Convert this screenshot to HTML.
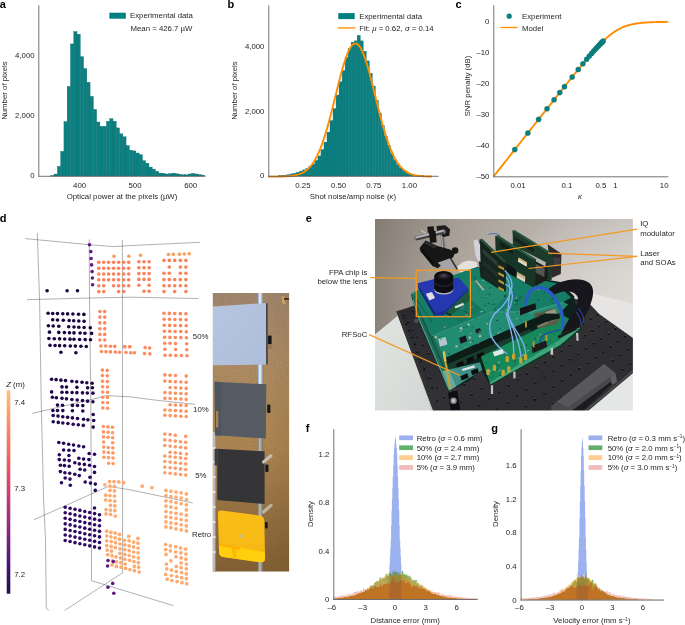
<!DOCTYPE html>
<html><head><meta charset="utf-8"><title>Figure</title>
<style>
html,body{margin:0;padding:0;background:#fff;}
body{width:685px;height:625px;overflow:hidden;font-family:"Liberation Sans",sans-serif;}
svg{display:block;}
svg text{filter:opacity(1);}
svg text{font-family:"Liberation Sans",sans-serif;}
</style></head><body>
<svg width="685" height="625" viewBox="0 0 685 625">
<rect width="685" height="625" fill="#fff"/>
<rect x="50.85" y="175.50" width="3.27" height="0.50" fill="#0c8080" stroke="#0a6c6e" stroke-width="0.35"/>
<rect x="54.12" y="174.00" width="3.27" height="2.00" fill="#0c8080" stroke="#0a6c6e" stroke-width="0.35"/>
<rect x="57.39" y="166.30" width="3.27" height="9.70" fill="#0c8080" stroke="#0a6c6e" stroke-width="0.35"/>
<rect x="60.66" y="151.40" width="3.27" height="24.60" fill="#0c8080" stroke="#0a6c6e" stroke-width="0.35"/>
<rect x="63.93" y="121.50" width="3.27" height="54.50" fill="#0c8080" stroke="#0a6c6e" stroke-width="0.35"/>
<rect x="67.20" y="86.40" width="3.27" height="89.60" fill="#0c8080" stroke="#0a6c6e" stroke-width="0.35"/>
<rect x="70.47" y="43.90" width="3.27" height="132.10" fill="#0c8080" stroke="#0a6c6e" stroke-width="0.35"/>
<rect x="73.74" y="31.60" width="3.27" height="144.40" fill="#0c8080" stroke="#0a6c6e" stroke-width="0.35"/>
<rect x="77.01" y="34.20" width="3.27" height="141.80" fill="#0c8080" stroke="#0a6c6e" stroke-width="0.35"/>
<rect x="80.28" y="56.70" width="3.27" height="119.30" fill="#0c8080" stroke="#0a6c6e" stroke-width="0.35"/>
<rect x="83.55" y="68.50" width="3.27" height="107.50" fill="#0c8080" stroke="#0a6c6e" stroke-width="0.35"/>
<rect x="86.82" y="82.30" width="3.27" height="93.70" fill="#0c8080" stroke="#0a6c6e" stroke-width="0.35"/>
<rect x="90.09" y="96.40" width="3.27" height="79.60" fill="#0c8080" stroke="#0a6c6e" stroke-width="0.35"/>
<rect x="93.36" y="109.40" width="3.27" height="66.60" fill="#0c8080" stroke="#0a6c6e" stroke-width="0.35"/>
<rect x="96.63" y="122.00" width="3.27" height="54.00" fill="#0c8080" stroke="#0a6c6e" stroke-width="0.35"/>
<rect x="99.90" y="126.30" width="3.27" height="49.70" fill="#0c8080" stroke="#0a6c6e" stroke-width="0.35"/>
<rect x="103.17" y="126.30" width="3.27" height="49.70" fill="#0c8080" stroke="#0a6c6e" stroke-width="0.35"/>
<rect x="106.44" y="121.20" width="3.27" height="54.80" fill="#0c8080" stroke="#0a6c6e" stroke-width="0.35"/>
<rect x="109.71" y="118.70" width="3.27" height="57.30" fill="#0c8080" stroke="#0a6c6e" stroke-width="0.35"/>
<rect x="112.98" y="121.20" width="3.27" height="54.80" fill="#0c8080" stroke="#0a6c6e" stroke-width="0.35"/>
<rect x="116.25" y="127.90" width="3.27" height="48.10" fill="#0c8080" stroke="#0a6c6e" stroke-width="0.35"/>
<rect x="119.52" y="133.80" width="3.27" height="42.20" fill="#0c8080" stroke="#0a6c6e" stroke-width="0.35"/>
<rect x="122.79" y="136.80" width="3.27" height="39.20" fill="#0c8080" stroke="#0a6c6e" stroke-width="0.35"/>
<rect x="126.06" y="145.60" width="3.27" height="30.40" fill="#0c8080" stroke="#0a6c6e" stroke-width="0.35"/>
<rect x="129.33" y="150.20" width="3.27" height="25.80" fill="#0c8080" stroke="#0a6c6e" stroke-width="0.35"/>
<rect x="132.60" y="150.90" width="3.27" height="25.10" fill="#0c8080" stroke="#0a6c6e" stroke-width="0.35"/>
<rect x="135.87" y="153.00" width="3.27" height="23.00" fill="#0c8080" stroke="#0a6c6e" stroke-width="0.35"/>
<rect x="139.14" y="154.70" width="3.27" height="21.30" fill="#0c8080" stroke="#0a6c6e" stroke-width="0.35"/>
<rect x="142.41" y="160.70" width="3.27" height="15.30" fill="#0c8080" stroke="#0a6c6e" stroke-width="0.35"/>
<rect x="145.68" y="163.20" width="3.27" height="12.80" fill="#0c8080" stroke="#0a6c6e" stroke-width="0.35"/>
<rect x="148.95" y="167.10" width="3.27" height="8.90" fill="#0c8080" stroke="#0a6c6e" stroke-width="0.35"/>
<rect x="152.22" y="169.10" width="3.27" height="6.90" fill="#0c8080" stroke="#0a6c6e" stroke-width="0.35"/>
<rect x="155.49" y="171.30" width="3.27" height="4.70" fill="#0c8080" stroke="#0a6c6e" stroke-width="0.35"/>
<rect x="158.76" y="173.10" width="3.27" height="2.90" fill="#0c8080" stroke="#0a6c6e" stroke-width="0.35"/>
<rect x="162.03" y="173.40" width="3.27" height="2.60" fill="#0c8080" stroke="#0a6c6e" stroke-width="0.35"/>
<rect x="165.30" y="174.00" width="3.27" height="2.00" fill="#0c8080" stroke="#0a6c6e" stroke-width="0.35"/>
<rect x="168.57" y="173.70" width="3.27" height="2.30" fill="#0c8080" stroke="#0a6c6e" stroke-width="0.35"/>
<rect x="171.84" y="173.20" width="3.27" height="2.80" fill="#0c8080" stroke="#0a6c6e" stroke-width="0.35"/>
<rect x="175.11" y="173.80" width="3.27" height="2.20" fill="#0c8080" stroke="#0a6c6e" stroke-width="0.35"/>
<rect x="178.38" y="174.25" width="3.27" height="1.75" fill="#0c8080" stroke="#0a6c6e" stroke-width="0.35"/>
<rect x="181.65" y="174.80" width="3.27" height="1.20" fill="#0c8080" stroke="#0a6c6e" stroke-width="0.35"/>
<rect x="184.92" y="174.80" width="3.27" height="1.20" fill="#0c8080" stroke="#0a6c6e" stroke-width="0.35"/>
<rect x="188.19" y="174.00" width="3.27" height="2.00" fill="#0c8080" stroke="#0a6c6e" stroke-width="0.35"/>
<rect x="191.46" y="173.40" width="3.27" height="2.60" fill="#0c8080" stroke="#0a6c6e" stroke-width="0.35"/>
<rect x="194.73" y="174.00" width="3.27" height="2.00" fill="#0c8080" stroke="#0a6c6e" stroke-width="0.35"/>
<rect x="198.00" y="174.70" width="3.27" height="1.30" fill="#0c8080" stroke="#0a6c6e" stroke-width="0.35"/>
<rect x="201.27" y="175.10" width="3.27" height="0.90" fill="#0c8080" stroke="#0a6c6e" stroke-width="0.35"/>
<line x1="38.80" y1="5.30" x2="38.80" y2="176.70" stroke="#5a5a5a" stroke-width="0.85" />
<line x1="38.40" y1="176.30" x2="205.50" y2="176.30" stroke="#5a5a5a" stroke-width="0.85" />
<text x="34.60" y="178.45" font-size="7.8" text-anchor="end" fill="#262626" >0</text>
<text x="34.60" y="118.45" font-size="7.8" text-anchor="end" fill="#262626" >2,000</text>
<text x="34.60" y="58.45" font-size="7.8" text-anchor="end" fill="#262626" >4,000</text>
<text x="79.60" y="187.80" font-size="7.8" text-anchor="middle" fill="#262626" >400</text>
<text x="135.00" y="187.80" font-size="7.8" text-anchor="middle" fill="#262626" >500</text>
<text x="190.70" y="187.80" font-size="7.8" text-anchor="middle" fill="#262626" >600</text>
<text transform="translate(7.20,90.60) rotate(-90)" font-size="7.8" text-anchor="middle" fill="#262626">Number of pixels</text>
<text x="122.00" y="199.30" font-size="7.8" text-anchor="middle" fill="#262626" >Optical power at the pixels (µW)</text>
<rect x="109.40" y="12.70" width="16.40" height="6.00" fill="#008080" />
<text x="130.00" y="18.20" font-size="7.8" text-anchor="start" fill="#262626" >Experimental data</text>
<text x="130.50" y="31.20" font-size="7.8" text-anchor="start" fill="#262626" >Mean = 426.7 µW</text>
<text x="-0.30" y="7.90" font-size="11" text-anchor="start" font-weight="bold" fill="#000" >a</text>
<rect x="278.65" y="175.69" width="3.02" height="0.31" fill="#0c8080" stroke="#0a6c6e" stroke-width="0.35"/>
<rect x="281.67" y="175.45" width="3.02" height="0.55" fill="#0c8080" stroke="#0a6c6e" stroke-width="0.35"/>
<rect x="284.69" y="175.09" width="3.02" height="0.91" fill="#0c8080" stroke="#0a6c6e" stroke-width="0.35"/>
<rect x="287.71" y="174.58" width="3.02" height="1.42" fill="#0c8080" stroke="#0a6c6e" stroke-width="0.35"/>
<rect x="290.73" y="173.91" width="3.02" height="2.09" fill="#0c8080" stroke="#0a6c6e" stroke-width="0.35"/>
<rect x="293.75" y="173.13" width="3.02" height="2.87" fill="#0c8080" stroke="#0a6c6e" stroke-width="0.35"/>
<rect x="296.77" y="172.20" width="3.02" height="3.80" fill="#0c8080" stroke="#0a6c6e" stroke-width="0.35"/>
<rect x="299.79" y="171.06" width="3.02" height="4.94" fill="#0c8080" stroke="#0a6c6e" stroke-width="0.35"/>
<rect x="302.81" y="169.93" width="3.02" height="6.07" fill="#0c8080" stroke="#0a6c6e" stroke-width="0.35"/>
<rect x="305.84" y="168.50" width="3.02" height="7.50" fill="#0c8080" stroke="#0a6c6e" stroke-width="0.35"/>
<rect x="308.86" y="166.50" width="3.02" height="9.50" fill="#0c8080" stroke="#0a6c6e" stroke-width="0.35"/>
<rect x="311.88" y="164.12" width="3.02" height="11.88" fill="#0c8080" stroke="#0a6c6e" stroke-width="0.35"/>
<rect x="314.90" y="160.53" width="3.02" height="15.47" fill="#0c8080" stroke="#0a6c6e" stroke-width="0.35"/>
<rect x="317.92" y="155.96" width="3.02" height="20.04" fill="#0c8080" stroke="#0a6c6e" stroke-width="0.35"/>
<rect x="320.94" y="149.65" width="3.02" height="26.35" fill="#0c8080" stroke="#0a6c6e" stroke-width="0.35"/>
<rect x="323.96" y="142.14" width="3.02" height="33.86" fill="#0c8080" stroke="#0a6c6e" stroke-width="0.35"/>
<rect x="326.98" y="132.13" width="3.02" height="43.87" fill="#0c8080" stroke="#0a6c6e" stroke-width="0.35"/>
<rect x="330.00" y="120.63" width="3.02" height="55.37" fill="#0c8080" stroke="#0a6c6e" stroke-width="0.35"/>
<rect x="333.02" y="108.66" width="3.02" height="67.34" fill="#0c8080" stroke="#0a6c6e" stroke-width="0.35"/>
<rect x="336.04" y="95.03" width="3.02" height="80.97" fill="#0c8080" stroke="#0a6c6e" stroke-width="0.35"/>
<rect x="339.06" y="81.76" width="3.02" height="94.24" fill="#0c8080" stroke="#0a6c6e" stroke-width="0.35"/>
<rect x="342.08" y="70.53" width="3.02" height="105.47" fill="#0c8080" stroke="#0a6c6e" stroke-width="0.35"/>
<rect x="345.10" y="57.36" width="3.02" height="118.64" fill="#0c8080" stroke="#0a6c6e" stroke-width="0.35"/>
<rect x="348.12" y="48.68" width="3.02" height="127.32" fill="#0c8080" stroke="#0a6c6e" stroke-width="0.35"/>
<rect x="351.14" y="42.16" width="3.02" height="133.84" fill="#0c8080" stroke="#0a6c6e" stroke-width="0.35"/>
<rect x="354.16" y="40.87" width="3.02" height="135.13" fill="#0c8080" stroke="#0a6c6e" stroke-width="0.35"/>
<rect x="357.18" y="35.39" width="3.02" height="140.61" fill="#0c8080" stroke="#0a6c6e" stroke-width="0.35"/>
<rect x="360.20" y="40.87" width="3.02" height="135.13" fill="#0c8080" stroke="#0a6c6e" stroke-width="0.35"/>
<rect x="363.22" y="51.27" width="3.02" height="124.73" fill="#0c8080" stroke="#0a6c6e" stroke-width="0.35"/>
<rect x="366.24" y="60.89" width="3.02" height="115.11" fill="#0c8080" stroke="#0a6c6e" stroke-width="0.35"/>
<rect x="369.26" y="73.33" width="3.02" height="102.67" fill="#0c8080" stroke="#0a6c6e" stroke-width="0.35"/>
<rect x="372.28" y="86.02" width="3.02" height="89.98" fill="#0c8080" stroke="#0a6c6e" stroke-width="0.35"/>
<rect x="375.30" y="100.54" width="3.02" height="75.46" fill="#0c8080" stroke="#0a6c6e" stroke-width="0.35"/>
<rect x="378.32" y="112.97" width="3.02" height="63.03" fill="#0c8080" stroke="#0a6c6e" stroke-width="0.35"/>
<rect x="381.34" y="125.66" width="3.02" height="50.34" fill="#0c8080" stroke="#0a6c6e" stroke-width="0.35"/>
<rect x="384.36" y="136.04" width="3.02" height="39.96" fill="#0c8080" stroke="#0a6c6e" stroke-width="0.35"/>
<rect x="387.38" y="145.51" width="3.02" height="30.49" fill="#0c8080" stroke="#0a6c6e" stroke-width="0.35"/>
<rect x="390.40" y="153.73" width="3.02" height="22.27" fill="#0c8080" stroke="#0a6c6e" stroke-width="0.35"/>
<rect x="393.43" y="159.85" width="3.02" height="16.15" fill="#0c8080" stroke="#0a6c6e" stroke-width="0.35"/>
<rect x="396.45" y="164.58" width="3.02" height="11.42" fill="#0c8080" stroke="#0a6c6e" stroke-width="0.35"/>
<rect x="399.47" y="168.01" width="3.02" height="7.99" fill="#0c8080" stroke="#0a6c6e" stroke-width="0.35"/>
<rect x="402.49" y="170.71" width="3.02" height="5.29" fill="#0c8080" stroke="#0a6c6e" stroke-width="0.35"/>
<rect x="405.51" y="172.54" width="3.02" height="3.46" fill="#0c8080" stroke="#0a6c6e" stroke-width="0.35"/>
<rect x="408.53" y="173.82" width="3.02" height="2.18" fill="#0c8080" stroke="#0a6c6e" stroke-width="0.35"/>
<rect x="411.55" y="174.64" width="3.02" height="1.36" fill="#0c8080" stroke="#0a6c6e" stroke-width="0.35"/>
<rect x="414.57" y="175.19" width="3.02" height="0.81" fill="#0c8080" stroke="#0a6c6e" stroke-width="0.35"/>
<rect x="417.59" y="175.52" width="3.02" height="0.48" fill="#0c8080" stroke="#0a6c6e" stroke-width="0.35"/>
<rect x="420.61" y="175.73" width="3.02" height="0.27" fill="#0c8080" stroke="#0a6c6e" stroke-width="0.35"/>
<polyline points="268.16,176.64 268.98,176.64 269.80,176.64 270.62,176.64 271.43,176.63 272.25,176.63 273.07,176.63 273.89,176.62 274.71,176.62 275.53,176.61 276.35,176.60 277.17,176.59 277.99,176.58 278.80,176.57 279.62,176.56 280.44,176.54 281.26,176.52 282.08,176.50 282.90,176.48 283.72,176.45 284.54,176.42 285.36,176.38 286.17,176.34 286.99,176.30 287.81,176.24 288.63,176.18 289.45,176.11 290.27,176.03 291.09,175.95 291.91,175.85 292.73,175.73 293.54,175.61 294.36,175.46 295.18,175.30 296.00,175.13 296.82,174.93 297.64,174.71 298.46,174.46 299.28,174.19 300.10,173.89 300.91,173.55 301.73,173.19 302.55,172.78 303.37,172.34 304.19,171.85 305.01,171.31 305.83,170.73 306.65,170.09 307.47,169.40 308.28,168.65 309.10,167.83 309.92,166.95 310.74,166.00 311.56,164.98 312.38,163.88 313.20,162.69 314.02,161.43 314.84,160.08 315.65,158.64 316.47,157.10 317.29,155.48 318.11,153.75 318.93,151.93 319.75,150.01 320.57,147.99 321.39,145.87 322.21,143.64 323.02,141.32 323.84,138.89 324.66,136.37 325.48,133.76 326.30,131.05 327.12,128.25 327.94,125.37 328.76,122.40 329.58,119.37 330.40,116.27 331.21,113.11 332.03,109.89 332.85,106.64 333.67,103.35 334.49,100.03 335.31,96.70 336.13,93.37 336.95,90.05 337.77,86.74 338.58,83.47 339.40,80.25 340.22,77.08 341.04,73.99 341.86,70.98 342.68,68.06 343.50,65.26 344.32,62.57 345.14,60.02 345.95,57.62 346.77,55.37 347.59,53.29 348.41,51.39 349.23,49.67 350.05,48.15 350.87,46.83 351.69,45.73 352.51,44.83 353.32,44.16 354.14,43.71 354.96,43.49 355.78,43.49 356.60,43.71 357.42,44.17 358.24,44.84 359.06,45.74 359.88,46.85 360.69,48.17 361.51,49.69 362.33,51.41 363.15,53.31 363.97,55.40 364.79,57.65 365.61,60.05 366.43,62.61 367.25,65.29 368.06,68.10 368.88,71.02 369.70,74.03 370.52,77.12 371.34,80.29 372.16,83.52 372.98,86.79 373.80,90.09 374.62,93.41 375.43,96.74 376.25,100.07 377.07,103.39 377.89,106.68 378.71,109.93 379.53,113.15 380.35,116.31 381.17,119.41 381.99,122.44 382.80,125.40 383.62,128.29 384.44,131.08 385.26,133.79 386.08,136.41 386.90,138.93 387.72,141.35 388.54,143.67 389.36,145.89 390.17,148.02 390.99,150.04 391.81,151.96 392.63,153.78 393.45,155.50 394.27,157.13 395.09,158.66 395.91,160.10 396.73,161.45 397.54,162.71 398.36,163.89 399.18,164.99 400.00,166.01 400.82,166.97 401.64,167.85 402.46,168.66 403.28,169.41 404.10,170.10 404.91,170.74 405.73,171.32 406.55,171.85 407.37,172.34 408.19,172.79 409.01,173.19 409.83,173.56 410.65,173.89 411.47,174.19 412.28,174.47 413.10,174.71 413.92,174.93 414.74,175.13 415.56,175.31 416.38,175.47 417.20,175.61 418.02,175.73 418.84,175.85 419.65,175.95 420.47,176.04 421.29,176.11 422.11,176.18 422.93,176.24 423.75,176.30 424.57,176.34 425.39,176.39 426.21,176.42 427.02,176.45 427.84,176.48 428.66,176.50 429.48,176.52 430.30,176.54 431.12,176.56 431.94,176.57" fill="none" stroke="#ff8c00" stroke-width="1.9" stroke-linejoin="round"/>
<line x1="268.80" y1="5.30" x2="268.80" y2="176.70" stroke="#5a5a5a" stroke-width="0.85" />
<line x1="268.40" y1="176.30" x2="438.60" y2="176.30" stroke="#5a5a5a" stroke-width="0.85" />
<text x="264.40" y="178.45" font-size="7.8" text-anchor="end" fill="#262626" >0</text>
<text x="264.40" y="114.15" font-size="7.8" text-anchor="end" fill="#262626" >2,000</text>
<text x="264.40" y="49.45" font-size="7.8" text-anchor="end" fill="#262626" >4,000</text>
<text x="302.90" y="187.80" font-size="7.8" text-anchor="middle" fill="#262626" >0.25</text>
<text x="338.50" y="187.80" font-size="7.8" text-anchor="middle" fill="#262626" >0.50</text>
<text x="373.80" y="187.80" font-size="7.8" text-anchor="middle" fill="#262626" >0.75</text>
<text x="409.40" y="187.80" font-size="7.8" text-anchor="middle" fill="#262626" >1.00</text>
<text transform="translate(236.50,90.60) rotate(-90)" font-size="7.8" text-anchor="middle" fill="#262626">Number of pixels</text>
<text x="353.00" y="199.30" font-size="7.8" text-anchor="middle" fill="#262626" >Shot noise/amp noise (<tspan font-style="italic">κ</tspan>)</text>
<rect x="338.30" y="13.10" width="16.40" height="6.00" fill="#008080" />
<text x="359.20" y="18.60" font-size="7.8" text-anchor="start" fill="#262626" >Experimental data</text>
<line x1="338.00" y1="27.90" x2="355.30" y2="27.90" stroke="#ff8c00" stroke-width="1.35" />
<text x="359.20" y="30.60" font-size="7.8" text-anchor="start" fill="#262626" >Fit: <tspan font-style="italic">μ</tspan> = 0.62, <tspan font-style="italic">σ</tspan> = 0.14</text>
<text x="227.50" y="7.90" font-size="11" text-anchor="start" font-weight="bold" fill="#000" >b</text>
<polyline points="493.60,176.49 494.19,175.75 494.77,175.01 495.35,174.27 495.93,173.53 496.52,172.79 497.10,172.05 497.68,171.31 498.26,170.57 498.85,169.83 499.43,169.09 500.01,168.36 500.59,167.62 501.18,166.88 501.76,166.14 502.34,165.40 502.92,164.66 503.51,163.92 504.09,163.18 504.67,162.44 505.25,161.70 505.84,160.96 506.42,160.23 507.00,159.49 507.58,158.75 508.17,158.01 508.75,157.27 509.33,156.53 509.91,155.79 510.50,155.05 511.08,154.31 511.66,153.57 512.24,152.83 512.82,152.09 513.41,151.36 513.99,150.62 514.57,149.88 515.15,149.14 515.74,148.40 516.32,147.66 516.90,146.92 517.48,146.18 518.07,145.44 518.65,144.70 519.23,143.97 519.81,143.23 520.40,142.49 520.98,141.75 521.56,141.01 522.14,140.27 522.73,139.53 523.31,138.79 523.89,138.05 524.47,137.31 525.06,136.58 525.64,135.84 526.22,135.10 526.80,134.36 527.39,133.62 527.97,132.88 528.55,132.14 529.13,131.40 529.72,130.66 530.30,129.92 530.88,129.19 531.46,128.45 532.05,127.71 532.63,126.97 533.21,126.23 533.79,125.49 534.38,124.75 534.96,124.01 535.54,123.28 536.12,122.54 536.71,121.80 537.29,121.06 537.87,120.32 538.45,119.58 539.04,118.84 539.62,118.10 540.20,117.37 540.78,116.63 541.36,115.89 541.95,115.15 542.53,114.41 543.11,113.67 543.69,112.94 544.28,112.20 544.86,111.46 545.44,110.72 546.02,109.98 546.61,109.24 547.19,108.51 547.77,107.77 548.35,107.03 548.94,106.29 549.52,105.56 550.10,104.82 550.68,104.08 551.27,103.34 551.85,102.61 552.43,101.87 553.01,101.13 553.60,100.39 554.18,99.66 554.76,98.92 555.34,98.18 555.93,97.45 556.51,96.71 557.09,95.97 557.67,95.24 558.26,94.50 558.84,93.77 559.42,93.03 560.00,92.30 560.59,91.56 561.17,90.83 561.75,90.09 562.33,89.36 562.92,88.62 563.50,87.89 564.08,87.15 564.66,86.42 565.25,85.69 565.83,84.96 566.41,84.22 566.99,83.49 567.58,82.76 568.16,82.03 568.74,81.30 569.32,80.57 569.91,79.84 570.49,79.11 571.07,78.38 571.65,77.65 572.23,76.93 572.82,76.20 573.40,75.47 573.98,74.75 574.56,74.02 575.15,73.30 575.73,72.58 576.31,71.86 576.89,71.13 577.48,70.41 578.06,69.70 578.64,68.98 579.22,68.26 579.81,67.55 580.39,66.83 580.97,66.12 581.55,65.41 582.14,64.70 582.72,63.99 583.30,63.28 583.88,62.58 584.47,61.88 585.05,61.18 585.63,60.48 586.21,59.78 586.80,59.09 587.38,58.39 587.96,57.70 588.54,57.02 589.13,56.33 589.71,55.65 590.29,54.97 590.87,54.30 591.46,53.63 592.04,52.96 592.62,52.29 593.20,51.63 593.79,50.98 594.37,50.32 594.95,49.67 595.53,49.03 596.12,48.39 596.70,47.76 597.28,47.13 597.86,46.50 598.45,45.88 599.03,45.27 599.61,44.66 600.19,44.06 600.78,43.46 601.36,42.88 601.94,42.29 602.52,41.72 603.10,41.15 603.69,40.59 604.27,40.04 604.85,39.49 605.43,38.95 606.02,38.42 606.60,37.90 607.18,37.39 607.76,36.89 608.35,36.39 608.93,35.91 609.51,35.43 610.09,34.97 610.68,34.51 611.26,34.06 611.84,33.62 612.42,33.19 613.01,32.78 613.59,32.37 614.17,31.97 614.75,31.58 615.34,31.21 615.92,30.84 616.50,30.48 617.08,30.13 617.67,29.80 618.25,29.47 618.83,29.15 619.41,28.85 620.00,28.55 620.58,28.26 621.16,27.99 621.74,27.72 622.33,27.46 622.91,27.21 623.49,26.97 624.07,26.74 624.66,26.51 625.24,26.30 625.82,26.09 626.40,25.89 626.99,25.70 627.57,25.52 628.15,25.34 628.73,25.18 629.32,25.02 629.90,24.86 630.48,24.71 631.06,24.57 631.65,24.44 632.23,24.31 632.81,24.19 633.39,24.07 633.97,23.96 634.56,23.85 635.14,23.75 635.72,23.65 636.30,23.56 636.89,23.47 637.47,23.38 638.05,23.30 638.63,23.23 639.22,23.15 639.80,23.08 640.38,23.02 640.96,22.96 641.55,22.90 642.13,22.84 642.71,22.79 643.29,22.74 643.88,22.69 644.46,22.64 645.04,22.60 645.62,22.56 646.21,22.52 646.79,22.48 647.37,22.44 647.95,22.41 648.54,22.38 649.12,22.35 649.70,22.32 650.28,22.29 650.87,22.27 651.45,22.24 652.03,22.22 652.61,22.20 653.20,22.17 653.78,22.15 654.36,22.14 654.94,22.12 655.53,22.10 656.11,22.09 656.69,22.07 657.27,22.06 657.86,22.04 658.44,22.03 659.02,22.02 659.60,22.01 660.19,21.99 660.77,21.98 661.35,21.97 661.93,21.97 662.51,21.96 663.10,21.95 663.68,21.94 664.26,21.93 664.84,21.93 665.43,21.92 666.01,21.91 666.59,21.91 667.17,21.90 667.76,21.90 668.34,21.89" fill="none" stroke="#ff8c00" stroke-width="1.9" stroke-linejoin="round" stroke-linecap="butt"/>
<circle cx="514.77" cy="149.62" r="2.55" fill="#0c8080" stroke="#056c6c" stroke-width="0.4"/>
<circle cx="527.87" cy="133.01" r="2.55" fill="#0c8080" stroke="#056c6c" stroke-width="0.4"/>
<circle cx="538.61" cy="119.38" r="2.55" fill="#0c8080" stroke="#056c6c" stroke-width="0.4"/>
<circle cx="547.01" cy="108.74" r="2.55" fill="#0c8080" stroke="#056c6c" stroke-width="0.4"/>
<circle cx="554.06" cy="99.81" r="2.55" fill="#0c8080" stroke="#056c6c" stroke-width="0.4"/>
<circle cx="559.77" cy="92.59" r="2.55" fill="#0c8080" stroke="#056c6c" stroke-width="0.4"/>
<circle cx="564.47" cy="86.66" r="2.55" fill="#0c8080" stroke="#056c6c" stroke-width="0.4"/>
<circle cx="572.19" cy="76.98" r="2.55" fill="#0c8080" stroke="#056c6c" stroke-width="0.4"/>
<circle cx="578.24" cy="69.48" r="2.55" fill="#0c8080" stroke="#056c6c" stroke-width="0.4"/>
<circle cx="582.94" cy="63.72" r="2.55" fill="#0c8080" stroke="#056c6c" stroke-width="0.4"/>
<circle cx="586.63" cy="59.28" r="2.55" fill="#0c8080" stroke="#056c6c" stroke-width="0.4"/>
<circle cx="589.32" cy="56.11" r="2.55" fill="#0c8080" stroke="#056c6c" stroke-width="0.4"/>
<circle cx="591.67" cy="53.38" r="2.55" fill="#0c8080" stroke="#056c6c" stroke-width="0.4"/>
<circle cx="593.68" cy="51.09" r="2.55" fill="#0c8080" stroke="#056c6c" stroke-width="0.4"/>
<circle cx="595.36" cy="49.22" r="2.55" fill="#0c8080" stroke="#056c6c" stroke-width="0.4"/>
<circle cx="596.71" cy="47.75" r="2.55" fill="#0c8080" stroke="#056c6c" stroke-width="0.4"/>
<circle cx="598.38" cy="45.95" r="2.55" fill="#0c8080" stroke="#056c6c" stroke-width="0.4"/>
<circle cx="599.73" cy="44.54" r="2.55" fill="#0c8080" stroke="#056c6c" stroke-width="0.4"/>
<circle cx="601.07" cy="43.16" r="2.55" fill="#0c8080" stroke="#056c6c" stroke-width="0.4"/>
<circle cx="602.08" cy="42.16" r="2.55" fill="#0c8080" stroke="#056c6c" stroke-width="0.4"/>
<circle cx="603.09" cy="41.17" r="2.55" fill="#0c8080" stroke="#056c6c" stroke-width="0.4"/>
<line x1="493.80" y1="5.30" x2="493.80" y2="177.20" stroke="#5a5a5a" stroke-width="0.85" />
<line x1="493.40" y1="176.80" x2="668.30" y2="176.80" stroke="#5a5a5a" stroke-width="0.85" />
<text x="489.40" y="24.25" font-size="7.8" text-anchor="end" fill="#262626" >0</text>
<text x="489.40" y="55.15" font-size="7.8" text-anchor="end" fill="#262626" >–10</text>
<text x="489.40" y="86.05" font-size="7.8" text-anchor="end" fill="#262626" >–20</text>
<text x="489.40" y="116.95" font-size="7.8" text-anchor="end" fill="#262626" >–30</text>
<text x="489.40" y="147.85" font-size="7.8" text-anchor="end" fill="#262626" >–40</text>
<text x="489.40" y="178.75" font-size="7.8" text-anchor="end" fill="#262626" >–50</text>
<text x="518.10" y="187.80" font-size="7.8" text-anchor="middle" fill="#262626" >0.01</text>
<text x="566.80" y="187.80" font-size="7.8" text-anchor="middle" fill="#262626" >0.1</text>
<text x="600.84" y="187.80" font-size="7.8" text-anchor="middle" fill="#262626" >0.5</text>
<text x="615.50" y="187.80" font-size="7.8" text-anchor="middle" fill="#262626" >1</text>
<text x="664.20" y="187.80" font-size="7.8" text-anchor="middle" fill="#262626" >10</text>
<text transform="translate(470.30,86.00) rotate(-90)" font-size="7.8" text-anchor="middle" fill="#262626">SNR penalty (dB)</text>
<text x="580.00" y="198.50" font-size="7.8" text-anchor="middle" fill="#262626" ><tspan font-style="italic">κ</tspan></text>
<circle cx="509.20" cy="16.20" r="2.6" fill="#0c8080" />
<text x="522.00" y="18.90" font-size="7.8" text-anchor="start" fill="#262626" >Experiment</text>
<line x1="500.50" y1="27.50" x2="517.50" y2="27.50" stroke="#ff8c00" stroke-width="1.35" />
<text x="522.00" y="30.50" font-size="7.8" text-anchor="start" fill="#262626" >Model</text>
<text x="455.50" y="7.90" font-size="11" text-anchor="start" font-weight="bold" fill="#000" >c</text>
<polyline points="25.20,238.60 89.20,244.70 113.20,246.60 130.00,245.60 200.00,242.30" fill="none" stroke="#444" stroke-width="0.42" />
<polyline points="37.30,233.00 39.60,300.00 41.20,400.00 43.60,500.00 45.50,540.00 46.30,608.50 48.90,610.20" fill="none" stroke="#444" stroke-width="0.42" />
<polyline points="89.20,239.50 89.50,300.00 90.80,400.00 91.40,500.00 91.50,580.70" fill="none" stroke="#444" stroke-width="0.42" />
<polyline points="122.40,240.00 122.60,572.80" fill="none" stroke="#444" stroke-width="0.42" />
<polyline points="27.00,299.70 89.20,298.00 130.00,297.20 198.40,298.50" fill="none" stroke="#444" stroke-width="0.42" />
<polyline points="31.90,413.50 90.00,399.90 106.80,395.60 130.00,396.80 154.40,400.00 195.20,404.40" fill="none" stroke="#444" stroke-width="0.42" />
<polyline points="34.00,519.70 108.60,486.30 130.00,489.80 192.80,502.90" fill="none" stroke="#444" stroke-width="0.42" />
<polyline points="91.50,580.70 173.70,605.70" fill="none" stroke="#444" stroke-width="0.42" />
<polyline points="122.60,572.80 64.70,610.40" fill="none" stroke="#444" stroke-width="0.42" />
<circle cx="98.80" cy="262.20" r="1.8" fill="#fa825a" />
<circle cx="103.70" cy="262.20" r="1.8" fill="#fa825a" />
<circle cx="108.60" cy="262.20" r="1.8" fill="#fa825a" />
<circle cx="113.60" cy="262.20" r="1.8" fill="#fa825a" />
<circle cx="118.60" cy="262.20" r="1.8" fill="#fa825a" />
<circle cx="123.70" cy="262.20" r="1.8" fill="#fa825a" />
<circle cx="128.70" cy="262.20" r="1.8" fill="#fa825a" />
<circle cx="98.80" cy="268.20" r="1.8" fill="#fa825a" />
<circle cx="103.70" cy="268.20" r="1.8" fill="#fa825a" />
<circle cx="108.60" cy="268.20" r="1.8" fill="#fa825a" />
<circle cx="113.60" cy="268.20" r="1.8" fill="#fa825a" />
<circle cx="118.60" cy="268.20" r="1.8" fill="#fa825a" />
<circle cx="123.70" cy="268.20" r="1.8" fill="#fa825a" />
<circle cx="128.70" cy="268.20" r="1.8" fill="#fa825a" />
<circle cx="98.80" cy="274.00" r="1.8" fill="#fa825a" />
<circle cx="103.70" cy="274.00" r="1.8" fill="#fa825a" />
<circle cx="108.60" cy="274.00" r="1.8" fill="#fa825a" />
<circle cx="113.60" cy="274.00" r="1.8" fill="#fa825a" />
<circle cx="118.60" cy="274.00" r="1.8" fill="#fa825a" />
<circle cx="123.70" cy="274.00" r="1.8" fill="#fa825a" />
<circle cx="128.70" cy="274.00" r="1.8" fill="#fa825a" />
<circle cx="98.80" cy="279.80" r="1.8" fill="#fa825a" />
<circle cx="103.70" cy="279.80" r="1.8" fill="#fa825a" />
<circle cx="108.60" cy="279.80" r="1.8" fill="#fa825a" />
<circle cx="113.60" cy="279.80" r="1.8" fill="#fa825a" />
<circle cx="118.60" cy="279.80" r="1.8" fill="#fa825a" />
<circle cx="123.70" cy="279.80" r="1.8" fill="#fa825a" />
<circle cx="128.70" cy="279.80" r="1.8" fill="#fa825a" />
<circle cx="98.80" cy="285.70" r="1.8" fill="#fa825a" />
<circle cx="103.70" cy="285.70" r="1.8" fill="#fa825a" />
<circle cx="113.60" cy="285.70" r="1.8" fill="#fa825a" />
<circle cx="118.60" cy="285.70" r="1.8" fill="#fa825a" />
<circle cx="123.70" cy="285.70" r="1.8" fill="#fa825a" />
<circle cx="128.70" cy="285.70" r="1.8" fill="#fa825a" />
<circle cx="98.80" cy="291.60" r="1.8" fill="#fa825a" />
<circle cx="103.70" cy="291.60" r="1.8" fill="#fa825a" />
<circle cx="118.60" cy="291.60" r="1.8" fill="#fa825a" />
<circle cx="123.70" cy="291.60" r="1.8" fill="#fa825a" />
<circle cx="138.90" cy="261.80" r="1.8" fill="#fa825a" />
<circle cx="144.00" cy="261.80" r="1.8" fill="#fa825a" />
<circle cx="149.10" cy="261.80" r="1.8" fill="#fa825a" />
<circle cx="138.90" cy="267.80" r="1.8" fill="#fa825a" />
<circle cx="144.00" cy="267.80" r="1.8" fill="#fa825a" />
<circle cx="149.10" cy="267.80" r="1.8" fill="#fa825a" />
<circle cx="138.90" cy="273.60" r="1.8" fill="#fa825a" />
<circle cx="144.00" cy="273.60" r="1.8" fill="#fa825a" />
<circle cx="149.10" cy="273.60" r="1.8" fill="#fa825a" />
<circle cx="138.90" cy="279.40" r="1.8" fill="#fa825a" />
<circle cx="144.00" cy="279.40" r="1.8" fill="#fa825a" />
<circle cx="149.10" cy="279.40" r="1.8" fill="#fa825a" />
<circle cx="138.90" cy="285.30" r="1.8" fill="#fa825a" />
<circle cx="149.10" cy="285.30" r="1.8" fill="#fa825a" />
<circle cx="144.00" cy="291.20" r="1.8" fill="#fa825a" />
<circle cx="149.10" cy="291.20" r="1.8" fill="#fa825a" />
<circle cx="164.00" cy="260.40" r="1.8" fill="#fa825a" />
<circle cx="169.30" cy="260.40" r="1.8" fill="#fa825a" />
<circle cx="174.70" cy="260.40" r="1.8" fill="#fa825a" />
<circle cx="180.30" cy="260.40" r="1.8" fill="#fa825a" />
<circle cx="185.90" cy="260.40" r="1.8" fill="#fa825a" />
<circle cx="169.30" cy="267.10" r="1.8" fill="#fa825a" />
<circle cx="180.30" cy="267.10" r="1.8" fill="#fa825a" />
<circle cx="185.90" cy="267.10" r="1.8" fill="#fa825a" />
<circle cx="164.00" cy="273.20" r="1.8" fill="#fa825a" />
<circle cx="169.30" cy="273.20" r="1.8" fill="#fa825a" />
<circle cx="180.30" cy="273.20" r="1.8" fill="#fa825a" />
<circle cx="185.90" cy="273.20" r="1.8" fill="#fa825a" />
<circle cx="164.00" cy="279.60" r="1.8" fill="#fa825a" />
<circle cx="169.30" cy="279.60" r="1.8" fill="#fa825a" />
<circle cx="174.70" cy="279.60" r="1.8" fill="#fa825a" />
<circle cx="180.30" cy="279.60" r="1.8" fill="#fa825a" />
<circle cx="185.90" cy="279.60" r="1.8" fill="#fa825a" />
<circle cx="164.00" cy="285.70" r="1.8" fill="#fa825a" />
<circle cx="169.30" cy="285.70" r="1.8" fill="#fa825a" />
<circle cx="174.70" cy="285.70" r="1.8" fill="#fa825a" />
<circle cx="180.30" cy="285.70" r="1.8" fill="#fa825a" />
<circle cx="185.90" cy="285.70" r="1.8" fill="#fa825a" />
<circle cx="164.00" cy="291.60" r="1.8" fill="#fa825a" />
<circle cx="174.70" cy="291.60" r="1.8" fill="#fa825a" />
<circle cx="185.90" cy="291.60" r="1.8" fill="#fa825a" />
<circle cx="99.90" cy="311.50" r="1.8" fill="#fa855c" />
<circle cx="104.70" cy="311.50" r="1.8" fill="#fa855c" />
<circle cx="99.90" cy="317.10" r="1.8" fill="#fa865c" />
<circle cx="104.70" cy="317.10" r="1.8" fill="#fa865c" />
<circle cx="99.90" cy="322.90" r="1.8" fill="#fb875c" />
<circle cx="104.70" cy="322.90" r="1.8" fill="#fb875c" />
<circle cx="99.90" cy="328.80" r="1.8" fill="#fb885d" />
<circle cx="104.70" cy="328.80" r="1.8" fill="#fb885d" />
<circle cx="99.90" cy="334.40" r="1.8" fill="#fb895d" />
<circle cx="104.70" cy="334.40" r="1.8" fill="#fb895d" />
<circle cx="99.90" cy="340.00" r="1.8" fill="#fb8a5e" />
<circle cx="104.70" cy="340.00" r="1.8" fill="#fb8a5e" />
<circle cx="100.90" cy="345.93" r="1.8" fill="#fb8b5e" />
<circle cx="105.70" cy="346.07" r="1.8" fill="#fb8b5e" />
<circle cx="110.50" cy="346.21" r="1.8" fill="#fb8b5e" />
<circle cx="114.80" cy="346.34" r="1.8" fill="#fb8b5e" />
<circle cx="124.70" cy="346.64" r="1.8" fill="#fb8b5e" />
<circle cx="129.50" cy="346.78" r="1.8" fill="#fb8b5e" />
<circle cx="101.50" cy="351.56" r="1.8" fill="#fb8b5f" />
<circle cx="106.00" cy="351.74" r="1.8" fill="#fb8b5f" />
<circle cx="110.50" cy="351.92" r="1.8" fill="#fb8b5f" />
<circle cx="115.30" cy="352.11" r="1.8" fill="#fb8b5f" />
<circle cx="119.60" cy="352.28" r="1.8" fill="#fb8c5f" />
<circle cx="126.00" cy="352.54" r="1.8" fill="#fb8c5f" />
<circle cx="130.80" cy="352.73" r="1.8" fill="#fb8c5f" />
<circle cx="124.80" cy="346.70" r="1.8" fill="#fb8b5e" />
<circle cx="129.90" cy="346.70" r="1.8" fill="#fb8b5e" />
<circle cx="145.10" cy="347.50" r="1.8" fill="#fb8b5e" />
<circle cx="149.60" cy="348.00" r="1.8" fill="#fb8b5e" />
<circle cx="144.50" cy="353.60" r="1.8" fill="#fb8c5f" />
<circle cx="149.90" cy="353.90" r="1.8" fill="#fb8c5f" />
<circle cx="134.40" cy="352.80" r="1.8" fill="#fb8c5f" />
<circle cx="164.00" cy="313.30" r="1.8" fill="#fa865c" />
<circle cx="169.30" cy="313.42" r="1.8" fill="#fa865c" />
<circle cx="174.70" cy="313.54" r="1.8" fill="#fa865c" />
<circle cx="180.30" cy="313.66" r="1.8" fill="#fa865c" />
<circle cx="185.90" cy="313.78" r="1.8" fill="#fa865c" />
<circle cx="164.15" cy="319.20" r="1.8" fill="#fa865c" />
<circle cx="169.45" cy="319.32" r="1.8" fill="#fa865c" />
<circle cx="174.85" cy="319.44" r="1.8" fill="#fa865c" />
<circle cx="180.45" cy="319.56" r="1.8" fill="#fa875c" />
<circle cx="186.05" cy="319.68" r="1.8" fill="#fa875c" />
<circle cx="164.30" cy="325.30" r="1.8" fill="#fb875d" />
<circle cx="169.60" cy="325.42" r="1.8" fill="#fb875d" />
<circle cx="175.00" cy="325.54" r="1.8" fill="#fb875d" />
<circle cx="180.60" cy="325.66" r="1.8" fill="#fb875d" />
<circle cx="186.20" cy="325.78" r="1.8" fill="#fb875d" />
<circle cx="164.45" cy="331.20" r="1.8" fill="#fb885d" />
<circle cx="169.75" cy="331.32" r="1.8" fill="#fb885d" />
<circle cx="175.15" cy="331.44" r="1.8" fill="#fb885d" />
<circle cx="180.75" cy="331.56" r="1.8" fill="#fb885d" />
<circle cx="186.35" cy="331.68" r="1.8" fill="#fb885d" />
<circle cx="164.60" cy="337.30" r="1.8" fill="#fb895d" />
<circle cx="169.90" cy="337.42" r="1.8" fill="#fb895d" />
<circle cx="175.30" cy="337.54" r="1.8" fill="#fb895e" />
<circle cx="180.90" cy="337.66" r="1.8" fill="#fb895e" />
<circle cx="186.50" cy="337.78" r="1.8" fill="#fb895e" />
<circle cx="164.75" cy="343.20" r="1.8" fill="#fb8a5e" />
<circle cx="170.05" cy="343.32" r="1.8" fill="#fb8a5e" />
<circle cx="175.45" cy="343.44" r="1.8" fill="#fb8a5e" />
<circle cx="186.65" cy="343.68" r="1.8" fill="#fb8a5e" />
<circle cx="164.90" cy="349.30" r="1.8" fill="#fb8b5e" />
<circle cx="175.60" cy="349.54" r="1.8" fill="#fb8b5e" />
<circle cx="186.80" cy="349.78" r="1.8" fill="#fb8b5e" />
<circle cx="165.05" cy="355.20" r="1.8" fill="#fb8c5f" />
<circle cx="170.35" cy="355.32" r="1.8" fill="#fb8c5f" />
<circle cx="175.75" cy="355.44" r="1.8" fill="#fb8c5f" />
<circle cx="181.35" cy="355.56" r="1.8" fill="#fb8c5f" />
<circle cx="186.95" cy="355.68" r="1.8" fill="#fb8c5f" />
<circle cx="102.40" cy="370.10" r="1.8" fill="#fb8e60" />
<circle cx="107.20" cy="370.40" r="1.8" fill="#fb8e60" />
<circle cx="102.47" cy="375.50" r="1.8" fill="#fb8f60" />
<circle cx="107.27" cy="375.80" r="1.8" fill="#fb8f60" />
<circle cx="102.54" cy="381.30" r="1.8" fill="#fb9061" />
<circle cx="107.34" cy="381.60" r="1.8" fill="#fb9061" />
<circle cx="102.60" cy="386.70" r="1.8" fill="#fc9161" />
<circle cx="107.40" cy="387.00" r="1.8" fill="#fc9161" />
<circle cx="102.66" cy="392.00" r="1.8" fill="#fc9262" />
<circle cx="107.46" cy="392.30" r="1.8" fill="#fc9262" />
<circle cx="102.73" cy="397.20" r="1.8" fill="#fc9262" />
<circle cx="107.53" cy="397.50" r="1.8" fill="#fc9262" />
<circle cx="102.79" cy="402.50" r="1.8" fill="#fc9362" />
<circle cx="107.59" cy="402.80" r="1.8" fill="#fc9362" />
<circle cx="102.85" cy="407.90" r="1.8" fill="#fc9463" />
<circle cx="107.65" cy="408.20" r="1.8" fill="#fc9463" />
<circle cx="164.90" cy="374.90" r="1.8" fill="#fb8f60" />
<circle cx="170.10" cy="375.20" r="1.8" fill="#fb8f60" />
<circle cx="175.50" cy="375.50" r="1.8" fill="#fb8f60" />
<circle cx="186.20" cy="376.10" r="1.8" fill="#fb8f60" />
<circle cx="164.90" cy="381.10" r="1.8" fill="#fb9061" />
<circle cx="170.10" cy="381.40" r="1.8" fill="#fb9061" />
<circle cx="175.50" cy="381.70" r="1.8" fill="#fb9061" />
<circle cx="180.90" cy="382.00" r="1.8" fill="#fb9061" />
<circle cx="186.20" cy="382.30" r="1.8" fill="#fb9061" />
<circle cx="170.10" cy="387.50" r="1.8" fill="#fc9161" />
<circle cx="175.50" cy="387.80" r="1.8" fill="#fc9161" />
<circle cx="180.90" cy="388.10" r="1.8" fill="#fc9161" />
<circle cx="186.20" cy="388.40" r="1.8" fill="#fc9161" />
<circle cx="164.90" cy="392.60" r="1.8" fill="#fc9262" />
<circle cx="170.10" cy="392.90" r="1.8" fill="#fc9262" />
<circle cx="175.50" cy="393.20" r="1.8" fill="#fc9262" />
<circle cx="180.90" cy="393.50" r="1.8" fill="#fc9262" />
<circle cx="186.20" cy="393.80" r="1.8" fill="#fc9262" />
<circle cx="164.90" cy="398.20" r="1.8" fill="#fc9362" />
<circle cx="170.10" cy="398.50" r="1.8" fill="#fc9362" />
<circle cx="175.50" cy="398.80" r="1.8" fill="#fc9362" />
<circle cx="180.90" cy="399.10" r="1.8" fill="#fc9362" />
<circle cx="186.20" cy="399.40" r="1.8" fill="#fc9362" />
<circle cx="170.10" cy="404.70" r="1.8" fill="#fc9462" />
<circle cx="175.50" cy="405.00" r="1.8" fill="#fc9462" />
<circle cx="180.90" cy="405.30" r="1.8" fill="#fc9462" />
<circle cx="186.20" cy="405.60" r="1.8" fill="#fc9463" />
<circle cx="164.90" cy="410.00" r="1.8" fill="#fc9463" />
<circle cx="170.10" cy="410.30" r="1.8" fill="#fc9463" />
<circle cx="175.50" cy="410.60" r="1.8" fill="#fc9463" />
<circle cx="180.90" cy="410.90" r="1.8" fill="#fc9463" />
<circle cx="186.20" cy="411.20" r="1.8" fill="#fc9463" />
<circle cx="164.90" cy="415.30" r="1.8" fill="#fc9563" />
<circle cx="170.10" cy="415.60" r="1.8" fill="#fc9563" />
<circle cx="175.50" cy="415.90" r="1.8" fill="#fc9563" />
<circle cx="180.90" cy="416.20" r="1.8" fill="#fc9563" />
<circle cx="186.20" cy="416.50" r="1.8" fill="#fc9563" />
<circle cx="103.30" cy="426.50" r="1.8" fill="#fc9764" />
<circle cx="107.90" cy="426.90" r="1.8" fill="#fc9764" />
<circle cx="112.40" cy="427.30" r="1.8" fill="#fc9764" />
<circle cx="103.40" cy="431.90" r="1.8" fill="#fc9864" />
<circle cx="108.00" cy="432.30" r="1.8" fill="#fc9864" />
<circle cx="112.50" cy="432.70" r="1.8" fill="#fc9865" />
<circle cx="103.50" cy="436.90" r="1.8" fill="#fc9865" />
<circle cx="108.10" cy="437.30" r="1.8" fill="#fc9865" />
<circle cx="112.60" cy="437.70" r="1.8" fill="#fc9965" />
<circle cx="103.60" cy="442.00" r="1.8" fill="#fc9965" />
<circle cx="112.70" cy="442.80" r="1.8" fill="#fc9965" />
<circle cx="103.70" cy="447.10" r="1.8" fill="#fc9a66" />
<circle cx="108.30" cy="447.50" r="1.8" fill="#fc9a66" />
<circle cx="112.80" cy="447.90" r="1.8" fill="#fc9a66" />
<circle cx="103.80" cy="452.10" r="1.8" fill="#fd9b66" />
<circle cx="108.40" cy="452.50" r="1.8" fill="#fd9b66" />
<circle cx="112.90" cy="452.90" r="1.8" fill="#fd9b66" />
<circle cx="103.90" cy="457.20" r="1.8" fill="#fd9c66" />
<circle cx="108.50" cy="457.60" r="1.8" fill="#fd9c66" />
<circle cx="113.00" cy="458.00" r="1.8" fill="#fd9c66" />
<circle cx="108.60" cy="463.20" r="1.8" fill="#fd9c67" />
<circle cx="113.10" cy="463.60" r="1.8" fill="#fd9c67" />
<circle cx="164.80" cy="434.00" r="1.8" fill="#fc9865" />
<circle cx="170.10" cy="434.60" r="1.8" fill="#fc9865" />
<circle cx="175.30" cy="435.20" r="1.8" fill="#fc9865" />
<circle cx="185.70" cy="436.40" r="1.8" fill="#fc9865" />
<circle cx="164.80" cy="439.90" r="1.8" fill="#fc9965" />
<circle cx="170.10" cy="440.50" r="1.8" fill="#fc9965" />
<circle cx="175.30" cy="441.10" r="1.8" fill="#fc9965" />
<circle cx="180.50" cy="441.70" r="1.8" fill="#fc9965" />
<circle cx="185.70" cy="442.30" r="1.8" fill="#fc9965" />
<circle cx="164.80" cy="445.50" r="1.8" fill="#fc9a65" />
<circle cx="170.10" cy="446.10" r="1.8" fill="#fc9a66" />
<circle cx="175.30" cy="446.70" r="1.8" fill="#fc9a66" />
<circle cx="180.50" cy="447.30" r="1.8" fill="#fc9a66" />
<circle cx="185.70" cy="447.90" r="1.8" fill="#fc9a66" />
<circle cx="170.10" cy="452.20" r="1.8" fill="#fd9b66" />
<circle cx="175.30" cy="452.80" r="1.8" fill="#fd9b66" />
<circle cx="180.50" cy="453.40" r="1.8" fill="#fd9b66" />
<circle cx="186.50" cy="454.00" r="1.8" fill="#fd9b66" />
<circle cx="164.80" cy="456.10" r="1.8" fill="#fd9b66" />
<circle cx="170.10" cy="456.70" r="1.8" fill="#fd9b66" />
<circle cx="175.30" cy="457.30" r="1.8" fill="#fd9c66" />
<circle cx="180.50" cy="457.90" r="1.8" fill="#fd9c66" />
<circle cx="185.70" cy="458.50" r="1.8" fill="#fd9c66" />
<circle cx="164.80" cy="461.50" r="1.8" fill="#fd9c67" />
<circle cx="170.10" cy="462.10" r="1.8" fill="#fd9c67" />
<circle cx="175.30" cy="462.70" r="1.8" fill="#fd9c67" />
<circle cx="180.50" cy="463.30" r="1.8" fill="#fd9c67" />
<circle cx="185.70" cy="463.90" r="1.8" fill="#fd9d67" />
<circle cx="164.80" cy="467.10" r="1.8" fill="#fd9d67" />
<circle cx="170.10" cy="467.70" r="1.8" fill="#fd9d67" />
<circle cx="175.30" cy="468.30" r="1.8" fill="#fd9d67" />
<circle cx="180.50" cy="468.90" r="1.8" fill="#fd9d67" />
<circle cx="185.70" cy="469.50" r="1.8" fill="#fd9d67" />
<circle cx="164.80" cy="472.70" r="1.8" fill="#fd9e67" />
<circle cx="170.10" cy="473.30" r="1.8" fill="#fd9e68" />
<circle cx="175.30" cy="473.90" r="1.8" fill="#fd9e68" />
<circle cx="180.50" cy="474.50" r="1.8" fill="#fd9e68" />
<circle cx="185.70" cy="475.10" r="1.8" fill="#fd9e68" />
<circle cx="113.90" cy="256.30" r="1.8" fill="#fc9e58" />
<circle cx="128.80" cy="256.20" r="1.8" fill="#fc9e58" />
<circle cx="140.40" cy="255.20" r="1.8" fill="#fc9e58" />
<circle cx="168.50" cy="254.50" r="1.8" fill="#fc9e58" />
<circle cx="173.30" cy="254.30" r="1.8" fill="#fc9e58" />
<circle cx="179.40" cy="254.20" r="1.8" fill="#fc9e58" />
<circle cx="184.30" cy="254.00" r="1.8" fill="#fc9e58" />
<circle cx="189.10" cy="253.80" r="1.8" fill="#fc9e58" />
<circle cx="123.20" cy="482.80" r="1.85" fill="#fdab70" />
<circle cx="142.20" cy="486.20" r="1.85" fill="#fdab70" />
<circle cx="152.00" cy="487.70" r="1.85" fill="#fdab70" />
<circle cx="109.52" cy="481.60" r="1.85" fill="#fdab70" />
<circle cx="114.00" cy="481.60" r="1.85" fill="#fdab70" />
<circle cx="118.80" cy="481.92" r="1.85" fill="#fdab70" />
<circle cx="123.60" cy="482.72" r="1.85" fill="#fdab70" />
<circle cx="104.88" cy="484.80" r="1.85" fill="#fdab70" />
<circle cx="110.00" cy="486.08" r="1.85" fill="#fdab70" />
<circle cx="114.48" cy="486.40" r="1.85" fill="#fdab70" />
<circle cx="110.00" cy="490.40" r="1.85" fill="#fdab70" />
<circle cx="114.48" cy="490.88" r="1.85" fill="#fdab70" />
<circle cx="105.68" cy="495.20" r="1.85" fill="#fdab70" />
<circle cx="110.00" cy="495.52" r="1.85" fill="#fdab70" />
<circle cx="114.48" cy="496.00" r="1.85" fill="#fdab70" />
<circle cx="105.68" cy="500.00" r="1.85" fill="#fdab70" />
<circle cx="110.00" cy="500.48" r="1.85" fill="#fdab70" />
<circle cx="114.80" cy="501.12" r="1.85" fill="#fdab70" />
<circle cx="110.48" cy="505.28" r="1.85" fill="#fdab70" />
<circle cx="114.80" cy="505.92" r="1.85" fill="#fdab70" />
<circle cx="106.00" cy="509.60" r="1.85" fill="#fdab70" />
<circle cx="110.48" cy="510.08" r="1.85" fill="#fdab70" />
<circle cx="114.80" cy="510.72" r="1.85" fill="#fdab70" />
<circle cx="106.00" cy="513.92" r="1.85" fill="#fdab70" />
<circle cx="110.48" cy="514.40" r="1.85" fill="#fdab70" />
<circle cx="115.28" cy="516.00" r="1.85" fill="#fdab70" />
<circle cx="106.72" cy="531.20" r="1.85" fill="#fdab70" />
<circle cx="110.88" cy="532.32" r="1.85" fill="#fdab70" />
<circle cx="115.20" cy="533.12" r="1.85" fill="#fdab70" />
<circle cx="119.52" cy="534.40" r="1.85" fill="#fdab70" />
<circle cx="106.72" cy="536.00" r="1.85" fill="#fdab70" />
<circle cx="110.88" cy="536.80" r="1.85" fill="#fdab70" />
<circle cx="115.20" cy="537.92" r="1.85" fill="#fdab70" />
<circle cx="119.52" cy="539.20" r="1.85" fill="#fdab70" />
<circle cx="124.32" cy="540.32" r="1.85" fill="#fdab70" />
<circle cx="128.80" cy="536.32" r="1.85" fill="#fdab70" />
<circle cx="137.92" cy="538.40" r="1.85" fill="#fdab70" />
<circle cx="106.72" cy="540.80" r="1.85" fill="#fdab70" />
<circle cx="111.20" cy="541.60" r="1.85" fill="#fdab70" />
<circle cx="115.52" cy="542.72" r="1.85" fill="#fdab70" />
<circle cx="120.00" cy="544.00" r="1.85" fill="#fdab70" />
<circle cx="124.80" cy="544.80" r="1.85" fill="#fdab70" />
<circle cx="129.12" cy="540.80" r="1.85" fill="#fdab70" />
<circle cx="133.60" cy="542.08" r="1.85" fill="#fdab70" />
<circle cx="137.92" cy="543.20" r="1.85" fill="#fdab70" />
<circle cx="106.72" cy="545.60" r="1.85" fill="#fdab70" />
<circle cx="111.20" cy="546.40" r="1.85" fill="#fdab70" />
<circle cx="115.52" cy="547.52" r="1.85" fill="#fdab70" />
<circle cx="120.00" cy="548.80" r="1.85" fill="#fdab70" />
<circle cx="124.80" cy="549.60" r="1.85" fill="#fdab70" />
<circle cx="129.12" cy="545.92" r="1.85" fill="#fdab70" />
<circle cx="133.60" cy="546.88" r="1.85" fill="#fdab70" />
<circle cx="138.08" cy="548.00" r="1.85" fill="#fdab70" />
<circle cx="107.20" cy="550.08" r="1.85" fill="#fdab70" />
<circle cx="111.52" cy="551.20" r="1.85" fill="#fdab70" />
<circle cx="120.00" cy="553.28" r="1.85" fill="#fdab70" />
<circle cx="124.80" cy="554.40" r="1.85" fill="#fdab70" />
<circle cx="129.12" cy="550.72" r="1.85" fill="#fdab70" />
<circle cx="133.60" cy="552.00" r="1.85" fill="#fdab70" />
<circle cx="138.08" cy="552.80" r="1.85" fill="#fdab70" />
<circle cx="107.68" cy="554.72" r="1.85" fill="#fdab70" />
<circle cx="112.00" cy="555.68" r="1.85" fill="#fdab70" />
<circle cx="116.00" cy="556.80" r="1.85" fill="#fdab70" />
<circle cx="120.48" cy="557.92" r="1.85" fill="#fdab70" />
<circle cx="124.80" cy="559.20" r="1.85" fill="#fdab70" />
<circle cx="129.12" cy="555.52" r="1.85" fill="#fdab70" />
<circle cx="133.60" cy="556.80" r="1.85" fill="#fdab70" />
<circle cx="138.40" cy="557.92" r="1.85" fill="#fdab70" />
<circle cx="112.48" cy="560.80" r="1.85" fill="#fdab70" />
<circle cx="116.48" cy="561.92" r="1.85" fill="#fdab70" />
<circle cx="120.80" cy="562.72" r="1.85" fill="#fdab70" />
<circle cx="125.12" cy="564.00" r="1.85" fill="#fdab70" />
<circle cx="129.60" cy="560.32" r="1.85" fill="#fdab70" />
<circle cx="133.92" cy="561.60" r="1.85" fill="#fdab70" />
<circle cx="138.40" cy="562.72" r="1.85" fill="#fdab70" />
<circle cx="112.00" cy="564.80" r="1.85" fill="#fdab70" />
<circle cx="116.48" cy="566.40" r="1.85" fill="#fdab70" />
<circle cx="121.12" cy="567.20" r="1.85" fill="#fdab70" />
<circle cx="125.60" cy="568.32" r="1.85" fill="#fdab70" />
<circle cx="129.92" cy="569.60" r="1.85" fill="#fdab70" />
<circle cx="134.40" cy="566.40" r="1.85" fill="#fdab70" />
<circle cx="138.72" cy="567.20" r="1.85" fill="#fdab70" />
<circle cx="134.40" cy="570.72" r="1.85" fill="#fdab70" />
<circle cx="139.20" cy="572.00" r="1.85" fill="#fdab70" />
<circle cx="165.92" cy="490.40" r="1.85" fill="#fdab70" />
<circle cx="170.88" cy="491.20" r="1.85" fill="#fdab70" />
<circle cx="176.00" cy="492.00" r="1.85" fill="#fdab70" />
<circle cx="181.12" cy="492.80" r="1.85" fill="#fdab70" />
<circle cx="186.40" cy="493.92" r="1.85" fill="#fdab70" />
<circle cx="165.92" cy="495.52" r="1.85" fill="#fdab70" />
<circle cx="170.88" cy="496.48" r="1.85" fill="#fdab70" />
<circle cx="176.00" cy="497.12" r="1.85" fill="#fdab70" />
<circle cx="181.12" cy="498.08" r="1.85" fill="#fdab70" />
<circle cx="186.40" cy="499.52" r="1.85" fill="#fdab70" />
<circle cx="165.92" cy="500.80" r="1.85" fill="#fdab70" />
<circle cx="170.88" cy="501.60" r="1.85" fill="#fdab70" />
<circle cx="176.00" cy="502.72" r="1.85" fill="#fdab70" />
<circle cx="181.12" cy="503.68" r="1.85" fill="#fdab70" />
<circle cx="186.40" cy="504.80" r="1.85" fill="#fdab70" />
<circle cx="165.92" cy="506.08" r="1.85" fill="#fdab70" />
<circle cx="170.88" cy="506.88" r="1.85" fill="#fdab70" />
<circle cx="176.00" cy="508.00" r="1.85" fill="#fdab70" />
<circle cx="186.40" cy="509.92" r="1.85" fill="#fdab70" />
<circle cx="165.92" cy="511.52" r="1.85" fill="#fdab70" />
<circle cx="170.88" cy="512.48" r="1.85" fill="#fdab70" />
<circle cx="176.00" cy="513.28" r="1.85" fill="#fdab70" />
<circle cx="181.12" cy="514.08" r="1.85" fill="#fdab70" />
<circle cx="186.40" cy="515.20" r="1.85" fill="#fdab70" />
<circle cx="165.92" cy="516.80" r="1.85" fill="#fdab70" />
<circle cx="170.88" cy="517.60" r="1.85" fill="#fdab70" />
<circle cx="176.00" cy="518.40" r="1.85" fill="#fdab70" />
<circle cx="181.12" cy="519.52" r="1.85" fill="#fdab70" />
<circle cx="186.40" cy="520.48" r="1.85" fill="#fdab70" />
<circle cx="165.92" cy="521.92" r="1.85" fill="#fdab70" />
<circle cx="170.88" cy="522.88" r="1.85" fill="#fdab70" />
<circle cx="176.00" cy="523.68" r="1.85" fill="#fdab70" />
<circle cx="181.12" cy="524.80" r="1.85" fill="#fdab70" />
<circle cx="186.40" cy="525.92" r="1.85" fill="#fdab70" />
<circle cx="165.92" cy="526.88" r="1.85" fill="#fdab70" />
<circle cx="170.88" cy="527.68" r="1.85" fill="#fdab70" />
<circle cx="176.00" cy="528.80" r="1.85" fill="#fdab70" />
<circle cx="181.12" cy="529.92" r="1.85" fill="#fdab70" />
<circle cx="186.40" cy="530.88" r="1.85" fill="#fdab70" />
<circle cx="165.60" cy="544.48" r="1.85" fill="#fdab70" />
<circle cx="170.40" cy="545.92" r="1.85" fill="#fdab70" />
<circle cx="175.68" cy="546.72" r="1.85" fill="#fdab70" />
<circle cx="180.48" cy="548.00" r="1.85" fill="#fdab70" />
<circle cx="185.60" cy="549.12" r="1.85" fill="#fdab70" />
<circle cx="165.60" cy="549.60" r="1.85" fill="#fdab70" />
<circle cx="170.40" cy="550.88" r="1.85" fill="#fdab70" />
<circle cx="175.68" cy="552.00" r="1.85" fill="#fdab70" />
<circle cx="180.80" cy="552.80" r="1.85" fill="#fdab70" />
<circle cx="185.92" cy="554.08" r="1.85" fill="#fdab70" />
<circle cx="166.08" cy="554.40" r="1.85" fill="#fdab70" />
<circle cx="176.00" cy="556.80" r="1.85" fill="#fdab70" />
<circle cx="181.12" cy="557.92" r="1.85" fill="#fdab70" />
<circle cx="185.92" cy="559.20" r="1.85" fill="#fdab70" />
<circle cx="170.88" cy="560.80" r="1.85" fill="#fdab70" />
<circle cx="181.12" cy="562.88" r="1.85" fill="#fdab70" />
<circle cx="186.40" cy="564.00" r="1.85" fill="#fdab70" />
<circle cx="166.40" cy="564.00" r="1.85" fill="#fdab70" />
<circle cx="176.32" cy="566.40" r="1.85" fill="#fdab70" />
<circle cx="181.12" cy="567.68" r="1.85" fill="#fdab70" />
<circle cx="186.40" cy="568.80" r="1.85" fill="#fdab70" />
<circle cx="166.72" cy="568.80" r="1.85" fill="#fdab70" />
<circle cx="171.52" cy="570.08" r="1.85" fill="#fdab70" />
<circle cx="176.32" cy="571.52" r="1.85" fill="#fdab70" />
<circle cx="181.60" cy="572.48" r="1.85" fill="#fdab70" />
<circle cx="186.40" cy="573.92" r="1.85" fill="#fdab70" />
<circle cx="165.60" cy="574.40" r="1.85" fill="#fdab70" />
<circle cx="171.52" cy="575.52" r="1.85" fill="#fdab70" />
<circle cx="176.80" cy="576.48" r="1.85" fill="#fdab70" />
<circle cx="181.60" cy="577.60" r="1.85" fill="#fdab70" />
<circle cx="186.40" cy="578.72" r="1.85" fill="#fdab70" />
<circle cx="167.20" cy="579.20" r="1.85" fill="#fdab70" />
<circle cx="172.00" cy="580.48" r="1.85" fill="#fdab70" />
<circle cx="177.12" cy="581.60" r="1.85" fill="#fdab70" />
<circle cx="181.92" cy="582.72" r="1.85" fill="#fdab70" />
<circle cx="186.72" cy="583.68" r="1.85" fill="#fdab70" />
<circle cx="47.10" cy="290.80" r="1.8" fill="#18063c" />
<circle cx="67.10" cy="290.80" r="1.8" fill="#18063c" />
<circle cx="77.50" cy="290.80" r="1.8" fill="#18063c" />
<circle cx="48.10" cy="313.30" r="1.8" fill="#18063c" />
<circle cx="52.70" cy="313.44" r="1.8" fill="#18063c" />
<circle cx="57.50" cy="313.59" r="1.8" fill="#18063c" />
<circle cx="62.80" cy="313.74" r="1.8" fill="#18063c" />
<circle cx="67.60" cy="313.89" r="1.8" fill="#18063c" />
<circle cx="72.90" cy="314.05" r="1.8" fill="#18063c" />
<circle cx="78.50" cy="314.22" r="1.8" fill="#18063c" />
<circle cx="83.90" cy="314.38" r="1.8" fill="#18063c" />
<circle cx="52.70" cy="319.74" r="1.8" fill="#18063c" />
<circle cx="57.50" cy="319.98" r="1.8" fill="#18063c" />
<circle cx="63.30" cy="320.26" r="1.8" fill="#18063c" />
<circle cx="69.20" cy="320.56" r="1.8" fill="#18063c" />
<circle cx="73.70" cy="320.79" r="1.8" fill="#18063c" />
<circle cx="78.80" cy="321.04" r="1.8" fill="#18063c" />
<circle cx="84.10" cy="321.31" r="1.8" fill="#18063c" />
<circle cx="48.40" cy="325.72" r="1.8" fill="#18063c" />
<circle cx="53.20" cy="325.96" r="1.8" fill="#18063c" />
<circle cx="58.80" cy="326.24" r="1.8" fill="#18063c" />
<circle cx="68.70" cy="326.74" r="1.8" fill="#18063c" />
<circle cx="74.00" cy="327.00" r="1.8" fill="#18063c" />
<circle cx="78.80" cy="327.24" r="1.8" fill="#18063c" />
<circle cx="84.10" cy="327.50" r="1.8" fill="#18063c" />
<circle cx="90.30" cy="327.81" r="1.8" fill="#18063c" />
<circle cx="49.50" cy="332.15" r="1.8" fill="#18063c" />
<circle cx="58.80" cy="332.42" r="1.8" fill="#18063c" />
<circle cx="64.40" cy="332.59" r="1.8" fill="#18063c" />
<circle cx="69.50" cy="332.75" r="1.8" fill="#18063c" />
<circle cx="74.00" cy="332.88" r="1.8" fill="#18063c" />
<circle cx="80.10" cy="333.06" r="1.8" fill="#18063c" />
<circle cx="84.90" cy="333.21" r="1.8" fill="#18063c" />
<circle cx="91.60" cy="333.41" r="1.8" fill="#18063c" />
<circle cx="48.90" cy="338.53" r="1.8" fill="#18063c" />
<circle cx="54.30" cy="338.69" r="1.8" fill="#18063c" />
<circle cx="59.60" cy="338.85" r="1.8" fill="#18063c" />
<circle cx="64.70" cy="339.00" r="1.8" fill="#18063c" />
<circle cx="70.00" cy="339.16" r="1.8" fill="#18063c" />
<circle cx="74.00" cy="339.28" r="1.8" fill="#18063c" />
<circle cx="79.60" cy="339.45" r="1.8" fill="#18063c" />
<circle cx="85.20" cy="339.62" r="1.8" fill="#18063c" />
<circle cx="90.50" cy="339.77" r="1.8" fill="#18063c" />
<circle cx="50.00" cy="345.36" r="1.8" fill="#19063d" />
<circle cx="55.10" cy="345.51" r="1.8" fill="#19063d" />
<circle cx="59.60" cy="345.65" r="1.8" fill="#19063d" />
<circle cx="64.70" cy="345.80" r="1.8" fill="#19063d" />
<circle cx="70.30" cy="345.97" r="1.8" fill="#19063d" />
<circle cx="75.30" cy="346.12" r="1.8" fill="#19063d" />
<circle cx="80.90" cy="346.29" r="1.8" fill="#19063d" />
<circle cx="86.30" cy="346.45" r="1.8" fill="#19063e" />
<circle cx="60.90" cy="352.30" r="1.8" fill="#1a063f" />
<circle cx="75.90" cy="352.80" r="1.8" fill="#1a063f" />
<circle cx="51.60" cy="379.20" r="1.8" fill="#1d0645" />
<circle cx="56.10" cy="379.65" r="1.8" fill="#1d0645" />
<circle cx="60.90" cy="380.13" r="1.8" fill="#1d0645" />
<circle cx="65.50" cy="380.59" r="1.8" fill="#1d0646" />
<circle cx="71.90" cy="381.23" r="1.8" fill="#1d0646" />
<circle cx="76.70" cy="381.71" r="1.8" fill="#1d0646" />
<circle cx="82.00" cy="382.24" r="1.8" fill="#1d0646" />
<circle cx="86.80" cy="382.72" r="1.8" fill="#1e0746" />
<circle cx="92.10" cy="383.25" r="1.8" fill="#1e0746" />
<circle cx="62.00" cy="386.91" r="1.8" fill="#1e0747" />
<circle cx="66.50" cy="387.05" r="1.8" fill="#1e0747" />
<circle cx="76.90" cy="387.36" r="1.8" fill="#1e0747" />
<circle cx="87.60" cy="387.68" r="1.8" fill="#1e0747" />
<circle cx="92.40" cy="387.82" r="1.8" fill="#1e0747" />
<circle cx="51.60" cy="391.90" r="1.8" fill="#1f0748" />
<circle cx="62.00" cy="392.21" r="1.8" fill="#1f0748" />
<circle cx="66.80" cy="392.36" r="1.8" fill="#1f0748" />
<circle cx="72.10" cy="392.51" r="1.8" fill="#1f0748" />
<circle cx="76.90" cy="392.66" r="1.8" fill="#1f0748" />
<circle cx="82.50" cy="392.83" r="1.8" fill="#1f0748" />
<circle cx="87.30" cy="392.97" r="1.8" fill="#1f0748" />
<circle cx="92.90" cy="393.14" r="1.8" fill="#1f0749" />
<circle cx="52.40" cy="397.29" r="1.8" fill="#1f0749" />
<circle cx="56.40" cy="397.73" r="1.8" fill="#1f074a" />
<circle cx="62.00" cy="398.34" r="1.8" fill="#20074a" />
<circle cx="66.50" cy="398.84" r="1.8" fill="#20074a" />
<circle cx="71.90" cy="399.43" r="1.8" fill="#20074a" />
<circle cx="77.20" cy="400.02" r="1.8" fill="#20074a" />
<circle cx="82.50" cy="400.60" r="1.8" fill="#20074a" />
<circle cx="87.60" cy="401.16" r="1.8" fill="#20074a" />
<circle cx="92.90" cy="401.74" r="1.8" fill="#20074b" />
<circle cx="57.50" cy="405.12" r="1.8" fill="#20074b" />
<circle cx="62.50" cy="405.22" r="1.8" fill="#20074b" />
<circle cx="72.40" cy="405.42" r="1.8" fill="#20074b" />
<circle cx="77.50" cy="405.52" r="1.8" fill="#20074b" />
<circle cx="82.80" cy="405.62" r="1.8" fill="#20074b" />
<circle cx="52.90" cy="410.43" r="1.8" fill="#21074d" />
<circle cx="57.50" cy="410.52" r="1.8" fill="#21074d" />
<circle cx="62.80" cy="410.62" r="1.8" fill="#21074d" />
<circle cx="72.40" cy="410.82" r="1.8" fill="#21074d" />
<circle cx="82.80" cy="411.02" r="1.8" fill="#21074d" />
<circle cx="53.20" cy="415.50" r="1.8" fill="#22074e" />
<circle cx="58.00" cy="416.10" r="1.8" fill="#22074e" />
<circle cx="62.80" cy="416.70" r="1.8" fill="#22074e" />
<circle cx="67.60" cy="417.30" r="1.8" fill="#22074e" />
<circle cx="72.40" cy="417.90" r="1.8" fill="#22074e" />
<circle cx="77.50" cy="418.54" r="1.8" fill="#22074e" />
<circle cx="83.60" cy="419.30" r="1.8" fill="#22074f" />
<circle cx="87.90" cy="419.84" r="1.8" fill="#22074f" />
<circle cx="93.70" cy="420.56" r="1.8" fill="#22074f" />
<circle cx="53.20" cy="421.79" r="1.8" fill="#23074f" />
<circle cx="58.30" cy="422.40" r="1.8" fill="#23074f" />
<circle cx="62.80" cy="422.94" r="1.8" fill="#230750" />
<circle cx="67.90" cy="423.56" r="1.8" fill="#230750" />
<circle cx="73.20" cy="424.19" r="1.8" fill="#230750" />
<circle cx="78.30" cy="424.80" r="1.8" fill="#230750" />
<circle cx="83.30" cy="425.40" r="1.8" fill="#230750" />
<circle cx="93.20" cy="414.50" r="1.8" fill="#22074e" />
<circle cx="93.20" cy="427.10" r="1.8" fill="#230750" />
<circle cx="58.80" cy="442.50" r="1.8" fill="#250754" />
<circle cx="63.60" cy="443.30" r="1.8" fill="#250754" />
<circle cx="68.70" cy="444.20" r="1.8" fill="#250755" />
<circle cx="73.50" cy="445.00" r="1.8" fill="#260755" />
<circle cx="78.80" cy="446.00" r="1.8" fill="#260755" />
<circle cx="83.60" cy="446.80" r="1.8" fill="#260755" />
<circle cx="63.60" cy="450.00" r="1.8" fill="#260756" />
<circle cx="68.90" cy="450.30" r="1.8" fill="#260756" />
<circle cx="74.00" cy="450.60" r="1.8" fill="#260756" />
<circle cx="59.30" cy="454.80" r="1.8" fill="#270757" />
<circle cx="68.90" cy="455.50" r="1.8" fill="#270757" />
<circle cx="89.20" cy="453.50" r="1.8" fill="#270757" />
<circle cx="94.50" cy="454.30" r="1.8" fill="#270757" />
<circle cx="59.30" cy="459.60" r="1.8" fill="#270758" />
<circle cx="64.40" cy="460.00" r="1.8" fill="#280758" />
<circle cx="69.20" cy="460.60" r="1.8" fill="#280758" />
<circle cx="78.80" cy="458.30" r="1.8" fill="#270758" />
<circle cx="83.60" cy="459.10" r="1.8" fill="#270758" />
<circle cx="88.90" cy="459.60" r="1.8" fill="#270758" />
<circle cx="60.40" cy="465.20" r="1.8" fill="#280759" />
<circle cx="64.40" cy="465.60" r="1.8" fill="#28075a" />
<circle cx="69.20" cy="466.20" r="1.8" fill="#28075a" />
<circle cx="74.80" cy="462.80" r="1.8" fill="#280759" />
<circle cx="79.30" cy="463.90" r="1.8" fill="#280759" />
<circle cx="84.40" cy="464.40" r="1.8" fill="#280759" />
<circle cx="89.50" cy="465.20" r="1.8" fill="#280759" />
<circle cx="94.50" cy="466.50" r="1.8" fill="#28075a" />
<circle cx="60.40" cy="471.60" r="1.8" fill="#29085b" />
<circle cx="64.90" cy="472.70" r="1.8" fill="#29085b" />
<circle cx="69.70" cy="473.20" r="1.8" fill="#29085b" />
<circle cx="74.80" cy="474.30" r="1.8" fill="#29085c" />
<circle cx="79.30" cy="475.60" r="1.8" fill="#2a085c" />
<circle cx="80.10" cy="469.20" r="1.8" fill="#29085a" />
<circle cx="84.70" cy="470.00" r="1.8" fill="#29085b" />
<circle cx="94.50" cy="472.40" r="1.8" fill="#29085b" />
<circle cx="65.20" cy="478.00" r="1.8" fill="#2a085c" />
<circle cx="70.00" cy="479.10" r="1.8" fill="#2a085d" />
<circle cx="90.00" cy="477.20" r="1.8" fill="#2a085c" />
<circle cx="61.50" cy="482.80" r="1.8" fill="#2a085e" />
<circle cx="70.30" cy="485.20" r="1.8" fill="#2b085e" />
<circle cx="85.20" cy="482.00" r="1.8" fill="#2a085d" />
<circle cx="90.50" cy="483.10" r="1.8" fill="#2b085e" />
<circle cx="95.30" cy="484.10" r="1.8" fill="#2b085e" />
<circle cx="95.30" cy="490.40" r="1.8" fill="#2b085f" />
<circle cx="65.20" cy="507.20" r="1.8" fill="#2e0863" />
<circle cx="65.20" cy="512.75" r="1.8" fill="#2e0864" />
<circle cx="65.20" cy="518.30" r="1.8" fill="#2e0864" />
<circle cx="65.20" cy="523.85" r="1.8" fill="#2e0864" />
<circle cx="65.20" cy="529.40" r="1.8" fill="#2e0864" />
<circle cx="65.20" cy="534.95" r="1.8" fill="#2e0864" />
<circle cx="65.20" cy="540.50" r="1.8" fill="#2e0864" />
<circle cx="70.10" cy="508.27" r="1.8" fill="#2e0864" />
<circle cx="70.10" cy="513.82" r="1.8" fill="#2e0864" />
<circle cx="70.10" cy="519.37" r="1.8" fill="#2e0864" />
<circle cx="70.10" cy="524.92" r="1.8" fill="#2e0864" />
<circle cx="70.10" cy="530.47" r="1.8" fill="#2e0864" />
<circle cx="70.10" cy="536.02" r="1.8" fill="#2e0864" />
<circle cx="70.10" cy="541.57" r="1.8" fill="#2e0864" />
<circle cx="75.00" cy="509.34" r="1.8" fill="#2e0864" />
<circle cx="75.00" cy="514.89" r="1.8" fill="#2e0864" />
<circle cx="75.00" cy="520.44" r="1.8" fill="#2e0864" />
<circle cx="75.00" cy="525.99" r="1.8" fill="#2e0864" />
<circle cx="75.00" cy="531.54" r="1.8" fill="#2e0864" />
<circle cx="75.00" cy="537.09" r="1.8" fill="#2e0864" />
<circle cx="75.00" cy="542.64" r="1.8" fill="#2e0864" />
<circle cx="79.90" cy="510.41" r="1.8" fill="#2e0864" />
<circle cx="79.90" cy="515.96" r="1.8" fill="#2e0864" />
<circle cx="79.90" cy="521.51" r="1.8" fill="#2e0864" />
<circle cx="79.90" cy="527.06" r="1.8" fill="#2e0864" />
<circle cx="79.90" cy="532.61" r="1.8" fill="#2e0864" />
<circle cx="79.90" cy="538.16" r="1.8" fill="#2e0864" />
<circle cx="79.90" cy="543.71" r="1.8" fill="#2e0864" />
<circle cx="84.80" cy="511.48" r="1.8" fill="#2e0864" />
<circle cx="84.80" cy="517.03" r="1.8" fill="#2e0864" />
<circle cx="84.80" cy="522.58" r="1.8" fill="#2e0864" />
<circle cx="84.80" cy="528.13" r="1.8" fill="#2e0864" />
<circle cx="84.80" cy="533.68" r="1.8" fill="#2e0864" />
<circle cx="84.80" cy="539.23" r="1.8" fill="#2e0864" />
<circle cx="84.80" cy="544.78" r="1.8" fill="#2e0864" />
<circle cx="89.70" cy="512.55" r="1.8" fill="#2e0864" />
<circle cx="89.70" cy="518.10" r="1.8" fill="#2e0864" />
<circle cx="89.70" cy="523.65" r="1.8" fill="#2e0864" />
<circle cx="89.70" cy="529.20" r="1.8" fill="#2e0864" />
<circle cx="89.70" cy="534.75" r="1.8" fill="#2e0864" />
<circle cx="89.70" cy="540.30" r="1.8" fill="#2e0864" />
<circle cx="89.70" cy="545.85" r="1.8" fill="#2e0864" />
<circle cx="94.60" cy="513.62" r="1.8" fill="#2e0864" />
<circle cx="94.60" cy="519.17" r="1.8" fill="#2e0864" />
<circle cx="94.60" cy="524.72" r="1.8" fill="#2e0864" />
<circle cx="94.60" cy="530.27" r="1.8" fill="#2e0864" />
<circle cx="94.60" cy="535.82" r="1.8" fill="#2e0864" />
<circle cx="94.60" cy="541.37" r="1.8" fill="#2e0864" />
<circle cx="94.60" cy="546.92" r="1.8" fill="#2e0864" />
<circle cx="99.50" cy="514.69" r="1.8" fill="#2e0864" />
<circle cx="99.50" cy="520.24" r="1.8" fill="#2e0864" />
<circle cx="99.50" cy="525.79" r="1.8" fill="#2e0864" />
<circle cx="99.50" cy="531.34" r="1.8" fill="#2e0864" />
<circle cx="99.50" cy="536.89" r="1.8" fill="#2e0864" />
<circle cx="99.50" cy="542.44" r="1.8" fill="#2e0864" />
<circle cx="99.50" cy="547.99" r="1.8" fill="#2e0864" />
<circle cx="94.50" cy="508.00" r="1.8" fill="#2e0864" />
<circle cx="89.50" cy="244.70" r="1.8" fill="#62187f" />
<circle cx="90.80" cy="251.60" r="1.8" fill="#62187f" />
<circle cx="91.10" cy="258.50" r="1.8" fill="#62187f" />
<circle cx="91.60" cy="264.90" r="1.8" fill="#62187f" />
<circle cx="92.10" cy="271.60" r="1.8" fill="#62187f" />
<circle cx="92.40" cy="278.00" r="1.8" fill="#62187f" />
<circle cx="92.60" cy="284.70" r="1.8" fill="#62187f" />
<circle cx="108.00" cy="560.50" r="1.8" fill="#62187f" />
<circle cx="113.30" cy="561.60" r="1.8" fill="#62187f" />
<circle cx="107.60" cy="566.00" r="1.8" fill="#62187f" />
<circle cx="112.70" cy="583.40" r="1.8" fill="#62187f" />
<circle cx="108.00" cy="587.30" r="1.8" fill="#62187f" />
<circle cx="113.80" cy="593.30" r="1.8" fill="#62187f" />
<defs><linearGradient id="cb" x1="0" y1="0" x2="0" y2="1"><stop offset="0" stop-color="#fec185"/><stop offset="0.1" stop-color="#fda06e"/><stop offset="0.25" stop-color="#f8765c"/><stop offset="0.4" stop-color="#e55064"/><stop offset="0.5" stop-color="#cd4071"/><stop offset="0.62" stop-color="#a3307e"/><stop offset="0.75" stop-color="#721f81"/><stop offset="0.87" stop-color="#451077"/><stop offset="1" stop-color="#1d1147"/></linearGradient></defs>
<rect x="6.70" y="390.30" width="3.60" height="203.40" fill="url(#cb)" />
<text x="6.20" y="387.00" font-size="7.8" text-anchor="start" fill="#262626" ><tspan font-style="italic">Z</tspan> (m)</text>
<text x="14.20" y="405.00" font-size="7.8" text-anchor="start" fill="#262626" >7.4</text>
<text x="14.20" y="490.80" font-size="7.8" text-anchor="start" fill="#262626" >7.3</text>
<text x="14.20" y="576.60" font-size="7.8" text-anchor="start" fill="#262626" >7.2</text>
<text x="192.80" y="338.80" font-size="7.8" text-anchor="start" fill="#262626" >50%</text>
<text x="193.10" y="412.00" font-size="7.8" text-anchor="start" fill="#262626" >10%</text>
<text x="195.20" y="477.60" font-size="7.8" text-anchor="start" fill="#262626" >5%</text>
<text x="192.00" y="537.00" font-size="7.8" text-anchor="start" fill="#262626" >Retro</text>
<text x="-0.30" y="222.00" font-size="11" text-anchor="start" font-weight="bold" fill="#000" >d</text>
<defs><linearGradient id="cbd" x1="0" y1="0" x2="0" y2="1"><stop offset="0" stop-color="#a08773"/><stop offset="0.133" stop-color="#aa8b6d"/><stop offset="0.26" stop-color="#b08e68"/><stop offset="0.42" stop-color="#b08a5a"/><stop offset="0.56" stop-color="#ae8652"/><stop offset="0.67" stop-color="#a37b49"/><stop offset="0.815" stop-color="#916c3e"/><stop offset="1" stop-color="#7e5c30"/></linearGradient><linearGradient id="cbr" x1="0" y1="0" x2="1" y2="0"><stop offset="0" stop-color="#000" stop-opacity="0"/><stop offset="0.7" stop-color="#000" stop-opacity="0"/><stop offset="1" stop-color="#2a1808" stop-opacity="0.06"/></linearGradient><linearGradient id="lp" x1="0" y1="0" x2="1" y2="1"><stop offset="0" stop-color="#b6c6e0"/><stop offset="1" stop-color="#aebeda"/></linearGradient><linearGradient id="pole" x1="0" y1="0" x2="1" y2="0"><stop offset="0" stop-color="#86aee0"/><stop offset="0.22" stop-color="#a8c4e8"/><stop offset="0.3" stop-color="#ececec"/><stop offset="0.6" stop-color="#d8d8d8"/><stop offset="0.75" stop-color="#a8a8a8"/><stop offset="1" stop-color="#8c8478"/></linearGradient><linearGradient id="pole2" x1="0" y1="0" x2="1" y2="0"><stop offset="0" stop-color="#7c7468"/><stop offset="0.35" stop-color="#bcb8b0"/><stop offset="0.7" stop-color="#a09a90"/><stop offset="1" stop-color="#706858"/></linearGradient><linearGradient id="yel" x1="0" y1="0" x2="0" y2="1"><stop offset="0" stop-color="#f9be16"/><stop offset="0.6" stop-color="#f8ba14"/><stop offset="1" stop-color="#f6b410"/></linearGradient><clipPath id="cpd"><rect x="212.8" y="293.1" width="76.3" height="278.5"/></clipPath><filter id="bl04" x="-5%" y="-5%" width="110%" height="110%"><feGaussianBlur stdDeviation="0.35"/></filter><filter id="nz" x="0" y="0" width="100%" height="100%"><feTurbulence type="fractalNoise" baseFrequency="0.9" numOctaves="2" seed="4" result="t"/><feColorMatrix type="matrix" values="0 0 0 0 0.25  0 0 0 0 0.15  0 0 0 0 0.05  1.6 0 0 0 -0.55"/></filter></defs>
<g clip-path="url(#cpd)"><g filter="url(#bl04)">
<rect x="210.80" y="291.10" width="80.30" height="282.50" fill="url(#cbd)" />
<rect x="210.80" y="291.10" width="80.30" height="282.50" fill="url(#cbr)" />
<rect x="212.80" y="293.10" width="76.30" height="278.50" fill="#000" filter="url(#nz)" opacity="0.55"/>
<rect x="257.90" y="291.10" width="5.40" height="150.00" fill="url(#pole)" />
<rect x="257.90" y="436.00" width="5.00" height="140.00" fill="url(#pole2)" />
<rect x="212.80" y="432.00" width="2.60" height="139.00" fill="#bcb8bc" />
<rect x="212.80" y="447.00" width="2.60" height="2.20" fill="#e4e4ea" />
<rect x="212.80" y="461.00" width="2.60" height="2.20" fill="#e4e4ea" />
<rect x="212.80" y="476.00" width="2.60" height="2.20" fill="#e4e4ea" />
<rect x="212.80" y="491.00" width="2.60" height="2.20" fill="#e4e4ea" />
<rect x="212.80" y="506.00" width="2.60" height="2.20" fill="#e4e4ea" />
<rect x="212.80" y="521.00" width="2.60" height="2.20" fill="#e4e4ea" />
<rect x="212.80" y="536.00" width="2.60" height="2.20" fill="#e4e4ea" />
<rect x="212.80" y="551.00" width="2.60" height="2.20" fill="#e4e4ea" />
<polygon points="281.5,296.5 284.5,296.0 285.5,304.0 282.5,304.5" fill="#c8a060" />
<rect x="284.00" y="298.00" width="5.00" height="1.80" fill="#3a3028" />
<polygon points="212.4,306.6 266.0,303.0 266.2,364.6 213.6,365.2 212.4,365.2" fill="url(#lp)" />
<polygon points="266.0,303.0 267.6,303.6 267.8,364.2 266.2,364.6" fill="#3c4048" />
<rect x="268.00" y="335.50" width="3.60" height="9.00" fill="#15161a" rx="1"/>
<rect x="267.80" y="344.00" width="4.50" height="5.50" fill="#9a7850" rx="2"/>
<polygon points="214.6,381.8 266.3,384.3 265.8,438.4 215.2,435.3" fill="#545a64" />
<polygon points="214.6,381.8 221.0,382.1 221.0,435.7 215.2,435.3" fill="#4e545e" />
<rect x="216.00" y="411.00" width="2.30" height="16.50" fill="#a88458" />
<rect x="267.20" y="404.50" width="3.20" height="8.50" fill="#15161a" rx="1"/>
<polygon points="217.3,448.8 264.6,451.3 264.6,504.0 217.3,499.9" fill="#343438" />
<polygon points="214.6,448.8 217.3,448.8 217.3,465.5 214.6,465.5" fill="#3a3a40" />
<polyline points="263.50,462.00 271.00,455.80" fill="none" stroke="#c4bcac" stroke-width="3.2" stroke-linecap="round"/>
<polyline points="263.50,512.00 271.00,505.40" fill="none" stroke="#bcb4a2" stroke-width="3.2" stroke-linecap="round"/>
<rect x="265.30" y="464.50" width="3.20" height="7.50" fill="#15161a" rx="1"/>
<path d="M221.8,510.6 L259.6,515.4 Q264.2,516 264.3,521 L265.1,557.5 Q265.2,563 260,562.2 L223.5,557 Q219.2,556.4 219.1,552 L217.9,514.2 Q217.8,510.1 221.8,510.6 Z" fill="url(#yel)"/>
<path d="M218.9,543.6 L264.8,552.2 L265.1,557.5 Q265.2,563 260,562.2 L223.5,557 Q219.2,556.4 219.1,552 Z" fill="#ffcf10"/>
<path d="M218.9,543.6 L240,547.6 L240,549.4 L219,545.6 Z" fill="#ffa400" opacity="0.8"/>
<polygon points="231.0,546.5 237.0,547.6 236.0,558.4 233.0,558.0" fill="#ffae00" opacity="0.6"/>
<circle cx="241.00" cy="536.00" r="1.7" fill="#b0a890" />
<circle cx="241.00" cy="536.00" r="0.8" fill="#e8e8e8" />
<rect x="265.00" y="522.00" width="2.60" height="6.50" fill="#15161a" rx="1"/>
</g></g>
<defs><linearGradient id="wall" x1="0" y1="0" x2="1" y2="0"><stop offset="0" stop-color="#8a8278"/><stop offset="0.15" stop-color="#9c948a"/><stop offset="0.33" stop-color="#b0a89e"/><stop offset="0.55" stop-color="#bdb6ae"/><stop offset="0.75" stop-color="#c6c0ba"/><stop offset="1" stop-color="#cbc6c0"/></linearGradient><linearGradient id="wallv" x1="0" y1="0" x2="0" y2="1"><stop offset="0" stop-color="#000" stop-opacity="0.06"/><stop offset="0.3" stop-color="#000" stop-opacity="0"/><stop offset="1" stop-color="#000" stop-opacity="0"/></linearGradient><linearGradient id="wl" x1="0.62" y1="0.05" x2="0.95" y2="0.42"><stop offset="0" stop-color="#fff" stop-opacity="0"/><stop offset="1" stop-color="#fff" stop-opacity="0.36"/></linearGradient><linearGradient id="tabl" x1="0" y1="0" x2="1" y2="1"><stop offset="0" stop-color="#e2e6e2"/><stop offset="1" stop-color="#d2d6d4"/></linearGradient><linearGradient id="brd" x1="0" y1="0" x2="1" y2="1"><stop offset="0" stop-color="#2a2a2e"/><stop offset="0.5" stop-color="#303034"/><stop offset="1" stop-color="#2c2c30"/></linearGradient><linearGradient id="rod" x1="0" y1="0" x2="0" y2="1"><stop offset="0" stop-color="#d8d8d8"/><stop offset="0.5" stop-color="#8a8a8a"/><stop offset="1" stop-color="#505050"/></linearGradient><radialGradient id="lens" cx="0.5" cy="0.35" r="0.6"><stop offset="0" stop-color="#5a4868"/><stop offset="0.45" stop-color="#2a2230"/><stop offset="1" stop-color="#0c0c10"/></radialGradient><clipPath id="cpe"><rect x="375.0" y="219.0" width="257.9" height="191.60000000000002"/></clipPath><filter id="bl05" x="-5%" y="-5%" width="110%" height="110%"><feGaussianBlur stdDeviation="0.45"/></filter></defs>
<g clip-path="url(#cpe)"><g filter="url(#bl05)">
<rect x="372.00" y="216.00" width="263.90" height="197.60" fill="url(#wall)" />
<rect x="372.00" y="216.00" width="263.90" height="197.60" fill="url(#wallv)" />
<rect x="372.00" y="216.00" width="263.90" height="197.60" fill="url(#wl)" />
<polygon points="372.0,336.8 397.5,315.9 397.5,314.0 434.0,416.4 372.0,420.0" fill="url(#tabl)" />
<polygon points="584.0,301.0 592.8,293.6 635.9,304.3 635.9,340.0 599.2,314.0 586.4,306.8" fill="#e6e5e3" />
<polygon points="635.9,368.0 581.5,414.0 635.9,414.0" fill="#e4e7e5" />
<polygon points="396.4,311.4 413.0,306.0 470.0,290.0 586.0,300.0 599.2,314.0 635.9,340.2 635.9,368.0 581.5,414.0 434.5,414.0" fill="url(#brd)" />
<polygon points="396.4,311.4 399.6,310.6 438.5,414.0 434.5,414.0" fill="#303034" />
<polygon points="635.9,368.0 635.9,370.7 584.5,414.0 581.5,414.0" fill="#3a3c40" />
<clipPath id="cpb"><polygon points="399.8,311 470,290 586,300 599.2,314 636,340.2 636,367 585,414 438.5,414"/></clipPath><g clip-path="url(#cpb)">
<ellipse cx="376.1" cy="409.6" rx="0.95" ry="1.15" fill="#08080a"/>
<ellipse cx="376.2" cy="408.6" rx="0.75" ry="0.4" fill="#77777b"/>
<ellipse cx="375.9" cy="382.6" rx="0.95" ry="1.15" fill="#08080a"/>
<ellipse cx="376.0" cy="381.6" rx="0.75" ry="0.4" fill="#77777b"/>
<ellipse cx="381.5" cy="392.5" rx="0.95" ry="1.15" fill="#08080a"/>
<ellipse cx="381.6" cy="391.5" rx="0.75" ry="0.4" fill="#77777b"/>
<ellipse cx="387.4" cy="402.9" rx="0.95" ry="1.15" fill="#08080a"/>
<ellipse cx="387.5" cy="401.9" rx="0.75" ry="0.4" fill="#77777b"/>
<ellipse cx="376.5" cy="358.1" rx="0.95" ry="1.15" fill="#08080a"/>
<ellipse cx="376.6" cy="357.1" rx="0.75" ry="0.4" fill="#77777b"/>
<ellipse cx="381.5" cy="367.1" rx="0.95" ry="1.15" fill="#08080a"/>
<ellipse cx="381.6" cy="366.1" rx="0.75" ry="0.4" fill="#77777b"/>
<ellipse cx="386.8" cy="376.5" rx="0.95" ry="1.15" fill="#08080a"/>
<ellipse cx="386.9" cy="375.5" rx="0.75" ry="0.4" fill="#77777b"/>
<ellipse cx="392.5" cy="386.2" rx="0.95" ry="1.15" fill="#08080a"/>
<ellipse cx="392.6" cy="385.2" rx="0.75" ry="0.4" fill="#77777b"/>
<ellipse cx="398.5" cy="396.3" rx="0.95" ry="1.15" fill="#08080a"/>
<ellipse cx="398.6" cy="395.3" rx="0.75" ry="0.4" fill="#77777b"/>
<ellipse cx="404.8" cy="406.8" rx="0.95" ry="1.15" fill="#08080a"/>
<ellipse cx="404.9" cy="405.8" rx="0.75" ry="0.4" fill="#77777b"/>
<ellipse cx="378.0" cy="336.2" rx="0.95" ry="1.15" fill="#08080a"/>
<ellipse cx="378.1" cy="335.2" rx="0.75" ry="0.4" fill="#77777b"/>
<ellipse cx="382.4" cy="344.3" rx="0.95" ry="1.15" fill="#08080a"/>
<ellipse cx="382.5" cy="343.3" rx="0.75" ry="0.4" fill="#77777b"/>
<ellipse cx="387.1" cy="352.6" rx="0.95" ry="1.15" fill="#08080a"/>
<ellipse cx="387.2" cy="351.6" rx="0.75" ry="0.4" fill="#77777b"/>
<ellipse cx="392.2" cy="361.4" rx="0.95" ry="1.15" fill="#08080a"/>
<ellipse cx="392.3" cy="360.4" rx="0.75" ry="0.4" fill="#77777b"/>
<ellipse cx="397.6" cy="370.5" rx="0.95" ry="1.15" fill="#08080a"/>
<ellipse cx="397.7" cy="369.5" rx="0.75" ry="0.4" fill="#77777b"/>
<ellipse cx="403.3" cy="380.0" rx="0.95" ry="1.15" fill="#08080a"/>
<ellipse cx="403.4" cy="379.0" rx="0.75" ry="0.4" fill="#77777b"/>
<ellipse cx="409.3" cy="389.9" rx="0.95" ry="1.15" fill="#08080a"/>
<ellipse cx="409.4" cy="388.9" rx="0.75" ry="0.4" fill="#77777b"/>
<ellipse cx="415.7" cy="400.1" rx="0.95" ry="1.15" fill="#08080a"/>
<ellipse cx="415.8" cy="399.1" rx="0.75" ry="0.4" fill="#77777b"/>
<ellipse cx="380.3" cy="317.0" rx="0.95" ry="1.15" fill="#08080a"/>
<ellipse cx="380.4" cy="316.0" rx="0.75" ry="0.4" fill="#77777b"/>
<ellipse cx="384.1" cy="324.0" rx="0.95" ry="1.15" fill="#08080a"/>
<ellipse cx="384.2" cy="323.0" rx="0.75" ry="0.4" fill="#77777b"/>
<ellipse cx="388.2" cy="331.4" rx="0.95" ry="1.15" fill="#08080a"/>
<ellipse cx="388.3" cy="330.4" rx="0.75" ry="0.4" fill="#77777b"/>
<ellipse cx="392.7" cy="339.2" rx="0.95" ry="1.15" fill="#08080a"/>
<ellipse cx="392.8" cy="338.2" rx="0.75" ry="0.4" fill="#77777b"/>
<ellipse cx="397.5" cy="347.3" rx="0.95" ry="1.15" fill="#08080a"/>
<ellipse cx="397.6" cy="346.3" rx="0.75" ry="0.4" fill="#77777b"/>
<ellipse cx="402.6" cy="355.8" rx="0.95" ry="1.15" fill="#08080a"/>
<ellipse cx="402.7" cy="354.8" rx="0.75" ry="0.4" fill="#77777b"/>
<ellipse cx="408.1" cy="364.7" rx="0.95" ry="1.15" fill="#08080a"/>
<ellipse cx="408.2" cy="363.7" rx="0.75" ry="0.4" fill="#77777b"/>
<ellipse cx="413.9" cy="374.0" rx="0.95" ry="1.15" fill="#08080a"/>
<ellipse cx="414.0" cy="373.0" rx="0.75" ry="0.4" fill="#77777b"/>
<ellipse cx="420.0" cy="383.6" rx="0.95" ry="1.15" fill="#08080a"/>
<ellipse cx="420.1" cy="382.6" rx="0.75" ry="0.4" fill="#77777b"/>
<ellipse cx="426.5" cy="393.6" rx="0.95" ry="1.15" fill="#08080a"/>
<ellipse cx="426.6" cy="392.6" rx="0.75" ry="0.4" fill="#77777b"/>
<ellipse cx="433.3" cy="404.0" rx="0.95" ry="1.15" fill="#08080a"/>
<ellipse cx="433.4" cy="403.0" rx="0.75" ry="0.4" fill="#77777b"/>
<ellipse cx="390.1" cy="312.7" rx="0.95" ry="1.15" fill="#08080a"/>
<ellipse cx="390.2" cy="311.7" rx="0.75" ry="0.4" fill="#77777b"/>
<ellipse cx="394.0" cy="319.5" rx="0.95" ry="1.15" fill="#08080a"/>
<ellipse cx="394.1" cy="318.5" rx="0.75" ry="0.4" fill="#77777b"/>
<ellipse cx="398.2" cy="326.7" rx="0.95" ry="1.15" fill="#08080a"/>
<ellipse cx="398.3" cy="325.7" rx="0.75" ry="0.4" fill="#77777b"/>
<ellipse cx="402.7" cy="334.2" rx="0.95" ry="1.15" fill="#08080a"/>
<ellipse cx="402.8" cy="333.2" rx="0.75" ry="0.4" fill="#77777b"/>
<ellipse cx="407.6" cy="342.1" rx="0.95" ry="1.15" fill="#08080a"/>
<ellipse cx="407.7" cy="341.1" rx="0.75" ry="0.4" fill="#77777b"/>
<ellipse cx="412.8" cy="350.4" rx="0.95" ry="1.15" fill="#08080a"/>
<ellipse cx="412.9" cy="349.4" rx="0.75" ry="0.4" fill="#77777b"/>
<ellipse cx="418.3" cy="359.1" rx="0.95" ry="1.15" fill="#08080a"/>
<ellipse cx="418.4" cy="358.1" rx="0.75" ry="0.4" fill="#77777b"/>
<ellipse cx="424.2" cy="368.1" rx="0.95" ry="1.15" fill="#08080a"/>
<ellipse cx="424.3" cy="367.1" rx="0.75" ry="0.4" fill="#77777b"/>
<ellipse cx="430.4" cy="377.5" rx="0.95" ry="1.15" fill="#08080a"/>
<ellipse cx="430.5" cy="376.5" rx="0.75" ry="0.4" fill="#77777b"/>
<ellipse cx="437.0" cy="387.3" rx="0.95" ry="1.15" fill="#08080a"/>
<ellipse cx="437.1" cy="386.3" rx="0.75" ry="0.4" fill="#77777b"/>
<ellipse cx="443.8" cy="397.4" rx="0.95" ry="1.15" fill="#08080a"/>
<ellipse cx="443.9" cy="396.4" rx="0.75" ry="0.4" fill="#77777b"/>
<ellipse cx="451.1" cy="407.9" rx="0.95" ry="1.15" fill="#08080a"/>
<ellipse cx="451.2" cy="406.9" rx="0.75" ry="0.4" fill="#77777b"/>
<ellipse cx="399.8" cy="308.6" rx="0.95" ry="1.15" fill="#08080a"/>
<ellipse cx="399.9" cy="307.6" rx="0.75" ry="0.4" fill="#77777b"/>
<ellipse cx="403.7" cy="315.2" rx="0.95" ry="1.15" fill="#08080a"/>
<ellipse cx="403.8" cy="314.2" rx="0.75" ry="0.4" fill="#77777b"/>
<ellipse cx="408.0" cy="322.1" rx="0.95" ry="1.15" fill="#08080a"/>
<ellipse cx="408.1" cy="321.1" rx="0.75" ry="0.4" fill="#77777b"/>
<ellipse cx="412.6" cy="329.4" rx="0.95" ry="1.15" fill="#08080a"/>
<ellipse cx="412.7" cy="328.4" rx="0.75" ry="0.4" fill="#77777b"/>
<ellipse cx="417.5" cy="337.1" rx="0.95" ry="1.15" fill="#08080a"/>
<ellipse cx="417.6" cy="336.1" rx="0.75" ry="0.4" fill="#77777b"/>
<ellipse cx="422.8" cy="345.1" rx="0.95" ry="1.15" fill="#08080a"/>
<ellipse cx="422.9" cy="344.1" rx="0.75" ry="0.4" fill="#77777b"/>
<ellipse cx="428.4" cy="353.6" rx="0.95" ry="1.15" fill="#08080a"/>
<ellipse cx="428.5" cy="352.6" rx="0.75" ry="0.4" fill="#77777b"/>
<ellipse cx="434.3" cy="362.4" rx="0.95" ry="1.15" fill="#08080a"/>
<ellipse cx="434.4" cy="361.4" rx="0.75" ry="0.4" fill="#77777b"/>
<ellipse cx="440.6" cy="371.5" rx="0.95" ry="1.15" fill="#08080a"/>
<ellipse cx="440.7" cy="370.5" rx="0.75" ry="0.4" fill="#77777b"/>
<ellipse cx="447.2" cy="381.1" rx="0.95" ry="1.15" fill="#08080a"/>
<ellipse cx="447.3" cy="380.1" rx="0.75" ry="0.4" fill="#77777b"/>
<ellipse cx="454.2" cy="391.0" rx="0.95" ry="1.15" fill="#08080a"/>
<ellipse cx="454.3" cy="390.0" rx="0.75" ry="0.4" fill="#77777b"/>
<ellipse cx="461.5" cy="401.3" rx="0.95" ry="1.15" fill="#08080a"/>
<ellipse cx="461.6" cy="400.3" rx="0.75" ry="0.4" fill="#77777b"/>
<ellipse cx="409.1" cy="304.7" rx="0.95" ry="1.15" fill="#08080a"/>
<ellipse cx="409.2" cy="303.7" rx="0.75" ry="0.4" fill="#77777b"/>
<ellipse cx="413.2" cy="311.0" rx="0.95" ry="1.15" fill="#08080a"/>
<ellipse cx="413.3" cy="310.0" rx="0.75" ry="0.4" fill="#77777b"/>
<ellipse cx="417.5" cy="317.7" rx="0.95" ry="1.15" fill="#08080a"/>
<ellipse cx="417.6" cy="316.7" rx="0.75" ry="0.4" fill="#77777b"/>
<ellipse cx="422.2" cy="324.8" rx="0.95" ry="1.15" fill="#08080a"/>
<ellipse cx="422.3" cy="323.8" rx="0.75" ry="0.4" fill="#77777b"/>
<ellipse cx="427.2" cy="332.2" rx="0.95" ry="1.15" fill="#08080a"/>
<ellipse cx="427.3" cy="331.2" rx="0.75" ry="0.4" fill="#77777b"/>
<ellipse cx="432.5" cy="340.0" rx="0.95" ry="1.15" fill="#08080a"/>
<ellipse cx="432.6" cy="339.0" rx="0.75" ry="0.4" fill="#77777b"/>
<ellipse cx="438.2" cy="348.2" rx="0.95" ry="1.15" fill="#08080a"/>
<ellipse cx="438.3" cy="347.2" rx="0.75" ry="0.4" fill="#77777b"/>
<ellipse cx="444.2" cy="356.8" rx="0.95" ry="1.15" fill="#08080a"/>
<ellipse cx="444.3" cy="355.8" rx="0.75" ry="0.4" fill="#77777b"/>
<ellipse cx="450.6" cy="365.7" rx="0.95" ry="1.15" fill="#08080a"/>
<ellipse cx="450.7" cy="364.7" rx="0.75" ry="0.4" fill="#77777b"/>
<ellipse cx="457.3" cy="375.0" rx="0.95" ry="1.15" fill="#08080a"/>
<ellipse cx="457.4" cy="374.0" rx="0.75" ry="0.4" fill="#77777b"/>
<ellipse cx="464.3" cy="384.7" rx="0.95" ry="1.15" fill="#08080a"/>
<ellipse cx="464.4" cy="383.7" rx="0.75" ry="0.4" fill="#77777b"/>
<ellipse cx="471.7" cy="394.7" rx="0.95" ry="1.15" fill="#08080a"/>
<ellipse cx="471.8" cy="393.7" rx="0.75" ry="0.4" fill="#77777b"/>
<ellipse cx="479.4" cy="405.2" rx="0.95" ry="1.15" fill="#08080a"/>
<ellipse cx="479.5" cy="404.2" rx="0.75" ry="0.4" fill="#77777b"/>
<ellipse cx="418.3" cy="300.9" rx="0.95" ry="1.15" fill="#08080a"/>
<ellipse cx="418.4" cy="299.9" rx="0.75" ry="0.4" fill="#77777b"/>
<ellipse cx="422.4" cy="307.0" rx="0.95" ry="1.15" fill="#08080a"/>
<ellipse cx="422.5" cy="306.0" rx="0.75" ry="0.4" fill="#77777b"/>
<ellipse cx="426.8" cy="313.4" rx="0.95" ry="1.15" fill="#08080a"/>
<ellipse cx="426.9" cy="312.4" rx="0.75" ry="0.4" fill="#77777b"/>
<ellipse cx="431.5" cy="320.3" rx="0.95" ry="1.15" fill="#08080a"/>
<ellipse cx="431.6" cy="319.3" rx="0.75" ry="0.4" fill="#77777b"/>
<ellipse cx="436.6" cy="327.5" rx="0.95" ry="1.15" fill="#08080a"/>
<ellipse cx="436.7" cy="326.5" rx="0.75" ry="0.4" fill="#77777b"/>
<ellipse cx="442.1" cy="335.1" rx="0.95" ry="1.15" fill="#08080a"/>
<ellipse cx="442.2" cy="334.1" rx="0.75" ry="0.4" fill="#77777b"/>
<ellipse cx="447.8" cy="343.0" rx="0.95" ry="1.15" fill="#08080a"/>
<ellipse cx="447.9" cy="342.0" rx="0.75" ry="0.4" fill="#77777b"/>
<ellipse cx="453.9" cy="351.3" rx="0.95" ry="1.15" fill="#08080a"/>
<ellipse cx="454.0" cy="350.3" rx="0.75" ry="0.4" fill="#77777b"/>
<ellipse cx="460.3" cy="360.0" rx="0.95" ry="1.15" fill="#08080a"/>
<ellipse cx="460.4" cy="359.0" rx="0.75" ry="0.4" fill="#77777b"/>
<ellipse cx="467.1" cy="369.1" rx="0.95" ry="1.15" fill="#08080a"/>
<ellipse cx="467.2" cy="368.1" rx="0.75" ry="0.4" fill="#77777b"/>
<ellipse cx="474.2" cy="378.5" rx="0.95" ry="1.15" fill="#08080a"/>
<ellipse cx="474.3" cy="377.5" rx="0.75" ry="0.4" fill="#77777b"/>
<ellipse cx="481.6" cy="388.4" rx="0.95" ry="1.15" fill="#08080a"/>
<ellipse cx="481.7" cy="387.4" rx="0.75" ry="0.4" fill="#77777b"/>
<ellipse cx="489.4" cy="398.6" rx="0.95" ry="1.15" fill="#08080a"/>
<ellipse cx="489.5" cy="397.6" rx="0.75" ry="0.4" fill="#77777b"/>
<ellipse cx="497.5" cy="409.1" rx="0.95" ry="1.15" fill="#08080a"/>
<ellipse cx="497.6" cy="408.1" rx="0.75" ry="0.4" fill="#77777b"/>
<ellipse cx="431.4" cy="303.1" rx="0.95" ry="1.15" fill="#08080a"/>
<ellipse cx="431.5" cy="302.1" rx="0.75" ry="0.4" fill="#77777b"/>
<ellipse cx="435.9" cy="309.3" rx="0.95" ry="1.15" fill="#08080a"/>
<ellipse cx="436.0" cy="308.3" rx="0.75" ry="0.4" fill="#77777b"/>
<ellipse cx="440.7" cy="315.9" rx="0.95" ry="1.15" fill="#08080a"/>
<ellipse cx="440.8" cy="314.9" rx="0.75" ry="0.4" fill="#77777b"/>
<ellipse cx="445.9" cy="322.9" rx="0.95" ry="1.15" fill="#08080a"/>
<ellipse cx="446.0" cy="321.9" rx="0.75" ry="0.4" fill="#77777b"/>
<ellipse cx="451.4" cy="330.2" rx="0.95" ry="1.15" fill="#08080a"/>
<ellipse cx="451.5" cy="329.2" rx="0.75" ry="0.4" fill="#77777b"/>
<ellipse cx="457.2" cy="338.0" rx="0.95" ry="1.15" fill="#08080a"/>
<ellipse cx="457.3" cy="337.0" rx="0.75" ry="0.4" fill="#77777b"/>
<ellipse cx="463.3" cy="346.0" rx="0.95" ry="1.15" fill="#08080a"/>
<ellipse cx="463.4" cy="345.0" rx="0.75" ry="0.4" fill="#77777b"/>
<ellipse cx="469.8" cy="354.5" rx="0.95" ry="1.15" fill="#08080a"/>
<ellipse cx="469.9" cy="353.5" rx="0.75" ry="0.4" fill="#77777b"/>
<ellipse cx="476.7" cy="363.3" rx="0.95" ry="1.15" fill="#08080a"/>
<ellipse cx="476.8" cy="362.3" rx="0.75" ry="0.4" fill="#77777b"/>
<ellipse cx="483.9" cy="372.6" rx="0.95" ry="1.15" fill="#08080a"/>
<ellipse cx="484.0" cy="371.6" rx="0.75" ry="0.4" fill="#77777b"/>
<ellipse cx="491.4" cy="382.1" rx="0.95" ry="1.15" fill="#08080a"/>
<ellipse cx="491.5" cy="381.1" rx="0.75" ry="0.4" fill="#77777b"/>
<ellipse cx="499.2" cy="392.1" rx="0.95" ry="1.15" fill="#08080a"/>
<ellipse cx="499.3" cy="391.1" rx="0.75" ry="0.4" fill="#77777b"/>
<ellipse cx="507.4" cy="402.4" rx="0.95" ry="1.15" fill="#08080a"/>
<ellipse cx="507.5" cy="401.4" rx="0.75" ry="0.4" fill="#77777b"/>
<ellipse cx="444.8" cy="305.3" rx="0.95" ry="1.15" fill="#08080a"/>
<ellipse cx="444.9" cy="304.3" rx="0.75" ry="0.4" fill="#77777b"/>
<ellipse cx="449.6" cy="311.7" rx="0.95" ry="1.15" fill="#08080a"/>
<ellipse cx="449.7" cy="310.7" rx="0.75" ry="0.4" fill="#77777b"/>
<ellipse cx="454.9" cy="318.4" rx="0.95" ry="1.15" fill="#08080a"/>
<ellipse cx="455.0" cy="317.4" rx="0.75" ry="0.4" fill="#77777b"/>
<ellipse cx="460.4" cy="325.6" rx="0.95" ry="1.15" fill="#08080a"/>
<ellipse cx="460.5" cy="324.6" rx="0.75" ry="0.4" fill="#77777b"/>
<ellipse cx="466.3" cy="333.0" rx="0.95" ry="1.15" fill="#08080a"/>
<ellipse cx="466.4" cy="332.0" rx="0.75" ry="0.4" fill="#77777b"/>
<ellipse cx="472.6" cy="340.9" rx="0.95" ry="1.15" fill="#08080a"/>
<ellipse cx="472.7" cy="339.9" rx="0.75" ry="0.4" fill="#77777b"/>
<ellipse cx="479.1" cy="349.1" rx="0.95" ry="1.15" fill="#08080a"/>
<ellipse cx="479.2" cy="348.1" rx="0.75" ry="0.4" fill="#77777b"/>
<ellipse cx="486.1" cy="357.7" rx="0.95" ry="1.15" fill="#08080a"/>
<ellipse cx="486.2" cy="356.7" rx="0.75" ry="0.4" fill="#77777b"/>
<ellipse cx="493.3" cy="366.7" rx="0.95" ry="1.15" fill="#08080a"/>
<ellipse cx="493.4" cy="365.7" rx="0.75" ry="0.4" fill="#77777b"/>
<ellipse cx="500.9" cy="376.0" rx="0.95" ry="1.15" fill="#08080a"/>
<ellipse cx="501.0" cy="375.0" rx="0.75" ry="0.4" fill="#77777b"/>
<ellipse cx="508.8" cy="385.8" rx="0.95" ry="1.15" fill="#08080a"/>
<ellipse cx="508.9" cy="384.8" rx="0.75" ry="0.4" fill="#77777b"/>
<ellipse cx="517.0" cy="395.9" rx="0.95" ry="1.15" fill="#08080a"/>
<ellipse cx="517.1" cy="394.9" rx="0.75" ry="0.4" fill="#77777b"/>
<ellipse cx="525.6" cy="406.3" rx="0.95" ry="1.15" fill="#08080a"/>
<ellipse cx="525.7" cy="405.3" rx="0.75" ry="0.4" fill="#77777b"/>
<ellipse cx="453.4" cy="301.5" rx="0.95" ry="1.15" fill="#08080a"/>
<ellipse cx="453.5" cy="300.5" rx="0.75" ry="0.4" fill="#77777b"/>
<ellipse cx="458.4" cy="307.7" rx="0.95" ry="1.15" fill="#08080a"/>
<ellipse cx="458.5" cy="306.7" rx="0.75" ry="0.4" fill="#77777b"/>
<ellipse cx="463.7" cy="314.2" rx="0.95" ry="1.15" fill="#08080a"/>
<ellipse cx="463.8" cy="313.2" rx="0.75" ry="0.4" fill="#77777b"/>
<ellipse cx="469.3" cy="321.0" rx="0.95" ry="1.15" fill="#08080a"/>
<ellipse cx="469.4" cy="320.0" rx="0.75" ry="0.4" fill="#77777b"/>
<ellipse cx="475.3" cy="328.3" rx="0.95" ry="1.15" fill="#08080a"/>
<ellipse cx="475.4" cy="327.3" rx="0.75" ry="0.4" fill="#77777b"/>
<ellipse cx="481.6" cy="335.9" rx="0.95" ry="1.15" fill="#08080a"/>
<ellipse cx="481.7" cy="334.9" rx="0.75" ry="0.4" fill="#77777b"/>
<ellipse cx="488.2" cy="343.9" rx="0.95" ry="1.15" fill="#08080a"/>
<ellipse cx="488.3" cy="342.9" rx="0.75" ry="0.4" fill="#77777b"/>
<ellipse cx="495.2" cy="352.3" rx="0.95" ry="1.15" fill="#08080a"/>
<ellipse cx="495.3" cy="351.3" rx="0.75" ry="0.4" fill="#77777b"/>
<ellipse cx="502.5" cy="361.0" rx="0.95" ry="1.15" fill="#08080a"/>
<ellipse cx="502.6" cy="360.0" rx="0.75" ry="0.4" fill="#77777b"/>
<ellipse cx="510.2" cy="370.1" rx="0.95" ry="1.15" fill="#08080a"/>
<ellipse cx="510.3" cy="369.1" rx="0.75" ry="0.4" fill="#77777b"/>
<ellipse cx="518.2" cy="379.6" rx="0.95" ry="1.15" fill="#08080a"/>
<ellipse cx="518.3" cy="378.6" rx="0.75" ry="0.4" fill="#77777b"/>
<ellipse cx="526.5" cy="389.5" rx="0.95" ry="1.15" fill="#08080a"/>
<ellipse cx="526.6" cy="388.5" rx="0.75" ry="0.4" fill="#77777b"/>
<ellipse cx="535.1" cy="399.7" rx="0.95" ry="1.15" fill="#08080a"/>
<ellipse cx="535.2" cy="398.7" rx="0.75" ry="0.4" fill="#77777b"/>
<ellipse cx="544.1" cy="410.3" rx="0.95" ry="1.15" fill="#08080a"/>
<ellipse cx="544.2" cy="409.3" rx="0.75" ry="0.4" fill="#77777b"/>
<ellipse cx="466.8" cy="303.7" rx="0.95" ry="1.15" fill="#08080a"/>
<ellipse cx="466.9" cy="302.7" rx="0.75" ry="0.4" fill="#77777b"/>
<ellipse cx="472.2" cy="310.0" rx="0.95" ry="1.15" fill="#08080a"/>
<ellipse cx="472.3" cy="309.0" rx="0.75" ry="0.4" fill="#77777b"/>
<ellipse cx="477.9" cy="316.7" rx="0.95" ry="1.15" fill="#08080a"/>
<ellipse cx="478.0" cy="315.7" rx="0.75" ry="0.4" fill="#77777b"/>
<ellipse cx="484.0" cy="323.7" rx="0.95" ry="1.15" fill="#08080a"/>
<ellipse cx="484.1" cy="322.7" rx="0.75" ry="0.4" fill="#77777b"/>
<ellipse cx="490.3" cy="331.1" rx="0.95" ry="1.15" fill="#08080a"/>
<ellipse cx="490.4" cy="330.1" rx="0.75" ry="0.4" fill="#77777b"/>
<ellipse cx="497.1" cy="338.8" rx="0.95" ry="1.15" fill="#08080a"/>
<ellipse cx="497.2" cy="337.8" rx="0.75" ry="0.4" fill="#77777b"/>
<ellipse cx="504.1" cy="346.9" rx="0.95" ry="1.15" fill="#08080a"/>
<ellipse cx="504.2" cy="345.9" rx="0.75" ry="0.4" fill="#77777b"/>
<ellipse cx="511.5" cy="355.4" rx="0.95" ry="1.15" fill="#08080a"/>
<ellipse cx="511.6" cy="354.4" rx="0.75" ry="0.4" fill="#77777b"/>
<ellipse cx="519.2" cy="364.3" rx="0.95" ry="1.15" fill="#08080a"/>
<ellipse cx="519.3" cy="363.3" rx="0.75" ry="0.4" fill="#77777b"/>
<ellipse cx="527.3" cy="373.6" rx="0.95" ry="1.15" fill="#08080a"/>
<ellipse cx="527.4" cy="372.6" rx="0.75" ry="0.4" fill="#77777b"/>
<ellipse cx="535.7" cy="383.2" rx="0.95" ry="1.15" fill="#08080a"/>
<ellipse cx="535.8" cy="382.2" rx="0.75" ry="0.4" fill="#77777b"/>
<ellipse cx="544.4" cy="393.2" rx="0.95" ry="1.15" fill="#08080a"/>
<ellipse cx="544.5" cy="392.2" rx="0.75" ry="0.4" fill="#77777b"/>
<ellipse cx="553.5" cy="403.6" rx="0.95" ry="1.15" fill="#08080a"/>
<ellipse cx="553.6" cy="402.6" rx="0.75" ry="0.4" fill="#77777b"/>
<ellipse cx="480.6" cy="306.0" rx="0.95" ry="1.15" fill="#08080a"/>
<ellipse cx="480.7" cy="305.0" rx="0.75" ry="0.4" fill="#77777b"/>
<ellipse cx="486.3" cy="312.4" rx="0.95" ry="1.15" fill="#08080a"/>
<ellipse cx="486.4" cy="311.4" rx="0.75" ry="0.4" fill="#77777b"/>
<ellipse cx="492.4" cy="319.2" rx="0.95" ry="1.15" fill="#08080a"/>
<ellipse cx="492.5" cy="318.2" rx="0.75" ry="0.4" fill="#77777b"/>
<ellipse cx="498.9" cy="326.4" rx="0.95" ry="1.15" fill="#08080a"/>
<ellipse cx="499.0" cy="325.4" rx="0.75" ry="0.4" fill="#77777b"/>
<ellipse cx="505.7" cy="333.9" rx="0.95" ry="1.15" fill="#08080a"/>
<ellipse cx="505.8" cy="332.9" rx="0.75" ry="0.4" fill="#77777b"/>
<ellipse cx="512.8" cy="341.8" rx="0.95" ry="1.15" fill="#08080a"/>
<ellipse cx="512.9" cy="340.8" rx="0.75" ry="0.4" fill="#77777b"/>
<ellipse cx="520.3" cy="350.0" rx="0.95" ry="1.15" fill="#08080a"/>
<ellipse cx="520.4" cy="349.0" rx="0.75" ry="0.4" fill="#77777b"/>
<ellipse cx="528.1" cy="358.7" rx="0.95" ry="1.15" fill="#08080a"/>
<ellipse cx="528.2" cy="357.7" rx="0.75" ry="0.4" fill="#77777b"/>
<ellipse cx="536.2" cy="367.7" rx="0.95" ry="1.15" fill="#08080a"/>
<ellipse cx="536.3" cy="366.7" rx="0.75" ry="0.4" fill="#77777b"/>
<ellipse cx="544.7" cy="377.1" rx="0.95" ry="1.15" fill="#08080a"/>
<ellipse cx="544.8" cy="376.1" rx="0.75" ry="0.4" fill="#77777b"/>
<ellipse cx="553.5" cy="386.8" rx="0.95" ry="1.15" fill="#08080a"/>
<ellipse cx="553.6" cy="385.8" rx="0.75" ry="0.4" fill="#77777b"/>
<ellipse cx="562.6" cy="397.0" rx="0.95" ry="1.15" fill="#08080a"/>
<ellipse cx="562.7" cy="396.0" rx="0.75" ry="0.4" fill="#77777b"/>
<ellipse cx="572.1" cy="407.5" rx="0.95" ry="1.15" fill="#08080a"/>
<ellipse cx="572.2" cy="406.5" rx="0.75" ry="0.4" fill="#77777b"/>
<ellipse cx="488.7" cy="302.2" rx="0.95" ry="1.15" fill="#08080a"/>
<ellipse cx="488.8" cy="301.2" rx="0.75" ry="0.4" fill="#77777b"/>
<ellipse cx="494.5" cy="308.3" rx="0.95" ry="1.15" fill="#08080a"/>
<ellipse cx="494.6" cy="307.3" rx="0.75" ry="0.4" fill="#77777b"/>
<ellipse cx="500.7" cy="314.9" rx="0.95" ry="1.15" fill="#08080a"/>
<ellipse cx="500.8" cy="313.9" rx="0.75" ry="0.4" fill="#77777b"/>
<ellipse cx="507.2" cy="321.8" rx="0.95" ry="1.15" fill="#08080a"/>
<ellipse cx="507.3" cy="320.8" rx="0.75" ry="0.4" fill="#77777b"/>
<ellipse cx="514.1" cy="329.1" rx="0.95" ry="1.15" fill="#08080a"/>
<ellipse cx="514.2" cy="328.1" rx="0.75" ry="0.4" fill="#77777b"/>
<ellipse cx="521.3" cy="336.8" rx="0.95" ry="1.15" fill="#08080a"/>
<ellipse cx="521.4" cy="335.8" rx="0.75" ry="0.4" fill="#77777b"/>
<ellipse cx="528.8" cy="344.8" rx="0.95" ry="1.15" fill="#08080a"/>
<ellipse cx="528.9" cy="343.8" rx="0.75" ry="0.4" fill="#77777b"/>
<ellipse cx="536.7" cy="353.2" rx="0.95" ry="1.15" fill="#08080a"/>
<ellipse cx="536.8" cy="352.2" rx="0.75" ry="0.4" fill="#77777b"/>
<ellipse cx="544.9" cy="362.0" rx="0.95" ry="1.15" fill="#08080a"/>
<ellipse cx="545.0" cy="361.0" rx="0.75" ry="0.4" fill="#77777b"/>
<ellipse cx="553.4" cy="371.1" rx="0.95" ry="1.15" fill="#08080a"/>
<ellipse cx="553.5" cy="370.1" rx="0.75" ry="0.4" fill="#77777b"/>
<ellipse cx="562.3" cy="380.6" rx="0.95" ry="1.15" fill="#08080a"/>
<ellipse cx="562.4" cy="379.6" rx="0.75" ry="0.4" fill="#77777b"/>
<ellipse cx="571.5" cy="390.5" rx="0.95" ry="1.15" fill="#08080a"/>
<ellipse cx="571.6" cy="389.5" rx="0.75" ry="0.4" fill="#77777b"/>
<ellipse cx="581.1" cy="400.8" rx="0.95" ry="1.15" fill="#08080a"/>
<ellipse cx="581.2" cy="399.8" rx="0.75" ry="0.4" fill="#77777b"/>
<ellipse cx="502.5" cy="304.4" rx="0.95" ry="1.15" fill="#08080a"/>
<ellipse cx="502.6" cy="303.4" rx="0.75" ry="0.4" fill="#77777b"/>
<ellipse cx="508.7" cy="310.7" rx="0.95" ry="1.15" fill="#08080a"/>
<ellipse cx="508.8" cy="309.7" rx="0.75" ry="0.4" fill="#77777b"/>
<ellipse cx="515.3" cy="317.4" rx="0.95" ry="1.15" fill="#08080a"/>
<ellipse cx="515.4" cy="316.4" rx="0.75" ry="0.4" fill="#77777b"/>
<ellipse cx="522.3" cy="324.5" rx="0.95" ry="1.15" fill="#08080a"/>
<ellipse cx="522.4" cy="323.5" rx="0.75" ry="0.4" fill="#77777b"/>
<ellipse cx="529.5" cy="331.9" rx="0.95" ry="1.15" fill="#08080a"/>
<ellipse cx="529.6" cy="330.9" rx="0.75" ry="0.4" fill="#77777b"/>
<ellipse cx="537.1" cy="339.7" rx="0.95" ry="1.15" fill="#08080a"/>
<ellipse cx="537.2" cy="338.7" rx="0.75" ry="0.4" fill="#77777b"/>
<ellipse cx="545.1" cy="347.9" rx="0.95" ry="1.15" fill="#08080a"/>
<ellipse cx="545.2" cy="346.9" rx="0.75" ry="0.4" fill="#77777b"/>
<ellipse cx="553.4" cy="356.4" rx="0.95" ry="1.15" fill="#08080a"/>
<ellipse cx="553.5" cy="355.4" rx="0.75" ry="0.4" fill="#77777b"/>
<ellipse cx="562.0" cy="365.3" rx="0.95" ry="1.15" fill="#08080a"/>
<ellipse cx="562.1" cy="364.3" rx="0.75" ry="0.4" fill="#77777b"/>
<ellipse cx="570.9" cy="374.6" rx="0.95" ry="1.15" fill="#08080a"/>
<ellipse cx="571.0" cy="373.6" rx="0.75" ry="0.4" fill="#77777b"/>
<ellipse cx="580.2" cy="384.3" rx="0.95" ry="1.15" fill="#08080a"/>
<ellipse cx="580.3" cy="383.3" rx="0.75" ry="0.4" fill="#77777b"/>
<ellipse cx="589.8" cy="394.3" rx="0.95" ry="1.15" fill="#08080a"/>
<ellipse cx="589.9" cy="393.3" rx="0.75" ry="0.4" fill="#77777b"/>
<ellipse cx="599.8" cy="404.7" rx="0.95" ry="1.15" fill="#08080a"/>
<ellipse cx="599.9" cy="403.7" rx="0.75" ry="0.4" fill="#77777b"/>
<ellipse cx="510.2" cy="300.6" rx="0.95" ry="1.15" fill="#08080a"/>
<ellipse cx="510.3" cy="299.6" rx="0.75" ry="0.4" fill="#77777b"/>
<ellipse cx="516.5" cy="306.7" rx="0.95" ry="1.15" fill="#08080a"/>
<ellipse cx="516.6" cy="305.7" rx="0.75" ry="0.4" fill="#77777b"/>
<ellipse cx="523.2" cy="313.1" rx="0.95" ry="1.15" fill="#08080a"/>
<ellipse cx="523.3" cy="312.1" rx="0.75" ry="0.4" fill="#77777b"/>
<ellipse cx="530.2" cy="320.0" rx="0.95" ry="1.15" fill="#08080a"/>
<ellipse cx="530.3" cy="319.0" rx="0.75" ry="0.4" fill="#77777b"/>
<ellipse cx="537.6" cy="327.2" rx="0.95" ry="1.15" fill="#08080a"/>
<ellipse cx="537.7" cy="326.2" rx="0.75" ry="0.4" fill="#77777b"/>
<ellipse cx="545.2" cy="334.7" rx="0.95" ry="1.15" fill="#08080a"/>
<ellipse cx="545.3" cy="333.7" rx="0.75" ry="0.4" fill="#77777b"/>
<ellipse cx="553.2" cy="342.7" rx="0.95" ry="1.15" fill="#08080a"/>
<ellipse cx="553.3" cy="341.7" rx="0.75" ry="0.4" fill="#77777b"/>
<ellipse cx="561.6" cy="351.0" rx="0.95" ry="1.15" fill="#08080a"/>
<ellipse cx="561.7" cy="350.0" rx="0.75" ry="0.4" fill="#77777b"/>
<ellipse cx="570.3" cy="359.6" rx="0.95" ry="1.15" fill="#08080a"/>
<ellipse cx="570.4" cy="358.6" rx="0.75" ry="0.4" fill="#77777b"/>
<ellipse cx="579.3" cy="368.7" rx="0.95" ry="1.15" fill="#08080a"/>
<ellipse cx="579.4" cy="367.7" rx="0.75" ry="0.4" fill="#77777b"/>
<ellipse cx="588.7" cy="378.1" rx="0.95" ry="1.15" fill="#08080a"/>
<ellipse cx="588.8" cy="377.1" rx="0.75" ry="0.4" fill="#77777b"/>
<ellipse cx="598.3" cy="387.9" rx="0.95" ry="1.15" fill="#08080a"/>
<ellipse cx="598.4" cy="386.9" rx="0.75" ry="0.4" fill="#77777b"/>
<ellipse cx="608.4" cy="398.1" rx="0.95" ry="1.15" fill="#08080a"/>
<ellipse cx="608.5" cy="397.1" rx="0.75" ry="0.4" fill="#77777b"/>
<ellipse cx="618.7" cy="408.6" rx="0.95" ry="1.15" fill="#08080a"/>
<ellipse cx="618.8" cy="407.6" rx="0.75" ry="0.4" fill="#77777b"/>
<ellipse cx="524.1" cy="302.8" rx="0.95" ry="1.15" fill="#08080a"/>
<ellipse cx="524.2" cy="301.8" rx="0.75" ry="0.4" fill="#77777b"/>
<ellipse cx="530.9" cy="309.0" rx="0.95" ry="1.15" fill="#08080a"/>
<ellipse cx="531.0" cy="308.0" rx="0.75" ry="0.4" fill="#77777b"/>
<ellipse cx="537.9" cy="315.6" rx="0.95" ry="1.15" fill="#08080a"/>
<ellipse cx="538.0" cy="314.6" rx="0.75" ry="0.4" fill="#77777b"/>
<ellipse cx="545.3" cy="322.6" rx="0.95" ry="1.15" fill="#08080a"/>
<ellipse cx="545.4" cy="321.6" rx="0.75" ry="0.4" fill="#77777b"/>
<ellipse cx="553.1" cy="329.9" rx="0.95" ry="1.15" fill="#08080a"/>
<ellipse cx="553.2" cy="328.9" rx="0.75" ry="0.4" fill="#77777b"/>
<ellipse cx="561.2" cy="337.6" rx="0.95" ry="1.15" fill="#08080a"/>
<ellipse cx="561.3" cy="336.6" rx="0.75" ry="0.4" fill="#77777b"/>
<ellipse cx="569.6" cy="345.7" rx="0.95" ry="1.15" fill="#08080a"/>
<ellipse cx="569.7" cy="344.7" rx="0.75" ry="0.4" fill="#77777b"/>
<ellipse cx="578.4" cy="354.1" rx="0.95" ry="1.15" fill="#08080a"/>
<ellipse cx="578.5" cy="353.1" rx="0.75" ry="0.4" fill="#77777b"/>
<ellipse cx="587.5" cy="363.0" rx="0.95" ry="1.15" fill="#08080a"/>
<ellipse cx="587.6" cy="362.0" rx="0.75" ry="0.4" fill="#77777b"/>
<ellipse cx="596.9" cy="372.1" rx="0.95" ry="1.15" fill="#08080a"/>
<ellipse cx="597.0" cy="371.1" rx="0.75" ry="0.4" fill="#77777b"/>
<ellipse cx="606.6" cy="381.7" rx="0.95" ry="1.15" fill="#08080a"/>
<ellipse cx="606.7" cy="380.7" rx="0.75" ry="0.4" fill="#77777b"/>
<ellipse cx="616.7" cy="391.6" rx="0.95" ry="1.15" fill="#08080a"/>
<ellipse cx="616.8" cy="390.6" rx="0.75" ry="0.4" fill="#77777b"/>
<ellipse cx="627.2" cy="402.0" rx="0.95" ry="1.15" fill="#08080a"/>
<ellipse cx="627.3" cy="401.0" rx="0.75" ry="0.4" fill="#77777b"/>
<ellipse cx="538.3" cy="305.1" rx="0.95" ry="1.15" fill="#08080a"/>
<ellipse cx="538.4" cy="304.1" rx="0.75" ry="0.4" fill="#77777b"/>
<ellipse cx="545.4" cy="311.4" rx="0.95" ry="1.15" fill="#08080a"/>
<ellipse cx="545.5" cy="310.4" rx="0.75" ry="0.4" fill="#77777b"/>
<ellipse cx="552.9" cy="318.1" rx="0.95" ry="1.15" fill="#08080a"/>
<ellipse cx="553.0" cy="317.1" rx="0.75" ry="0.4" fill="#77777b"/>
<ellipse cx="560.7" cy="325.2" rx="0.95" ry="1.15" fill="#08080a"/>
<ellipse cx="560.8" cy="324.2" rx="0.75" ry="0.4" fill="#77777b"/>
<ellipse cx="568.9" cy="332.7" rx="0.95" ry="1.15" fill="#08080a"/>
<ellipse cx="569.0" cy="331.7" rx="0.75" ry="0.4" fill="#77777b"/>
<ellipse cx="577.4" cy="340.6" rx="0.95" ry="1.15" fill="#08080a"/>
<ellipse cx="577.5" cy="339.6" rx="0.75" ry="0.4" fill="#77777b"/>
<ellipse cx="586.2" cy="348.8" rx="0.95" ry="1.15" fill="#08080a"/>
<ellipse cx="586.3" cy="347.8" rx="0.75" ry="0.4" fill="#77777b"/>
<ellipse cx="595.4" cy="357.3" rx="0.95" ry="1.15" fill="#08080a"/>
<ellipse cx="595.5" cy="356.3" rx="0.75" ry="0.4" fill="#77777b"/>
<ellipse cx="604.9" cy="366.3" rx="0.95" ry="1.15" fill="#08080a"/>
<ellipse cx="605.0" cy="365.3" rx="0.75" ry="0.4" fill="#77777b"/>
<ellipse cx="614.7" cy="375.6" rx="0.95" ry="1.15" fill="#08080a"/>
<ellipse cx="614.8" cy="374.6" rx="0.75" ry="0.4" fill="#77777b"/>
<ellipse cx="624.9" cy="385.3" rx="0.95" ry="1.15" fill="#08080a"/>
<ellipse cx="625.0" cy="384.3" rx="0.75" ry="0.4" fill="#77777b"/>
<ellipse cx="545.5" cy="301.3" rx="0.95" ry="1.15" fill="#08080a"/>
<ellipse cx="545.6" cy="300.3" rx="0.75" ry="0.4" fill="#77777b"/>
<ellipse cx="552.7" cy="307.4" rx="0.95" ry="1.15" fill="#08080a"/>
<ellipse cx="552.8" cy="306.4" rx="0.75" ry="0.4" fill="#77777b"/>
<ellipse cx="560.3" cy="313.9" rx="0.95" ry="1.15" fill="#08080a"/>
<ellipse cx="560.4" cy="312.9" rx="0.75" ry="0.4" fill="#77777b"/>
<ellipse cx="568.2" cy="320.7" rx="0.95" ry="1.15" fill="#08080a"/>
<ellipse cx="568.3" cy="319.7" rx="0.75" ry="0.4" fill="#77777b"/>
<ellipse cx="576.4" cy="328.0" rx="0.95" ry="1.15" fill="#08080a"/>
<ellipse cx="576.5" cy="327.0" rx="0.75" ry="0.4" fill="#77777b"/>
<ellipse cx="585.0" cy="335.6" rx="0.95" ry="1.15" fill="#08080a"/>
<ellipse cx="585.1" cy="334.6" rx="0.75" ry="0.4" fill="#77777b"/>
<ellipse cx="593.9" cy="343.5" rx="0.95" ry="1.15" fill="#08080a"/>
<ellipse cx="594.0" cy="342.5" rx="0.75" ry="0.4" fill="#77777b"/>
<ellipse cx="603.1" cy="351.9" rx="0.95" ry="1.15" fill="#08080a"/>
<ellipse cx="603.2" cy="350.9" rx="0.75" ry="0.4" fill="#77777b"/>
<ellipse cx="612.7" cy="360.6" rx="0.95" ry="1.15" fill="#08080a"/>
<ellipse cx="612.8" cy="359.6" rx="0.75" ry="0.4" fill="#77777b"/>
<ellipse cx="622.6" cy="369.7" rx="0.95" ry="1.15" fill="#08080a"/>
<ellipse cx="622.7" cy="368.7" rx="0.75" ry="0.4" fill="#77777b"/>
<ellipse cx="632.8" cy="379.2" rx="0.95" ry="1.15" fill="#08080a"/>
<ellipse cx="632.9" cy="378.2" rx="0.75" ry="0.4" fill="#77777b"/>
<ellipse cx="559.8" cy="303.5" rx="0.95" ry="1.15" fill="#08080a"/>
<ellipse cx="559.9" cy="302.5" rx="0.75" ry="0.4" fill="#77777b"/>
<ellipse cx="567.4" cy="309.7" rx="0.95" ry="1.15" fill="#08080a"/>
<ellipse cx="567.5" cy="308.7" rx="0.75" ry="0.4" fill="#77777b"/>
<ellipse cx="575.4" cy="316.4" rx="0.95" ry="1.15" fill="#08080a"/>
<ellipse cx="575.5" cy="315.4" rx="0.75" ry="0.4" fill="#77777b"/>
<ellipse cx="583.7" cy="323.4" rx="0.95" ry="1.15" fill="#08080a"/>
<ellipse cx="583.8" cy="322.4" rx="0.75" ry="0.4" fill="#77777b"/>
<ellipse cx="592.3" cy="330.7" rx="0.95" ry="1.15" fill="#08080a"/>
<ellipse cx="592.4" cy="329.7" rx="0.75" ry="0.4" fill="#77777b"/>
<ellipse cx="601.3" cy="338.5" rx="0.95" ry="1.15" fill="#08080a"/>
<ellipse cx="601.4" cy="337.5" rx="0.75" ry="0.4" fill="#77777b"/>
<ellipse cx="610.6" cy="346.6" rx="0.95" ry="1.15" fill="#08080a"/>
<ellipse cx="610.7" cy="345.6" rx="0.75" ry="0.4" fill="#77777b"/>
<ellipse cx="620.2" cy="355.1" rx="0.95" ry="1.15" fill="#08080a"/>
<ellipse cx="620.3" cy="354.1" rx="0.75" ry="0.4" fill="#77777b"/>
<ellipse cx="630.2" cy="363.9" rx="0.95" ry="1.15" fill="#08080a"/>
<ellipse cx="630.3" cy="362.9" rx="0.75" ry="0.4" fill="#77777b"/>
<ellipse cx="574.3" cy="305.7" rx="0.95" ry="1.15" fill="#08080a"/>
<ellipse cx="574.4" cy="304.7" rx="0.75" ry="0.4" fill="#77777b"/>
<ellipse cx="582.3" cy="312.1" rx="0.95" ry="1.15" fill="#08080a"/>
<ellipse cx="582.4" cy="311.1" rx="0.75" ry="0.4" fill="#77777b"/>
<ellipse cx="590.7" cy="318.9" rx="0.95" ry="1.15" fill="#08080a"/>
<ellipse cx="590.8" cy="317.9" rx="0.75" ry="0.4" fill="#77777b"/>
<ellipse cx="599.4" cy="326.0" rx="0.95" ry="1.15" fill="#08080a"/>
<ellipse cx="599.5" cy="325.0" rx="0.75" ry="0.4" fill="#77777b"/>
<ellipse cx="608.5" cy="333.5" rx="0.95" ry="1.15" fill="#08080a"/>
<ellipse cx="608.6" cy="332.5" rx="0.75" ry="0.4" fill="#77777b"/>
<ellipse cx="617.8" cy="341.4" rx="0.95" ry="1.15" fill="#08080a"/>
<ellipse cx="617.9" cy="340.4" rx="0.75" ry="0.4" fill="#77777b"/>
<ellipse cx="627.6" cy="349.7" rx="0.95" ry="1.15" fill="#08080a"/>
<ellipse cx="627.7" cy="348.7" rx="0.75" ry="0.4" fill="#77777b"/>
<ellipse cx="581.0" cy="301.9" rx="0.95" ry="1.15" fill="#08080a"/>
<ellipse cx="581.1" cy="300.9" rx="0.75" ry="0.4" fill="#77777b"/>
<ellipse cx="589.1" cy="308.1" rx="0.95" ry="1.15" fill="#08080a"/>
<ellipse cx="589.2" cy="307.1" rx="0.75" ry="0.4" fill="#77777b"/>
<ellipse cx="597.5" cy="314.6" rx="0.95" ry="1.15" fill="#08080a"/>
<ellipse cx="597.6" cy="313.6" rx="0.75" ry="0.4" fill="#77777b"/>
<ellipse cx="606.3" cy="321.5" rx="0.95" ry="1.15" fill="#08080a"/>
<ellipse cx="606.4" cy="320.5" rx="0.75" ry="0.4" fill="#77777b"/>
<ellipse cx="615.4" cy="328.8" rx="0.95" ry="1.15" fill="#08080a"/>
<ellipse cx="615.5" cy="327.8" rx="0.75" ry="0.4" fill="#77777b"/>
<ellipse cx="624.9" cy="336.4" rx="0.95" ry="1.15" fill="#08080a"/>
<ellipse cx="625.0" cy="335.4" rx="0.75" ry="0.4" fill="#77777b"/>
<ellipse cx="595.6" cy="304.1" rx="0.95" ry="1.15" fill="#08080a"/>
<ellipse cx="595.7" cy="303.1" rx="0.75" ry="0.4" fill="#77777b"/>
<ellipse cx="604.1" cy="310.4" rx="0.95" ry="1.15" fill="#08080a"/>
<ellipse cx="604.2" cy="309.4" rx="0.75" ry="0.4" fill="#77777b"/>
<ellipse cx="613.0" cy="317.1" rx="0.95" ry="1.15" fill="#08080a"/>
<ellipse cx="613.1" cy="316.1" rx="0.75" ry="0.4" fill="#77777b"/>
<ellipse cx="622.2" cy="324.1" rx="0.95" ry="1.15" fill="#08080a"/>
<ellipse cx="622.3" cy="323.1" rx="0.75" ry="0.4" fill="#77777b"/>
<ellipse cx="631.7" cy="331.5" rx="0.95" ry="1.15" fill="#08080a"/>
<ellipse cx="631.8" cy="330.5" rx="0.75" ry="0.4" fill="#77777b"/>
<ellipse cx="601.9" cy="300.4" rx="0.95" ry="1.15" fill="#08080a"/>
<ellipse cx="602.0" cy="299.4" rx="0.75" ry="0.4" fill="#77777b"/>
<ellipse cx="610.5" cy="306.4" rx="0.95" ry="1.15" fill="#08080a"/>
<ellipse cx="610.6" cy="305.4" rx="0.75" ry="0.4" fill="#77777b"/>
<ellipse cx="619.4" cy="312.9" rx="0.95" ry="1.15" fill="#08080a"/>
<ellipse cx="619.5" cy="311.9" rx="0.75" ry="0.4" fill="#77777b"/>
<ellipse cx="628.7" cy="319.7" rx="0.95" ry="1.15" fill="#08080a"/>
<ellipse cx="628.8" cy="318.7" rx="0.75" ry="0.4" fill="#77777b"/>
<ellipse cx="616.6" cy="302.6" rx="0.95" ry="1.15" fill="#08080a"/>
<ellipse cx="616.7" cy="301.6" rx="0.75" ry="0.4" fill="#77777b"/>
<ellipse cx="625.6" cy="308.8" rx="0.95" ry="1.15" fill="#08080a"/>
<ellipse cx="625.7" cy="307.8" rx="0.75" ry="0.4" fill="#77777b"/>
<ellipse cx="631.6" cy="304.8" rx="0.95" ry="1.15" fill="#08080a"/>
<ellipse cx="631.7" cy="303.8" rx="0.75" ry="0.4" fill="#77777b"/>
<ellipse cx="403.6" cy="318.0" rx="1.0" ry="0.8" fill="#0c0c0e"/>
<ellipse cx="406.0" cy="324.4" rx="1.0" ry="0.8" fill="#0c0c0e"/>
<ellipse cx="409.2" cy="330.8" rx="1.0" ry="0.8" fill="#0c0c0e"/>
<ellipse cx="411.9" cy="337.7" rx="1.0" ry="0.8" fill="#0c0c0e"/>
<ellipse cx="414.8" cy="344.4" rx="1.0" ry="0.8" fill="#0c0c0e"/>
<ellipse cx="417.5" cy="352.4" rx="1.0" ry="0.8" fill="#0c0c0e"/>
<ellipse cx="420.9" cy="361.2" rx="1.0" ry="0.8" fill="#0c0c0e"/>
<ellipse cx="424.4" cy="370.0" rx="1.0" ry="0.8" fill="#0c0c0e"/>
<ellipse cx="428.4" cy="378.8" rx="1.0" ry="0.8" fill="#0c0c0e"/>
<ellipse cx="432.4" cy="388.4" rx="1.0" ry="0.8" fill="#0c0c0e"/>
<ellipse cx="437.2" cy="401.2" rx="1.0" ry="0.8" fill="#0c0c0e"/>
</g>
<polygon points="551.2,406.0 556.8,401.7 604.0,363.9 615.2,372.9 617.1,382.0 574.4,414.0 552.0,414.0" fill="#4a4a4e" />
<polygon points="556.8,401.7 604.0,363.9 615.2,372.9 568.0,407.6" fill="#58585c" />
<polygon points="572.8,410.0 610.4,382.0 612.3,384.4 578.4,414.0 572.8,414.0" fill="#1a1a1e" />
<polygon points="615.2,372.9 617.1,382.0 612.3,384.4 610.4,377.2" fill="#606064" />
<polygon points="411.0,294.5 476.0,267.0 560.0,282.0 574.0,296.0 581.0,329.0 560.5,346.0 490.4,385.4 481.0,369.0 470.0,380.5 448.6,391.0 418.0,320.0" fill="#0e241c" />
<polygon points="411.4,294.0 418.5,319.5 448.6,390.5 453.0,388.0 446.5,359.0 432.0,336.0" fill="#1e6c5a" />
<polyline points="413.00,300.00 419.50,320.50 449.00,389.50" fill="none" stroke="#7ab8a8" stroke-width="0.7" />
<polyline points="416.00,302.00 424.00,322.00 452.00,386.00" fill="none" stroke="#0e3a30" stroke-width="0.8" />
<polygon points="445.8,361.6 488.2,343.4 527.6,326.6 533.4,333.9 489.6,353.3 449.1,369.9" fill="#173e2e" />
<polygon points="456.1,363.8 463.1,360.6 464.1,365.0 457.1,368.4" fill="#0c0e0e" />
<polygon points="466.3,359.1 473.3,355.9 474.3,360.3 467.3,363.7" fill="#0c0e0e" />
<polygon points="476.5,354.7 483.5,351.5 484.5,355.9 477.5,359.3" fill="#0c0e0e" />
<polygon points="442.2,371.1 480.1,362.3 482.3,369.9 449.5,390.4" fill="#3f8f86" />
<polygon points="442.2,371.1 448.8,369.3 456.1,386.4 449.5,390.4" fill="#86bcb0" opacity="0.6"/>
<polygon points="461.9,368.9 474.3,365.3 475.0,367.4 462.6,371.1" fill="#e0e6e6" />
<polygon points="460.4,376.2 467.4,373.3 468.6,377.7 461.6,380.6" fill="#0c0c0e" />
<polygon points="470.9,370.8 477.7,368.2 478.8,372.6 472.1,375.2" fill="#0c0c0e" />
<polygon points="480.9,356.5 490.4,384.4 560.0,345.2 580.0,328.4 568.2,318.2 559.4,313.8 540.0,327.6 492.6,350.9" fill="#17885a" />
<polygon points="490.4,384.4 560.0,345.2 580.0,328.4 580.3,330.2 560.4,347.2 490.7,385.3" fill="#0a3a26" />
<polygon points="489.6,382.5 559.0,340.2 579.0,324.4 580.0,328.4 560.0,345.2 490.4,384.4" fill="#58b890" opacity="0.6"/>
<polygon points="421.9,316.5 431.4,335.5 490.5,311.4 534.6,290.4 568.2,304.3 559.4,313.8 545.0,313.5 444.9,358.3" fill="#228c72" />
<polygon points="533.9,313.8 555.0,308.2 560.1,318.2 556.5,324.3 537.5,328.4" fill="#5a5c48" />
<polygon points="544.8,312.3 555.0,309.1 559.4,318.2 549.9,321.8" fill="#9a9a84" />
<polygon points="534.6,318.2 544.1,314.5 548.5,323.3 538.2,327.2" fill="#7e8068" />
<polygon points="444.9,358.3 545.0,313.5 559.4,313.8 560.1,318.2 546.0,322.0 446.5,364.5" fill="#101c16" />
<polygon points="411.3,294.0 430.0,283.0 476.0,267.5 500.0,272.0 556.0,283.0 571.1,297.4 563.8,301.8 530.8,311.1 490.5,311.4 431.4,335.5" fill="#147e66" />
<polygon points="431.4,335.5 490.5,311.4 530.8,311.1 563.8,301.8 564.4,302.7 531.3,312.7 490.8,312.4 431.7,336.5" fill="#4aa488" opacity="0.55"/>
<polygon points="470.1,280.7 498.1,277.2 509.8,292.4 488.8,313.4 470.1,301.7" fill="#2a8f74" opacity="0.55"/>
<polygon points="448.2,316.5 468.6,297.5 481.8,309.2 461.3,322.3" fill="#17705a" opacity="0.7"/>
<polygon points="474.5,280.0 476.2,280.0 484.7,289.9 482.9,290.5" fill="#b8b49c" />
<polygon points="438.2,339.1 445.5,336.9 447.4,344.2 440.1,346.9" fill="#b8c6cc" />
<polygon points="459.1,337.7 465.7,335.5 467.2,341.3 460.6,343.8" fill="#18181a" />
<polygon points="475.2,329.6 480.0,327.9 481.2,331.8 476.2,333.6" fill="#222224" />
<rect x="455.44" y="345.42" width="2.40" height="2.00" fill="#d8c8a8" opacity="0.8"/>
<rect x="468.58" y="336.66" width="2.40" height="2.00" fill="#d8c8a8" opacity="0.8"/>
<rect x="478.80" y="335.20" width="2.40" height="2.00" fill="#d8c8a8" opacity="0.8"/>
<rect x="434.57" y="336.23" width="2.40" height="2.00" fill="#d8c8a8" opacity="0.8"/>
<rect x="460.11" y="327.18" width="2.40" height="2.00" fill="#d8c8a8" opacity="0.8"/>
<rect x="467.41" y="323.53" width="2.40" height="2.00" fill="#d8c8a8" opacity="0.8"/>
<polygon points="493.0,304.3 495.1,303.5 495.3,304.3 493.2,305.1" fill="#0c4a3a" opacity="0.75"/>
<polygon points="537.3,299.4 539.0,298.8 539.1,299.4 537.4,300.1" fill="#1a1a1a" opacity="0.75"/>
<polygon points="474.2,277.2 476.2,276.5 476.4,277.5 474.4,278.2" fill="#0c4a3a" opacity="0.75"/>
<polygon points="511.0,294.8 512.5,294.3 512.7,295.3 511.2,295.8" fill="#0e5a46" opacity="0.75"/>
<polygon points="534.0,290.8 535.7,290.2 535.8,290.8 534.2,291.4" fill="#3aa88a" opacity="0.75"/>
<polygon points="516.7,300.8 518.4,300.1 518.6,301.0 516.9,301.6" fill="#0a0e0c" opacity="0.75"/>
<polygon points="487.3,303.8 489.4,303.0 489.5,303.5 487.4,304.3" fill="#0a0e0c" opacity="0.75"/>
<polygon points="475.7,285.2 476.9,284.8 477.0,285.3 475.8,285.8" fill="#0c4a3a" opacity="0.75"/>
<polygon points="486.1,276.2 487.8,275.6 488.0,276.6 486.3,277.3" fill="#0a0e0c" opacity="0.75"/>
<polygon points="478.4,289.9 479.2,289.6 479.4,290.4 478.6,290.7" fill="#0c4a3a" opacity="0.75"/>
<polygon points="453.0,312.7 453.7,312.5 453.9,313.3 453.1,313.6" fill="#1a1a1a" opacity="0.75"/>
<polygon points="458.4,304.2 459.8,303.7 459.9,304.3 458.5,304.9" fill="#0e5a46" opacity="0.75"/>
<polygon points="488.8,294.1 490.2,293.6 490.4,294.8 489.1,295.3" fill="#0c4a3a" opacity="0.75"/>
<polygon points="537.2,289.5 539.3,288.7 539.4,289.4 537.4,290.2" fill="#d8d8d0" opacity="0.75"/>
<polygon points="454.4,297.4 455.2,297.2 455.4,298.1 454.6,298.4" fill="#0a0e0c" opacity="0.75"/>
<polygon points="484.7,276.3 485.7,275.9 485.9,276.8 484.9,277.2" fill="#0c4a3a" opacity="0.75"/>
<polygon points="511.8,293.4 513.2,292.9 513.4,294.1 512.0,294.6" fill="#1a1a1a" opacity="0.75"/>
<polygon points="484.6,308.2 485.9,307.7 486.0,308.4 484.8,308.8" fill="#3aa88a" opacity="0.75"/>
<polygon points="515.3,303.9 517.0,303.3 517.2,304.0 515.4,304.7" fill="#1a1a1a" opacity="0.75"/>
<polygon points="512.0,296.3 512.9,296.0 513.1,296.5 512.2,296.8" fill="#0a0e0c" opacity="0.75"/>
<polygon points="466.0,312.6 467.2,312.2 467.4,313.3 466.3,313.7" fill="#1a1a1a" opacity="0.75"/>
<polygon points="473.0,282.1 474.8,281.4 474.9,282.0 473.1,282.7" fill="#3aa88a" opacity="0.75"/>
<polygon points="496.4,309.7 498.1,309.0 498.2,309.6 496.5,310.2" fill="#3aa88a" opacity="0.75"/>
<polygon points="458.2,293.3 459.8,292.7 459.9,293.2 458.3,293.8" fill="#c8c0a0" opacity="0.75"/>
<polygon points="453.4,298.0 454.7,297.5 454.9,298.5 453.7,299.0" fill="#0c4a3a" opacity="0.75"/>
<polygon points="516.2,299.8 518.0,299.1 518.2,299.8 516.3,300.5" fill="#0c4a3a" opacity="0.75"/>
<polygon points="445.5,303.5 447.3,302.8 447.6,303.9 445.7,304.6" fill="#0e5a46" opacity="0.75"/>
<polygon points="480.3,311.5 482.4,310.7 482.7,311.8 480.6,312.6" fill="#d8d8d0" opacity="0.75"/>
<polygon points="519.4,293.9 520.2,293.6 520.3,294.1 519.6,294.4" fill="#0c4a3a" opacity="0.75"/>
<polygon points="509.2,297.4 511.2,296.6 511.3,297.2 509.3,297.9" fill="#0c4a3a" opacity="0.75"/>
<polygon points="439.8,306.7 441.2,306.1 441.4,306.8 439.9,307.3" fill="#0c4a3a" opacity="0.75"/>
<polygon points="498.7,307.4 500.8,306.6 500.9,307.3 498.8,308.1" fill="#0c4a3a" opacity="0.75"/>
<polygon points="482.4,280.3 484.0,279.6 484.2,280.5 482.5,281.1" fill="#c8c0a0" opacity="0.75"/>
<polygon points="519.2,297.5 521.2,296.7 521.4,297.4 519.3,298.2" fill="#0a0e0c" opacity="0.75"/>
<polygon points="461.0,296.8 463.0,296.1 463.2,297.2 461.3,298.0" fill="#3aa88a" opacity="0.75"/>
<polygon points="484.4,305.6 485.7,305.1 485.8,305.7 484.6,306.2" fill="#1a1a1a" opacity="0.75"/>
<polygon points="450.2,299.2 452.4,298.4 452.6,299.4 450.4,300.2" fill="#d8d8d0" opacity="0.75"/>
<polygon points="514.8,300.5 516.1,300.0 516.3,301.1 515.1,301.6" fill="#1a1a1a" opacity="0.75"/>
<polygon points="471.0,307.0 472.8,306.4 473.0,307.0 471.2,307.7" fill="#c8c0a0" opacity="0.75"/>
<polygon points="515.3,297.7 517.0,297.1 517.2,298.1 515.5,298.7" fill="#c8c0a0" opacity="0.75"/>
<polygon points="461.1,299.4 462.1,299.0 462.2,299.5 461.2,299.9" fill="#1a1a1a" opacity="0.75"/>
<polygon points="464.5,316.9 466.1,316.3 466.3,317.5 464.8,318.0" fill="#0c4a3a" opacity="0.75"/>
<polygon points="452.4,298.1 454.1,297.5 454.3,298.6 452.6,299.3" fill="#d8d8d0" opacity="0.75"/>
<polygon points="505.3,309.6 506.8,309.1 507.0,310.1 505.5,310.7" fill="#c8c0a0" opacity="0.75"/>
<polygon points="494.4,309.5 495.5,309.1 495.7,310.1 494.6,310.5" fill="#0c4a3a" opacity="0.75"/>
<polygon points="543.8,292.1 544.7,291.8 544.9,292.6 544.0,292.9" fill="#0c4a3a" opacity="0.75"/>
<polygon points="489.1,287.9 491.2,287.1 491.4,287.7 489.2,288.5" fill="#0c4a3a" opacity="0.75"/>
<polygon points="551.4,299.1 553.7,298.3 553.9,299.4 551.7,300.3" fill="#0c4a3a" opacity="0.75"/>
<polygon points="555.2,300.4 557.3,299.6 557.5,300.1 555.3,301.0" fill="#3aa88a" opacity="0.75"/>
<polygon points="491.4,304.2 493.4,303.5 493.5,304.3 491.6,305.1" fill="#0e5a46" opacity="0.75"/>
<polygon points="506.6,290.0 507.9,289.5 508.1,290.6 506.8,291.1" fill="#3aa88a" opacity="0.75"/>
<polygon points="474.4,280.1 475.9,279.5 476.1,280.2 474.5,280.8" fill="#1a1a1a" opacity="0.75"/>
<polygon points="461.3,302.9 462.8,302.3 463.0,303.2 461.5,303.8" fill="#0c4a3a" opacity="0.75"/>
<polygon points="551.6,303.4 553.8,302.5 553.9,303.1 551.7,303.9" fill="#0c4a3a" opacity="0.75"/>
<polygon points="503.9,295.8 506.1,295.0 506.3,296.2 504.1,297.0" fill="#0a0e0c" opacity="0.75"/>
<polygon points="467.0,300.4 468.3,299.9 468.5,301.1 467.3,301.5" fill="#1a1a1a" opacity="0.75"/>
<polygon points="468.8,312.5 471.0,311.6 471.1,312.2 468.9,313.0" fill="#0e5a46" opacity="0.75"/>
<polygon points="464.6,311.6 465.9,311.1 466.0,311.9 464.8,312.3" fill="#1a1a1a" opacity="0.75"/>
<polygon points="449.2,314.1 450.1,313.8 450.3,314.6 449.4,315.0" fill="#0a0e0c" opacity="0.75"/>
<polygon points="513.6,303.0 515.6,302.2 515.8,303.1 513.8,303.9" fill="#3aa88a" opacity="0.75"/>
<polygon points="465.3,314.7 467.3,314.0 467.5,315.1 465.6,315.8" fill="#c8c0a0" opacity="0.75"/>
<polygon points="460.5,316.9 461.6,316.5 461.7,317.0 460.7,317.4" fill="#3aa88a" opacity="0.75"/>
<polygon points="484.9,297.1 487.0,296.2 487.2,297.1 485.1,297.9" fill="#0e5a46" opacity="0.75"/>
<polygon points="461.3,308.2 463.2,307.5 463.3,308.0 461.4,308.8" fill="#c8c0a0" opacity="0.75"/>
<polygon points="450.5,301.1 452.4,300.4 452.6,301.3 450.7,302.0" fill="#3aa88a" opacity="0.75"/>
<polygon points="537.2,299.8 537.9,299.5 538.2,300.5 537.4,300.8" fill="#0c4a3a" opacity="0.75"/>
<polygon points="550.0,299.7 551.1,299.3 551.2,299.9 550.2,300.3" fill="#0e5a46" opacity="0.75"/>
<polygon points="443.8,326.8 445.2,326.3 445.5,327.3 444.0,327.9" fill="#c8c0a0" opacity="0.75"/>
<polygon points="485.3,296.6 486.5,296.1 486.7,296.7 485.4,297.2" fill="#c8c0a0" opacity="0.75"/>
<polygon points="487.1,283.2 488.1,282.9 488.2,283.7 487.2,284.1" fill="#0c4a3a" opacity="0.75"/>
<polygon points="496.1,320.3 497.7,319.7 497.9,320.4 496.3,321.1" fill="#0a0e0c" opacity="0.75"/>
<polygon points="515.8,318.9 517.9,318.0 518.1,318.6 515.9,319.5" fill="#c8c0a0" opacity="0.75"/>
<polygon points="471.8,341.4 473.4,340.7 473.6,341.3 471.9,342.0" fill="#0a0e0c" opacity="0.75"/>
<polygon points="469.8,342.3 471.3,341.7 471.5,342.5 470.0,343.2" fill="#d8d8d0" opacity="0.75"/>
<polygon points="489.9,334.7 490.9,334.3 491.1,334.9 490.0,335.3" fill="#d8d8d0" opacity="0.75"/>
<polygon points="460.5,330.2 461.4,329.9 461.5,330.5 460.7,330.9" fill="#d8d8d0" opacity="0.75"/>
<polygon points="462.7,327.4 464.2,326.7 464.4,327.5 462.9,328.2" fill="#0c4a3a" opacity="0.75"/>
<polygon points="440.0,339.4 441.9,338.6 442.0,339.2 440.2,340.0" fill="#0e5a46" opacity="0.75"/>
<polygon points="499.2,331.5 500.6,330.9 500.8,331.6 499.3,332.2" fill="#d8d8d0" opacity="0.75"/>
<polygon points="499.3,328.5 500.5,328.0 500.7,329.0 499.5,329.5" fill="#0c4a3a" opacity="0.75"/>
<polygon points="516.3,312.6 518.2,311.9 518.4,312.8 516.6,313.6" fill="#0e5a46" opacity="0.75"/>
<polygon points="477.8,343.5 478.6,343.1 478.8,343.9 478.0,344.2" fill="#d8d8d0" opacity="0.75"/>
<polygon points="538.7,314.8 540.8,314.0 540.9,314.8 538.9,315.6" fill="#1a1a1a" opacity="0.75"/>
<polygon points="459.9,346.8 460.7,346.5 460.8,347.1 460.0,347.4" fill="#1a1a1a" opacity="0.75"/>
<polygon points="447.8,356.4 448.9,356.0 449.1,357.0 448.0,357.4" fill="#0c4a3a" opacity="0.75"/>
<polygon points="491.4,317.2 492.8,316.6 493.0,317.6 491.6,318.2" fill="#1a1a1a" opacity="0.75"/>
<polygon points="508.9,328.5 510.7,327.7 511.0,328.8 509.1,329.5" fill="#0e5a46" opacity="0.75"/>
<polygon points="502.4,328.2 503.5,327.8 503.8,328.7 502.6,329.2" fill="#3aa88a" opacity="0.75"/>
<polygon points="531.2,313.2 532.1,312.9 532.2,313.6 531.4,313.9" fill="#d8d8d0" opacity="0.75"/>
<polygon points="471.6,327.3 473.1,326.6 473.2,327.2 471.8,327.8" fill="#0c4a3a" opacity="0.75"/>
<polygon points="464.4,347.0 466.4,346.2 466.5,346.8 464.6,347.6" fill="#c8c0a0" opacity="0.75"/>
<polygon points="497.3,333.1 498.6,332.5 498.8,333.4 497.6,333.9" fill="#d8d8d0" opacity="0.75"/>
<polygon points="495.5,334.1 497.2,333.4 497.4,334.1 495.7,334.8" fill="#0c4a3a" opacity="0.75"/>
<polygon points="506.6,315.2 507.8,314.7 508.0,315.7 506.8,316.2" fill="#c8c0a0" opacity="0.75"/>
<polygon points="472.0,345.4 473.3,344.9 473.5,345.5 472.2,346.0" fill="#1a1a1a" opacity="0.75"/>
<polygon points="466.0,326.3 467.3,325.7 467.6,326.9 466.3,327.4" fill="#0c4a3a" opacity="0.75"/>
<polygon points="459.6,328.4 460.9,327.8 461.0,328.6 459.8,329.1" fill="#d8d8d0" opacity="0.75"/>
<polygon points="475.7,318.6 477.3,318.0 477.5,318.6 475.9,319.3" fill="#0c4a3a" opacity="0.75"/>
<polygon points="490.0,336.9 491.5,336.2 491.8,337.4 490.2,338.1" fill="#d8d8d0" opacity="0.75"/>
<polygon points="438.7,337.0 440.6,336.2 440.7,336.8 438.8,337.6" fill="#0c4a3a" opacity="0.75"/>
<polygon points="505.6,316.0 507.6,315.1 507.8,315.9 505.8,316.8" fill="#3aa88a" opacity="0.75"/>
<polygon points="469.8,332.9 471.1,332.4 471.3,333.5 470.1,334.0" fill="#c8c0a0" opacity="0.75"/>
<polygon points="479.3,331.1 480.2,330.7 480.5,331.7 479.5,332.1" fill="#d8d8d0" opacity="0.75"/>
<polygon points="509.1,326.4 510.4,325.9 510.6,326.8 509.3,327.3" fill="#0a0e0c" opacity="0.75"/>
<polygon points="541.6,314.2 542.8,313.7 542.9,314.2 541.7,314.7" fill="#0e5a46" opacity="0.75"/>
<polygon points="519.5,319.8 520.4,319.5 520.6,320.3 519.7,320.6" fill="#1a1a1a" opacity="0.75"/>
<polygon points="485.9,323.6 487.9,322.7 488.2,323.9 486.1,324.7" fill="#c8c0a0" opacity="0.75"/>
<polygon points="441.9,351.9 443.2,351.3 443.4,351.9 442.0,352.5" fill="#0e5a46" opacity="0.75"/>
<polygon points="491.3,335.6 492.5,335.1 492.7,336.3 491.6,336.8" fill="#3aa88a" opacity="0.75"/>
<polygon points="459.4,331.2 461.4,330.3 461.6,331.1 459.6,331.9" fill="#c8c0a0" opacity="0.75"/>
<polygon points="447.8,354.0 449.8,353.2 449.9,353.8 448.0,354.6" fill="#0a0e0c" opacity="0.75"/>
<polygon points="490.0,313.9 491.6,313.2 491.7,313.8 490.2,314.5" fill="#3aa88a" opacity="0.75"/>
<polygon points="524.8,315.3 525.9,314.8 526.2,315.8 525.0,316.3" fill="#0c4a3a" opacity="0.75"/>
<polygon points="440.8,346.5 442.3,345.9 442.5,346.7 441.0,347.4" fill="#0c4a3a" opacity="0.75"/>
<polygon points="535.5,315.7 537.5,314.8 537.6,315.5 535.7,316.3" fill="#0c4a3a" opacity="0.75"/>
<polygon points="521.9,355.1 523.9,354.0 524.3,355.1 522.2,356.2" fill="#c8c0a0" opacity="0.75"/>
<polygon points="512.0,353.6 513.7,352.7 513.9,353.4 512.2,354.3" fill="#0e5a46" opacity="0.75"/>
<polygon points="549.3,341.0 550.8,340.2 551.0,341.0 549.5,341.8" fill="#0c4a3a" opacity="0.75"/>
<polygon points="497.8,362.4 499.8,361.3 500.1,362.3 498.1,363.4" fill="#c8c0a0" opacity="0.75"/>
<polygon points="512.4,343.0 513.7,342.3 514.0,343.2 512.6,343.9" fill="#1a1a1a" opacity="0.75"/>
<polygon points="560.0,333.1 560.9,332.6 561.1,333.1 560.2,333.6" fill="#0e5a46" opacity="0.75"/>
<polygon points="500.4,350.0 502.3,349.0 502.5,349.9 500.6,350.9" fill="#0c4a3a" opacity="0.75"/>
<polygon points="497.4,365.9 498.8,365.1 499.1,366.3 497.8,367.0" fill="#0c4a3a" opacity="0.75"/>
<polygon points="532.7,342.3 533.6,341.8 533.8,342.5 532.9,343.0" fill="#1a1a1a" opacity="0.75"/>
<polygon points="498.4,370.0 500.4,368.9 500.6,369.8 498.6,370.9" fill="#c8c0a0" opacity="0.75"/>
<polygon points="536.7,338.9 538.7,337.8 539.1,339.0 537.1,340.1" fill="#3aa88a" opacity="0.75"/>
<polygon points="496.4,354.2 497.6,353.5 497.9,354.2 496.6,354.9" fill="#0c4a3a" opacity="0.75"/>
<polygon points="539.3,334.7 541.1,333.7 541.3,334.4 539.5,335.4" fill="#c8c0a0" opacity="0.75"/>
<polygon points="506.0,359.4 507.9,358.4 508.1,359.0 506.2,360.0" fill="#0c4a3a" opacity="0.75"/>
<polygon points="496.5,369.4 498.4,368.4 498.8,369.5 496.9,370.5" fill="#0c4a3a" opacity="0.75"/>
<polygon points="498.4,350.6 499.2,350.2 499.4,351.0 498.7,351.4" fill="#0c4a3a" opacity="0.75"/>
<polygon points="536.3,337.5 537.7,336.7 537.9,337.4 536.5,338.2" fill="#c8c0a0" opacity="0.75"/>
<polygon points="488.7,370.9 490.4,370.0 490.7,371.1 489.0,372.0" fill="#d8d8d0" opacity="0.75"/>
<polygon points="527.1,350.5 528.7,349.7 529.0,350.7 527.4,351.5" fill="#d8d8d0" opacity="0.75"/>
<polygon points="523.8,359.0 525.8,357.9 526.0,358.8 524.1,359.9" fill="#0c4a3a" opacity="0.75"/>
<polygon points="531.8,351.0 532.5,350.6 532.9,351.8 532.1,352.2" fill="#0a0e0c" opacity="0.75"/>
<polygon points="553.1,344.7 554.7,343.9 554.8,344.4 553.3,345.2" fill="#0c4a3a" opacity="0.75"/>
<polygon points="517.8,357.9 519.3,357.1 519.5,357.7 518.0,358.5" fill="#d8d8d0" opacity="0.75"/>
<polygon points="492.9,371.4 493.8,370.9 494.0,371.8 493.1,372.3" fill="#1a1a1a" opacity="0.75"/>
<polygon points="511.4,345.8 512.2,345.4 512.5,346.5 511.7,346.9" fill="#0c4a3a" opacity="0.75"/>
<polygon points="520.4,347.5 521.9,346.7 522.1,347.2 520.6,348.1" fill="#0c4a3a" opacity="0.75"/>
<polygon points="525.7,345.2 526.9,344.6 527.1,345.2 525.9,345.8" fill="#1a1a1a" opacity="0.75"/>
<polygon points="485.3,362.8 487.0,361.9 487.2,362.8 485.5,363.7" fill="#0c4a3a" opacity="0.75"/>
<polygon points="542.1,338.5 544.0,337.4 544.2,338.0 542.3,339.0" fill="#0c4a3a" opacity="0.75"/>
<polygon points="499.4,375.2 500.3,374.7 500.6,375.7 499.7,376.2" fill="#0a0e0c" opacity="0.75"/>
<polygon points="518.1,364.3 520.1,363.2 520.3,364.1 518.4,365.2" fill="#3aa88a" opacity="0.75"/>
<polygon points="496.0,364.6 497.4,363.8 497.5,364.4 496.2,365.1" fill="#0c4a3a" opacity="0.75"/>
<polygon points="490.6,377.7 491.3,377.3 491.6,378.2 490.9,378.6" fill="#0c4a3a" opacity="0.75"/>
<polygon points="506.9,372.0 507.8,371.5 508.0,372.2 507.1,372.7" fill="#3aa88a" opacity="0.75"/>
<polygon points="534.3,338.2 536.3,337.1 536.6,338.3 534.7,339.4" fill="#0c4a3a" opacity="0.75"/>
<polygon points="566.0,331.3 566.8,330.9 567.1,331.9 566.3,332.3" fill="#c8c0a0" opacity="0.75"/>
<polygon points="513.4,354.5 514.1,354.1 514.3,354.8 513.6,355.2" fill="#0c4a3a" opacity="0.75"/>
<polygon points="494.1,351.9 495.8,351.0 496.0,351.8 494.4,352.7" fill="#0a0e0c" opacity="0.75"/>
<polygon points="505.6,354.8 506.6,354.2 506.8,355.1 505.8,355.7" fill="#1a1a1a" opacity="0.75"/>
<polygon points="513.8,361.3 515.3,360.5 515.6,361.5 514.1,362.4" fill="#0c4a3a" opacity="0.75"/>
<polygon points="446.0,312.2 468.5,290.5 470.5,298.7 451.4,314.9" fill="#1b5a3c" />
<polygon points="446.0,312.2 451.4,314.9 450.9,315.9 445.3,313.5" fill="#0c1a14" />
<polyline points="414.09,295.66 431.97,322.22" fill="none" stroke="#0e4a3a" stroke-width="1.2" stroke-dasharray="0.8 1.0"/>
<polygon points="417.7,283.2 434.5,279.1 459.0,278.1 468.0,288.3 445.3,310.0 435.5,313.0 419.2,287.0" fill="#2737b0" />
<polygon points="468.0,288.3 468.5,290.5 446.0,312.2 444.2,315.3 435.5,315.6 435.5,313.0 445.3,310.0" fill="#1e2b98" />
<polygon points="417.7,283.2 419.2,287.0 435.5,313.0 435.5,315.6 434.3,316.1 418.2,288.3" fill="#18237c" />
<polygon points="425.8,293.8 432.0,292.1 435.0,297.9 429.4,300.4" fill="#dedee4" />
<polygon points="454.5,306.5 463.1,302.8 464.2,304.9 455.5,308.5" fill="#dcdce0" />
<ellipse cx="443.7" cy="289.6" rx="9.6" ry="5.0" fill="#b8b8c0"/>
<ellipse cx="443.7" cy="288.2" rx="9.5" ry="5.0" fill="#0e0e12"/>
<rect x="434.2" y="276.4" width="19" height="12" fill="#0e0e12"/>
<ellipse cx="443.7" cy="276.4" rx="9.5" ry="5.4" fill="#0a0a0e"/>
<ellipse cx="443.7" cy="276.7" rx="6.8" ry="3.6" fill="url(#lens)"/>
<polyline points="434.42,282.94 439.72,286.04 447.72,286.04 453.02,282.94" fill="none" stroke="#3a3a42" stroke-width="0.7" />
<polygon points="456.4,267.6 462.8,262.0 469.6,260.4 476.8,262.0 477.6,266.8 460.0,272.4 459.6,271.6" fill="#e4e0dc" />
<polyline points="421.51,230.36 426.59,234.40" fill="none" stroke="#b4b4b4" stroke-width="1.6" stroke-linecap="round"/>
<polyline points="441.95,234.40 443.58,248.02" fill="none" stroke="#6c6c6e" stroke-width="3.4" />
<polyline points="441.28,234.40 442.81,248.02" fill="none" stroke="#b0b0b2" stroke-width="1.0" />
<polygon points="438.6,222.1 443.2,221.7 443.9,226.0 439.1,226.3" fill="#9a9a9c" />
<polygon points="436.5,226.0 445.3,225.3 450.1,229.6 449.3,235.8 443.4,237.1 437.1,231.5" fill="#1a1a1c" />
<polyline points="416.32,238.23 443.39,231.71" fill="none" stroke="#767678" stroke-width="4.8" stroke-linecap="round"/>
<polyline points="416.32,237.37 442.91,230.84" fill="none" stroke="#c0c0c2" stroke-width="1.5" stroke-linecap="round"/>
<polyline points="417.00,239.48 443.39,233.05" fill="none" stroke="#38383a" stroke-width="1.5" stroke-linecap="round"/>
<polygon points="427.3,226.7 433.6,226.3 434.2,232.3 427.8,232.7" fill="#131315" rx="2"/>
<polygon points="428.8,231.5 435.5,230.7 436.7,242.3 430.1,243.0" fill="#161618" />
<polygon points="419.6,248.0 425.6,240.4 436.7,245.7 450.1,249.6 455.1,252.6 453.0,257.6 446.3,260.5 437.8,268.2 432.6,266.1 420.4,250.9" fill="#161618" />
<polygon points="425.6,240.4 436.7,245.7 434.9,248.8 424.0,243.5" fill="#2a2a2e" />
<polygon points="422.3,248.8 433.8,262.2 432.8,265.9 420.4,250.9" fill="#0e0e10" />
<circle cx="455.10" cy="250.52" r="3.3" fill="#121214" />
<polygon points="437.6,262.7 450.1,258.2 457.3,269.4 443.9,268.2" fill="#a4a4a8" />
<polygon points="449.7,258.2 451.3,258.0 458.0,269.1 456.6,269.7" fill="#2a2a2c" />
<polygon points="547.6,244.3 561.4,253.7 560.8,273.9 551.7,277.9" fill="#202024" opacity="0.93"/>
<polygon points="553.5,257.4 559.9,258.0 559.6,265.8 553.5,267.0" fill="#55555a" opacity="0.45"/>
<polygon points="512.5,230.6 515.1,230.6 552.9,253.7 551.7,279.8 549.3,280.4 513.4,258.0" fill="#1b3a2b" />
<polygon points="512.5,230.6 515.1,230.6 552.9,253.7 551.3,254.9" fill="#2a5c42" />
<polygon points="514.6,236.7 533.6,248.5 533.6,252.4 514.6,240.6" fill="#14241c" />
<polygon points="520.2,249.6 547.0,263.6 548.2,279.3 535.8,286.0 519.0,267.0" fill="#1c1e1e" />
<polygon points="521.8,249.9 545.9,262.3 545.4,266.4 521.3,253.7" fill="#b4b4b2" />
<polygon points="533.6,262.5 544.8,268.6 544.2,277.0 533.6,271.4" fill="#8a8a88" opacity="0.5"/>
<polygon points="495.2,236.1 498.4,235.6 536.1,259.3 534.9,286.6 532.5,287.1 496.0,267.1" fill="#193528" />
<polygon points="495.2,236.1 498.4,235.6 536.1,259.3 534.5,260.5" fill="#285a40" />
<polygon points="518.5,257.2 527.1,262.3 526.5,266.6 517.9,261.6" fill="#cdb57c" />
<polygon points="518.3,259.3 526.9,264.3 526.5,266.6 517.9,261.6" fill="#dcd8cc" />
<polygon points="517.0,271.8 525.3,276.4 524.9,282.2 516.8,277.7" fill="#c8b07a" />
<polygon points="516.9,274.6 525.2,279.3 524.9,282.2 516.8,277.7" fill="#d4d0c4" />
<polygon points="500.0,241.2 512.8,250.0 512.8,254.0 500.0,246.0" fill="#121a16" />
<polygon points="506.7,263.6 515.7,269.2 515.7,277.0 506.7,271.4" fill="#101614" />
<polygon points="479.5,239.6 482.4,239.3 506.1,261.7 505.8,291.1 502.9,291.6 480.5,277.2 478.9,262.0" fill="#15261e" />
<polygon points="479.5,239.6 482.4,239.3 506.1,261.7 504.2,262.6" fill="#28563e" />
<polygon points="482.4,248.4 497.6,262.0 497.8,266.8 482.7,253.2" fill="#2c3c38" />
<polygon points="482.7,259.6 497.8,273.2 497.9,278.0 483.0,264.4" fill="#242f2d" />
<polygon points="483.0,269.2 497.8,282.8 497.9,286.8 483.4,273.5" fill="#1c2624" />
<polygon points="498.4,264.9 504.0,267.8 504.0,270.3 498.4,267.4" fill="#b8923a" />
<polygon points="498.4,271.9 504.0,274.8 504.0,277.4 498.4,274.5" fill="#b8923a" />
<polygon points="498.4,279.3 504.0,282.2 504.0,284.7 498.4,281.8" fill="#b8923a" />
<polygon points="498.4,286.3 504.0,289.2 504.0,291.8 498.4,288.9" fill="#b8923a" />
<polygon points="473.6,240.4 476.8,239.6 480.0,244.4 480.5,262.0 477.6,260.4 475.2,254.0" fill="#d2d2da" />
<path d="M547.7,289.7 C558.0,280.2 578.4,275.8 588.6,282.4 C597.4,289.0 593.0,303.6 578.4,328.4 L576.2,327.7 L560.9,334.2 C568.2,318.2 579.9,305.0 577.7,297.0 C574.3,290.4 563.8,288.7 551.4,296.0 Z" fill="#17171b"/>
<polygon points="557.7,336.0 576.2,327.2 577.2,329.6 558.7,338.6" fill="#1a1a1c" />
<polyline points="578.39,307.96 582.77,315.26 584.23,323.28" fill="none" stroke="#2c4cb0" stroke-width="1.0" />
<polyline points="576.20,311.61 580.15,318.91 581.31,325.47" fill="none" stroke="#2c4cb0" stroke-width="0.9" />
<path d="M526.1,305.8 C525.8,291.9 533.1,286.4 541.9,287.8 C553.6,290.4 566.7,313.8 562.0,329.1" fill="none" stroke="#2a5cc8" stroke-width="3.3"/>
<path d="M540.4,343.0 C539.0,334.2 549.2,332.0 560.9,329.9" fill="none" stroke="#2448a8" stroke-width="1.3"/>
<polygon points="520.0,308.2 535.3,303.3 536.4,309.1 520.0,315.5" fill="#141416" />
<polygon points="531.7,346.0 546.1,340.4 547.2,346.8 532.8,353.2" fill="#1a1a1c" />
<path d="M488.8,234.5 C492.8,232.9 497.6,233.2 500.0,235.6" fill="none" stroke="#3a66c0" stroke-width="0.9" stroke-linecap="round"/>
<path d="M505.1,270.8 C515.2,281.2 512.8,290.8 506.4,301.2" fill="none" stroke="#7fb0ee" stroke-width="1.4" stroke-linecap="round"/>
<path d="M506.4,301.2 C501.6,308.4 496.0,312.4 494.4,314.0" fill="none" stroke="#7fb0ee" stroke-width="1.4" stroke-linecap="round"/>
<path d="M506.4,277.2 C512.8,286.0 508.0,297.2 508.0,314.0" fill="none" stroke="#7fb0ee" stroke-width="1.4" stroke-linecap="round"/>
<path d="M505.6,284.4 C516.0,289.2 512.8,303.6 506.4,314.0" fill="none" stroke="#7fb0ee" stroke-width="1.4" stroke-linecap="round"/>
<path d="M494.4,314.0 C486.4,325.2 487.2,339.6 506.7,353.7" fill="none" stroke="#7fb0ee" stroke-width="1.4" stroke-linecap="round"/>
<path d="M506.4,314.0 C509.6,326.8 514.4,338.0 513.6,353.2" fill="none" stroke="#7fb0ee" stroke-width="1.4" stroke-linecap="round"/>
<path d="M508.0,314.0 C512.8,330.0 520.0,339.6 520.8,357.2" fill="none" stroke="#7fb0ee" stroke-width="1.4" stroke-linecap="round"/>
<path d="M508.8,317.2 C516.0,333.2 525.6,341.2 525.6,354.0" fill="none" stroke="#7fb0ee" stroke-width="1.4" stroke-linecap="round"/>
<rect x="505.60" y="356.12" width="3.20" height="6.00" fill="#c9a235" rx="1"/>
<rect x="512.00" y="353.40" width="3.20" height="6.00" fill="#c9a235" rx="1"/>
<rect x="519.20" y="357.40" width="3.20" height="6.00" fill="#c9a235" rx="1"/>
<rect x="524.00" y="354.20" width="3.20" height="6.00" fill="#c9a235" rx="1"/>
<rect x="492.80" y="364.92" width="3.20" height="6.00" fill="#c9a235" rx="1"/>
<rect x="501.60" y="369.72" width="3.20" height="6.00" fill="#c9a235" rx="1"/>
<rect x="507.20" y="366.20" width="3.20" height="6.00" fill="#c9a235" rx="1"/>
<rect x="486.40" y="368.92" width="3.20" height="6.00" fill="#c9a235" rx="1"/>
<rect x="532.70" y="341.40" width="1.80" height="6.00" fill="#c09a30" />
<rect x="545.50" y="335.00" width="1.80" height="6.00" fill="#c09a30" />
<rect x="525.02" y="321.40" width="1.80" height="6.00" fill="#c09a30" />
<polygon points="492.8,352.1 502.4,348.9 504.0,353.2 494.4,356.6" fill="#e2e6e6" />
<polyline points="492.00,385.20 492.00,394.00" fill="none" stroke="#c4c4c4" stroke-width="2.2" />
<polyline points="514.40,371.60 514.40,378.32" fill="none" stroke="#c4c4c4" stroke-width="2.2" />
<polyline points="552.00,347.92 552.00,354.80" fill="none" stroke="#c4c4c4" stroke-width="2.2" />
<polyline points="577.12,332.88 577.60,340.88" fill="none" stroke="#c4c4c4" stroke-width="2.2" />
<polyline points="552.00,348.40 551.52,354.00" fill="none" stroke="#c4c4c4" stroke-width="2.2" />
<polyline points="443.92,352.40 450.00,387.92" fill="none" stroke="#c8a232" stroke-width="2.0" stroke-linecap="round"/>
<polyline points="443.92,352.40 445.20,360.40" fill="none" stroke="#e0c050" stroke-width="2.4" stroke-linecap="round"/>
<polygon points="448.1,392.7 457.2,390.8 460.4,410.0 450.8,411.0" fill="#101012" />
<circle cx="453.52" cy="400.72" r="3.2" fill="#8c8c90" />
<circle cx="453.52" cy="400.72" r="1.6" fill="#c8c8cc" />
<circle cx="416.40" cy="320.72" r="2.2" fill="#505054" />
</g>
</g>
<rect x="416.30" y="270.20" width="54.10" height="46.50" fill="none" stroke="#f59a23" stroke-width="1.25"/>
<line x1="370.20" y1="277.70" x2="416.30" y2="278.30" stroke="#f59a23" stroke-width="1.25" />
<line x1="369.20" y1="334.60" x2="460.10" y2="375.50" stroke="#f59a23" stroke-width="1.25" />
<line x1="637.30" y1="229.20" x2="491.20" y2="252.40" stroke="#f59a23" stroke-width="1.25" />
<line x1="637.30" y1="256.40" x2="548.00" y2="253.20" stroke="#f59a23" stroke-width="1.25" />
<line x1="637.30" y1="256.40" x2="528.50" y2="268.50" stroke="#f59a23" stroke-width="1.25" />
<text x="367.30" y="275.00" font-size="7.8" text-anchor="end" fill="#262626" >FPA chip is</text>
<text x="367.30" y="284.20" font-size="7.8" text-anchor="end" fill="#262626" >below the lens</text>
<text x="367.30" y="337.10" font-size="7.8" text-anchor="end" fill="#262626" >RFSoC</text>
<text x="640.20" y="226.00" font-size="7.8" text-anchor="start" fill="#262626" >IQ</text>
<text x="640.20" y="235.70" font-size="7.8" text-anchor="start" fill="#262626" >modulator</text>
<text x="640.20" y="255.60" font-size="7.8" text-anchor="start" fill="#262626" >Laser</text>
<text x="640.20" y="265.30" font-size="7.8" text-anchor="start" fill="#262626" >and SOAs</text>
<text x="305.80" y="221.90" font-size="11" text-anchor="start" font-weight="bold" fill="#000" >e</text>
<polygon points="363.9,599.2 363.9,598.8 364.3,598.8 364.3,598.8 364.7,598.8 364.7,598.8 365.1,598.8 365.1,598.7 365.5,598.7 365.5,598.7 366.0,598.7 366.0,598.7 366.4,598.7 366.4,598.7 366.8,598.7 366.8,598.7 367.2,598.7 367.2,598.7 367.6,598.7 367.6,598.7 368.0,598.7 368.0,598.7 368.4,598.7 368.4,598.7 368.8,598.7 368.8,598.7 369.3,598.7 369.3,598.7 369.7,598.7 369.7,598.7 370.1,598.7 370.1,598.6 370.5,598.6 370.5,598.6 370.9,598.6 370.9,598.6 371.3,598.6 371.3,598.5 371.7,598.5 371.7,598.5 372.1,598.5 372.1,598.4 372.6,598.4 372.6,598.4 373.0,598.4 373.0,598.3 373.4,598.3 373.4,598.3 373.8,598.3 373.8,598.2 374.2,598.2 374.2,598.2 374.6,598.2 374.6,598.1 375.0,598.1 375.0,598.1 375.4,598.1 375.4,598.1 375.8,598.1 375.8,598.0 376.3,598.0 376.3,598.0 376.7,598.0 376.7,597.9 377.1,597.9 377.1,597.9 377.5,597.9 377.5,597.8 377.9,597.8 377.9,597.8 378.3,597.8 378.3,597.7 378.7,597.7 378.7,597.7 379.1,597.7 379.1,597.6 379.6,597.6 379.6,597.6 380.0,597.6 380.0,597.4 380.4,597.4 380.4,597.1 380.8,597.1 380.8,596.9 381.2,596.9 381.2,596.6 381.6,596.6 381.6,596.3 382.0,596.3 382.0,596.0 382.4,596.0 382.4,595.7 382.9,595.7 382.9,595.4 383.3,595.4 383.3,595.1 383.7,595.1 383.7,594.8 384.1,594.8 384.1,594.5 384.5,594.5 384.5,594.1 384.9,594.1 384.9,593.1 385.3,593.1 385.3,592.1 385.7,592.1 385.7,591.2 386.1,591.2 386.1,590.2 386.6,590.2 386.6,588.9 387.0,588.9 387.0,586.7 387.4,586.7 387.4,584.6 387.8,584.6 387.8,582.4 388.2,582.4 388.2,580.3 388.6,580.3 388.6,576.1 389.0,576.1 389.0,571.2 389.4,571.2 389.4,564.7 389.9,564.7 389.9,556.4 390.3,556.4 390.3,548.1 390.7,548.1 390.7,539.8 391.1,539.8 391.1,525.2 391.5,525.2 391.5,510.7 391.9,510.7 391.9,499.3 392.3,499.3 392.3,488.0 392.7,488.0 392.7,476.7 393.2,476.7 393.2,465.4 393.6,465.4 393.6,454.2 394.0,454.2 394.0,448.1 394.4,448.1 394.4,443.7 394.8,443.7 394.8,439.2 395.2,439.2 395.2,436.8 395.6,436.8 395.6,439.2 396.0,439.2 396.0,443.7 396.4,443.7 396.4,448.1 396.9,448.1 396.9,454.2 397.3,454.2 397.3,465.4 397.7,465.4 397.7,476.7 398.1,476.7 398.1,488.0 398.5,488.0 398.5,499.3 398.9,499.3 398.9,510.7 399.3,510.7 399.3,525.2 399.7,525.2 399.7,539.8 400.2,539.8 400.2,548.1 400.6,548.1 400.6,556.4 401.0,556.4 401.0,564.7 401.4,564.7 401.4,571.2 401.8,571.2 401.8,576.1 402.2,576.1 402.2,580.3 402.6,580.3 402.6,582.4 403.0,582.4 403.0,584.6 403.5,584.6 403.5,586.7 403.9,586.7 403.9,588.9 404.3,588.9 404.3,590.2 404.7,590.2 404.7,591.2 405.1,591.2 405.1,592.1 405.5,592.1 405.5,593.1 405.9,593.1 405.9,594.1 406.3,594.1 406.3,594.5 406.7,594.5 406.7,594.8 407.2,594.8 407.2,595.1 407.6,595.1 407.6,595.4 408.0,595.4 408.0,595.7 408.4,595.7 408.4,596.0 408.8,596.0 408.8,596.3 409.2,596.3 409.2,596.6 409.6,596.6 409.6,596.9 410.0,596.9 410.0,597.1 410.5,597.1 410.5,597.4 410.9,597.4 410.9,597.6 411.3,597.6 411.3,597.6 411.7,597.6 411.7,597.7 412.1,597.7 412.1,597.7 412.5,597.7 412.5,597.8 412.9,597.8 412.9,597.8 413.3,597.8 413.3,597.9 413.8,597.9 413.8,597.9 414.2,597.9 414.2,598.0 414.6,598.0 414.6,598.0 415.0,598.0 415.0,598.1 415.4,598.1 415.4,598.1 415.8,598.1 415.8,598.1 416.2,598.1 416.2,598.2 416.6,598.2 416.6,598.2 417.0,598.2 417.0,598.3 417.5,598.3 417.5,598.3 417.9,598.3 417.9,598.4 418.3,598.4 418.3,598.4 418.7,598.4 418.7,598.5 419.1,598.5 419.1,598.5 419.5,598.5 419.5,598.6 419.9,598.6 419.9,598.6 420.3,598.6 420.3,598.6 420.8,598.6 420.8,598.7 421.2,598.7 421.2,598.7 421.6,598.7 421.6,598.7 422.0,598.7 422.0,598.7 422.4,598.7 422.4,598.7 422.8,598.7 422.8,598.7 423.2,598.7 423.2,598.7 423.6,598.7 423.6,598.7 424.1,598.7 424.1,598.7 424.5,598.7 424.5,598.7 424.9,598.7 424.9,598.7 425.3,598.7 425.3,598.7 425.7,598.7 425.7,599.2" fill="rgba(65,105,225,0.52)" />
<polygon points="333.0,599.2 333.0,598.4 334.0,598.4 334.0,598.4 335.1,598.4 335.1,598.2 336.1,598.2 336.1,598.2 337.1,598.2 337.1,598.1 338.1,598.1 338.1,598.0 339.2,598.0 339.2,597.9 340.2,597.9 340.2,597.8 341.2,597.8 341.2,597.7 342.3,597.7 342.3,597.5 343.3,597.5 343.3,597.2 344.3,597.2 344.3,597.0 345.4,597.0 345.4,597.0 346.4,597.0 346.4,597.2 347.4,597.2 347.4,596.8 348.4,596.8 348.4,596.5 349.5,596.5 349.5,596.1 350.5,596.1 350.5,595.9 351.5,595.9 351.5,595.9 352.6,595.9 352.6,595.6 353.6,595.6 353.6,595.2 354.6,595.2 354.6,594.9 355.7,594.9 355.7,594.5 356.7,594.5 356.7,593.6 357.7,593.6 357.7,593.3 358.7,593.3 358.7,593.2 359.8,593.2 359.8,592.5 360.8,592.5 360.8,593.1 361.8,593.1 361.8,591.9 362.9,591.9 362.9,592.0 363.9,592.0 363.9,591.2 364.9,591.2 364.9,590.0 366.0,590.0 366.0,590.6 367.0,590.6 367.0,588.8 368.0,588.8 368.0,589.7 369.0,589.7 369.0,588.2 370.1,588.2 370.1,586.0 371.1,586.0 371.1,587.2 372.1,587.2 372.1,587.7 373.2,587.7 373.2,585.5 374.2,585.5 374.2,585.7 375.2,585.7 375.2,584.9 376.3,584.9 376.3,586.8 377.3,586.8 377.3,583.9 378.3,583.9 378.3,586.9 379.3,586.9 379.3,583.8 380.4,583.8 380.4,581.7 381.4,581.7 381.4,585.8 382.4,585.8 382.4,581.7 383.5,581.7 383.5,584.3 384.5,584.3 384.5,581.9 385.5,581.9 385.5,583.9 386.6,583.9 386.6,582.3 387.6,582.3 387.6,580.5 388.6,580.5 388.6,583.8 389.6,583.8 389.6,583.0 390.7,583.0 390.7,580.4 391.7,580.4 391.7,577.0 392.7,577.0 392.7,575.5 393.8,575.5 393.8,580.1 394.8,580.1 394.8,577.8 395.8,577.8 395.8,582.7 396.9,582.7 396.9,579.4 397.9,579.4 397.9,581.6 398.9,581.6 398.9,582.0 399.9,582.0 399.9,579.9 401.0,579.9 401.0,579.7 402.0,579.7 402.0,580.9 403.0,580.9 403.0,579.7 404.1,579.7 404.1,579.9 405.1,579.9 405.1,582.9 406.1,582.9 406.1,583.0 407.2,583.0 407.2,580.0 408.2,580.0 408.2,580.4 409.2,580.4 409.2,582.8 410.2,582.8 410.2,583.3 411.3,583.3 411.3,586.7 412.3,586.7 412.3,585.1 413.3,585.1 413.3,584.6 414.4,584.6 414.4,585.5 415.4,585.5 415.4,585.9 416.4,585.9 416.4,585.3 417.5,585.3 417.5,586.3 418.5,586.3 418.5,588.2 419.5,588.2 419.5,586.5 420.5,586.5 420.5,587.2 421.6,587.2 421.6,588.2 422.6,588.2 422.6,588.1 423.6,588.1 423.6,588.7 424.7,588.7 424.7,589.0 425.7,589.0 425.7,590.0 426.7,590.0 426.7,591.3 427.8,591.3 427.8,590.3 428.8,590.3 428.8,591.0 429.8,591.0 429.8,592.0 430.8,592.0 430.8,592.5 431.9,592.5 431.9,593.2 432.9,593.2 432.9,593.5 433.9,593.5 433.9,594.0 435.0,594.0 435.0,593.9 436.0,593.9 436.0,594.6 437.0,594.6 437.0,594.9 438.1,594.9 438.1,595.0 439.1,595.0 439.1,595.5 440.1,595.5 440.1,595.9 441.1,595.9 441.1,596.0 442.2,596.0 442.2,596.2 443.2,596.2 443.2,596.3 444.2,596.3 444.2,596.8 445.3,596.8 445.3,596.7 446.3,596.7 446.3,597.2 447.3,597.2 447.3,597.2 448.4,597.2 448.4,597.4 449.4,597.4 449.4,597.4 450.4,597.4 450.4,597.5 451.4,597.5 451.4,597.8 452.5,597.8 452.5,597.8 453.5,597.8 453.5,598.1 454.5,598.1 454.5,598.1 455.6,598.1 455.6,598.1 456.6,598.1 456.6,598.2 457.6,598.2 457.6,598.3 458.7,598.3 458.7,598.4 459.7,598.4 459.7,598.4 460.7,598.4 460.7,598.5 461.7,598.5 461.7,598.6 462.8,598.6 462.8,598.6 463.8,598.6 463.8,598.6 464.8,598.6 464.8,598.7 465.9,598.7 465.9,598.7 466.9,598.7 466.9,598.8 467.9,598.8 467.9,598.8 469.0,598.8 469.0,598.8 470.0,598.8 470.0,598.8 471.0,598.8 471.0,598.9 472.0,598.9 472.0,598.9 473.1,598.9 473.1,598.9 474.1,598.9 474.1,599.0 475.1,599.0 475.1,599.0 476.2,599.0 476.2,599.0 477.2,599.0 477.2,599.0 478.2,599.0 478.2,599.2" fill="#c87a28" />
<line x1="338.15" y1="598.29" x2="338.15" y2="599.20" stroke="rgba(110,55,0,0.22)" stroke-width="0.4" />
<line x1="339.18" y1="598.20" x2="339.18" y2="599.20" stroke="rgba(110,55,0,0.22)" stroke-width="0.4" />
<line x1="340.21" y1="598.11" x2="340.21" y2="599.20" stroke="rgba(110,55,0,0.22)" stroke-width="0.4" />
<line x1="341.24" y1="597.98" x2="341.24" y2="599.20" stroke="rgba(110,55,0,0.22)" stroke-width="0.4" />
<line x1="342.27" y1="597.82" x2="342.27" y2="599.20" stroke="rgba(110,55,0,0.22)" stroke-width="0.4" />
<line x1="343.30" y1="597.51" x2="343.30" y2="599.20" stroke="rgba(110,55,0,0.22)" stroke-width="0.4" />
<line x1="344.33" y1="597.30" x2="344.33" y2="599.20" stroke="rgba(110,55,0,0.22)" stroke-width="0.4" />
<line x1="345.36" y1="597.31" x2="345.36" y2="599.20" stroke="rgba(110,55,0,0.22)" stroke-width="0.4" />
<line x1="346.39" y1="597.49" x2="346.39" y2="599.20" stroke="rgba(110,55,0,0.22)" stroke-width="0.4" />
<line x1="347.42" y1="597.07" x2="347.42" y2="599.20" stroke="rgba(110,55,0,0.22)" stroke-width="0.4" />
<line x1="348.45" y1="596.78" x2="348.45" y2="599.20" stroke="rgba(110,55,0,0.22)" stroke-width="0.4" />
<line x1="349.48" y1="596.38" x2="349.48" y2="599.20" stroke="rgba(110,55,0,0.22)" stroke-width="0.4" />
<line x1="350.51" y1="596.25" x2="350.51" y2="599.20" stroke="rgba(110,55,0,0.22)" stroke-width="0.4" />
<line x1="351.54" y1="596.19" x2="351.54" y2="599.20" stroke="rgba(110,55,0,0.22)" stroke-width="0.4" />
<line x1="352.57" y1="595.89" x2="352.57" y2="599.20" stroke="rgba(110,55,0,0.22)" stroke-width="0.4" />
<line x1="353.60" y1="595.53" x2="353.60" y2="599.20" stroke="rgba(110,55,0,0.22)" stroke-width="0.4" />
<line x1="354.63" y1="595.17" x2="354.63" y2="599.20" stroke="rgba(110,55,0,0.22)" stroke-width="0.4" />
<line x1="355.66" y1="594.80" x2="355.66" y2="599.20" stroke="rgba(110,55,0,0.22)" stroke-width="0.4" />
<line x1="356.69" y1="593.93" x2="356.69" y2="599.20" stroke="rgba(110,55,0,0.22)" stroke-width="0.4" />
<line x1="357.72" y1="593.57" x2="357.72" y2="599.20" stroke="rgba(110,55,0,0.22)" stroke-width="0.4" />
<line x1="358.75" y1="593.45" x2="358.75" y2="599.20" stroke="rgba(110,55,0,0.22)" stroke-width="0.4" />
<line x1="359.78" y1="592.82" x2="359.78" y2="599.20" stroke="rgba(110,55,0,0.22)" stroke-width="0.4" />
<line x1="360.81" y1="593.39" x2="360.81" y2="599.20" stroke="rgba(110,55,0,0.22)" stroke-width="0.4" />
<line x1="361.84" y1="592.18" x2="361.84" y2="599.20" stroke="rgba(110,55,0,0.22)" stroke-width="0.4" />
<line x1="362.87" y1="592.26" x2="362.87" y2="599.20" stroke="rgba(110,55,0,0.22)" stroke-width="0.4" />
<line x1="363.90" y1="591.48" x2="363.90" y2="599.20" stroke="rgba(110,55,0,0.22)" stroke-width="0.4" />
<line x1="364.93" y1="590.28" x2="364.93" y2="599.20" stroke="rgba(110,55,0,0.22)" stroke-width="0.4" />
<line x1="365.96" y1="590.90" x2="365.96" y2="599.20" stroke="rgba(110,55,0,0.22)" stroke-width="0.4" />
<line x1="366.99" y1="589.12" x2="366.99" y2="599.20" stroke="rgba(110,55,0,0.22)" stroke-width="0.4" />
<line x1="368.02" y1="589.97" x2="368.02" y2="599.20" stroke="rgba(110,55,0,0.22)" stroke-width="0.4" />
<line x1="369.05" y1="588.47" x2="369.05" y2="599.20" stroke="rgba(110,55,0,0.22)" stroke-width="0.4" />
<line x1="370.08" y1="586.34" x2="370.08" y2="599.20" stroke="rgba(110,55,0,0.22)" stroke-width="0.4" />
<line x1="371.11" y1="587.47" x2="371.11" y2="599.20" stroke="rgba(110,55,0,0.22)" stroke-width="0.4" />
<line x1="372.14" y1="588.03" x2="372.14" y2="599.20" stroke="rgba(110,55,0,0.22)" stroke-width="0.4" />
<line x1="373.17" y1="585.76" x2="373.17" y2="599.20" stroke="rgba(110,55,0,0.22)" stroke-width="0.4" />
<line x1="374.20" y1="586.02" x2="374.20" y2="599.20" stroke="rgba(110,55,0,0.22)" stroke-width="0.4" />
<line x1="375.23" y1="585.17" x2="375.23" y2="599.20" stroke="rgba(110,55,0,0.22)" stroke-width="0.4" />
<line x1="376.26" y1="587.12" x2="376.26" y2="599.20" stroke="rgba(110,55,0,0.22)" stroke-width="0.4" />
<line x1="377.29" y1="584.15" x2="377.29" y2="599.20" stroke="rgba(110,55,0,0.22)" stroke-width="0.4" />
<line x1="378.32" y1="587.24" x2="378.32" y2="599.20" stroke="rgba(110,55,0,0.22)" stroke-width="0.4" />
<line x1="379.35" y1="584.08" x2="379.35" y2="599.20" stroke="rgba(110,55,0,0.22)" stroke-width="0.4" />
<line x1="380.38" y1="582.03" x2="380.38" y2="599.20" stroke="rgba(110,55,0,0.22)" stroke-width="0.4" />
<line x1="381.41" y1="586.06" x2="381.41" y2="599.20" stroke="rgba(110,55,0,0.22)" stroke-width="0.4" />
<line x1="382.44" y1="582.00" x2="382.44" y2="599.20" stroke="rgba(110,55,0,0.22)" stroke-width="0.4" />
<line x1="383.47" y1="584.60" x2="383.47" y2="599.20" stroke="rgba(110,55,0,0.22)" stroke-width="0.4" />
<line x1="384.50" y1="582.17" x2="384.50" y2="599.20" stroke="rgba(110,55,0,0.22)" stroke-width="0.4" />
<line x1="385.53" y1="584.22" x2="385.53" y2="599.20" stroke="rgba(110,55,0,0.22)" stroke-width="0.4" />
<line x1="386.56" y1="582.64" x2="386.56" y2="599.20" stroke="rgba(110,55,0,0.22)" stroke-width="0.4" />
<line x1="387.59" y1="580.81" x2="387.59" y2="599.20" stroke="rgba(110,55,0,0.22)" stroke-width="0.4" />
<line x1="388.62" y1="584.12" x2="388.62" y2="599.20" stroke="rgba(110,55,0,0.22)" stroke-width="0.4" />
<line x1="389.65" y1="583.29" x2="389.65" y2="599.20" stroke="rgba(110,55,0,0.22)" stroke-width="0.4" />
<line x1="390.68" y1="580.70" x2="390.68" y2="599.20" stroke="rgba(110,55,0,0.22)" stroke-width="0.4" />
<line x1="391.71" y1="577.31" x2="391.71" y2="599.20" stroke="rgba(110,55,0,0.22)" stroke-width="0.4" />
<line x1="392.74" y1="575.80" x2="392.74" y2="599.20" stroke="rgba(110,55,0,0.22)" stroke-width="0.4" />
<line x1="393.77" y1="580.41" x2="393.77" y2="599.20" stroke="rgba(110,55,0,0.22)" stroke-width="0.4" />
<line x1="394.80" y1="578.07" x2="394.80" y2="599.20" stroke="rgba(110,55,0,0.22)" stroke-width="0.4" />
<line x1="395.83" y1="583.00" x2="395.83" y2="599.20" stroke="rgba(110,55,0,0.22)" stroke-width="0.4" />
<line x1="396.86" y1="579.66" x2="396.86" y2="599.20" stroke="rgba(110,55,0,0.22)" stroke-width="0.4" />
<line x1="397.89" y1="581.95" x2="397.89" y2="599.20" stroke="rgba(110,55,0,0.22)" stroke-width="0.4" />
<line x1="398.92" y1="582.30" x2="398.92" y2="599.20" stroke="rgba(110,55,0,0.22)" stroke-width="0.4" />
<line x1="399.95" y1="580.23" x2="399.95" y2="599.20" stroke="rgba(110,55,0,0.22)" stroke-width="0.4" />
<line x1="400.98" y1="580.03" x2="400.98" y2="599.20" stroke="rgba(110,55,0,0.22)" stroke-width="0.4" />
<line x1="402.01" y1="581.17" x2="402.01" y2="599.20" stroke="rgba(110,55,0,0.22)" stroke-width="0.4" />
<line x1="403.04" y1="580.04" x2="403.04" y2="599.20" stroke="rgba(110,55,0,0.22)" stroke-width="0.4" />
<line x1="404.07" y1="580.16" x2="404.07" y2="599.20" stroke="rgba(110,55,0,0.22)" stroke-width="0.4" />
<line x1="405.10" y1="583.20" x2="405.10" y2="599.20" stroke="rgba(110,55,0,0.22)" stroke-width="0.4" />
<line x1="406.13" y1="583.30" x2="406.13" y2="599.20" stroke="rgba(110,55,0,0.22)" stroke-width="0.4" />
<line x1="407.16" y1="580.31" x2="407.16" y2="599.20" stroke="rgba(110,55,0,0.22)" stroke-width="0.4" />
<line x1="408.19" y1="580.69" x2="408.19" y2="599.20" stroke="rgba(110,55,0,0.22)" stroke-width="0.4" />
<line x1="409.22" y1="583.08" x2="409.22" y2="599.20" stroke="rgba(110,55,0,0.22)" stroke-width="0.4" />
<line x1="410.25" y1="583.61" x2="410.25" y2="599.20" stroke="rgba(110,55,0,0.22)" stroke-width="0.4" />
<line x1="411.28" y1="587.04" x2="411.28" y2="599.20" stroke="rgba(110,55,0,0.22)" stroke-width="0.4" />
<line x1="412.31" y1="585.39" x2="412.31" y2="599.20" stroke="rgba(110,55,0,0.22)" stroke-width="0.4" />
<line x1="413.34" y1="584.89" x2="413.34" y2="599.20" stroke="rgba(110,55,0,0.22)" stroke-width="0.4" />
<line x1="414.37" y1="585.82" x2="414.37" y2="599.20" stroke="rgba(110,55,0,0.22)" stroke-width="0.4" />
<line x1="415.40" y1="586.20" x2="415.40" y2="599.20" stroke="rgba(110,55,0,0.22)" stroke-width="0.4" />
<line x1="416.43" y1="585.63" x2="416.43" y2="599.20" stroke="rgba(110,55,0,0.22)" stroke-width="0.4" />
<line x1="417.46" y1="586.58" x2="417.46" y2="599.20" stroke="rgba(110,55,0,0.22)" stroke-width="0.4" />
<line x1="418.49" y1="588.46" x2="418.49" y2="599.20" stroke="rgba(110,55,0,0.22)" stroke-width="0.4" />
<line x1="419.52" y1="586.75" x2="419.52" y2="599.20" stroke="rgba(110,55,0,0.22)" stroke-width="0.4" />
<line x1="420.55" y1="587.55" x2="420.55" y2="599.20" stroke="rgba(110,55,0,0.22)" stroke-width="0.4" />
<line x1="421.58" y1="588.53" x2="421.58" y2="599.20" stroke="rgba(110,55,0,0.22)" stroke-width="0.4" />
<line x1="422.61" y1="588.37" x2="422.61" y2="599.20" stroke="rgba(110,55,0,0.22)" stroke-width="0.4" />
<line x1="423.64" y1="588.99" x2="423.64" y2="599.20" stroke="rgba(110,55,0,0.22)" stroke-width="0.4" />
<line x1="424.67" y1="589.31" x2="424.67" y2="599.20" stroke="rgba(110,55,0,0.22)" stroke-width="0.4" />
<line x1="425.70" y1="590.26" x2="425.70" y2="599.20" stroke="rgba(110,55,0,0.22)" stroke-width="0.4" />
<line x1="426.73" y1="591.65" x2="426.73" y2="599.20" stroke="rgba(110,55,0,0.22)" stroke-width="0.4" />
<line x1="427.76" y1="590.62" x2="427.76" y2="599.20" stroke="rgba(110,55,0,0.22)" stroke-width="0.4" />
<line x1="428.79" y1="591.32" x2="428.79" y2="599.20" stroke="rgba(110,55,0,0.22)" stroke-width="0.4" />
<line x1="429.82" y1="592.26" x2="429.82" y2="599.20" stroke="rgba(110,55,0,0.22)" stroke-width="0.4" />
<line x1="430.85" y1="592.77" x2="430.85" y2="599.20" stroke="rgba(110,55,0,0.22)" stroke-width="0.4" />
<line x1="431.88" y1="593.49" x2="431.88" y2="599.20" stroke="rgba(110,55,0,0.22)" stroke-width="0.4" />
<line x1="432.91" y1="593.83" x2="432.91" y2="599.20" stroke="rgba(110,55,0,0.22)" stroke-width="0.4" />
<line x1="433.94" y1="594.34" x2="433.94" y2="599.20" stroke="rgba(110,55,0,0.22)" stroke-width="0.4" />
<line x1="434.97" y1="594.20" x2="434.97" y2="599.20" stroke="rgba(110,55,0,0.22)" stroke-width="0.4" />
<line x1="436.00" y1="594.88" x2="436.00" y2="599.20" stroke="rgba(110,55,0,0.22)" stroke-width="0.4" />
<line x1="437.03" y1="595.18" x2="437.03" y2="599.20" stroke="rgba(110,55,0,0.22)" stroke-width="0.4" />
<line x1="438.06" y1="595.34" x2="438.06" y2="599.20" stroke="rgba(110,55,0,0.22)" stroke-width="0.4" />
<line x1="439.09" y1="595.80" x2="439.09" y2="599.20" stroke="rgba(110,55,0,0.22)" stroke-width="0.4" />
<line x1="440.12" y1="596.17" x2="440.12" y2="599.20" stroke="rgba(110,55,0,0.22)" stroke-width="0.4" />
<line x1="441.15" y1="596.32" x2="441.15" y2="599.20" stroke="rgba(110,55,0,0.22)" stroke-width="0.4" />
<line x1="442.18" y1="596.54" x2="442.18" y2="599.20" stroke="rgba(110,55,0,0.22)" stroke-width="0.4" />
<line x1="443.21" y1="596.58" x2="443.21" y2="599.20" stroke="rgba(110,55,0,0.22)" stroke-width="0.4" />
<line x1="444.24" y1="597.07" x2="444.24" y2="599.20" stroke="rgba(110,55,0,0.22)" stroke-width="0.4" />
<line x1="445.27" y1="597.01" x2="445.27" y2="599.20" stroke="rgba(110,55,0,0.22)" stroke-width="0.4" />
<line x1="446.30" y1="597.51" x2="446.30" y2="599.20" stroke="rgba(110,55,0,0.22)" stroke-width="0.4" />
<line x1="447.33" y1="597.54" x2="447.33" y2="599.20" stroke="rgba(110,55,0,0.22)" stroke-width="0.4" />
<line x1="448.36" y1="597.68" x2="448.36" y2="599.20" stroke="rgba(110,55,0,0.22)" stroke-width="0.4" />
<line x1="449.39" y1="597.67" x2="449.39" y2="599.20" stroke="rgba(110,55,0,0.22)" stroke-width="0.4" />
<line x1="450.42" y1="597.83" x2="450.42" y2="599.20" stroke="rgba(110,55,0,0.22)" stroke-width="0.4" />
<line x1="451.45" y1="598.10" x2="451.45" y2="599.20" stroke="rgba(110,55,0,0.22)" stroke-width="0.4" />
<line x1="452.48" y1="598.15" x2="452.48" y2="599.20" stroke="rgba(110,55,0,0.22)" stroke-width="0.4" />
<rect x="333.00" y="598.03" width="1.28" height="0.39" fill="#f0a878" />
<rect x="333.00" y="596.80" width="1.28" height="1.23" fill="#f0bcbc" />
<rect x="334.03" y="597.88" width="1.28" height="0.52" fill="#f0a878" />
<rect x="334.03" y="597.36" width="1.28" height="0.51" fill="#f0bcbc" />
<rect x="335.06" y="597.76" width="1.28" height="0.41" fill="#f0a878" />
<rect x="335.06" y="596.37" width="1.28" height="1.39" fill="#f0bcbc" />
<rect x="336.09" y="597.64" width="1.28" height="0.53" fill="#f0a878" />
<rect x="336.09" y="596.65" width="1.28" height="0.99" fill="#f0bcbc" />
<rect x="337.12" y="597.55" width="1.28" height="0.55" fill="#f0a878" />
<rect x="337.12" y="596.78" width="1.28" height="0.77" fill="#f0bcbc" />
<rect x="338.15" y="597.39" width="1.28" height="0.60" fill="#f0a878" />
<rect x="338.15" y="596.28" width="1.28" height="1.12" fill="#f0bcbc" />
<rect x="339.18" y="597.12" width="1.28" height="0.78" fill="#f0a878" />
<rect x="339.18" y="596.12" width="1.28" height="1.00" fill="#f0bcbc" />
<rect x="340.21" y="597.18" width="1.28" height="0.63" fill="#f0a878" />
<rect x="340.21" y="596.15" width="1.28" height="1.03" fill="#f0bcbc" />
<rect x="341.24" y="597.09" width="1.28" height="0.58" fill="#f0a878" />
<rect x="341.24" y="595.13" width="1.28" height="1.97" fill="#f0bcbc" />
<rect x="342.27" y="596.89" width="1.28" height="0.63" fill="#f0a878" />
<rect x="342.27" y="595.40" width="1.28" height="1.49" fill="#f0bcbc" />
<rect x="343.30" y="596.77" width="1.28" height="0.43" fill="#f0a878" />
<rect x="343.30" y="595.69" width="1.28" height="1.08" fill="#f0bcbc" />
<rect x="344.33" y="596.77" width="1.28" height="0.23" fill="#f0a878" />
<rect x="344.33" y="595.41" width="1.28" height="1.36" fill="#f0bcbc" />
<rect x="345.36" y="596.07" width="1.28" height="0.94" fill="#f0a878" />
<rect x="345.36" y="595.46" width="1.28" height="0.61" fill="#f0bcbc" />
<rect x="346.39" y="596.10" width="1.28" height="1.09" fill="#f0a878" />
<rect x="346.39" y="595.08" width="1.28" height="1.02" fill="#f0bcbc" />
<rect x="347.42" y="595.91" width="1.28" height="0.86" fill="#f0a878" />
<rect x="347.42" y="594.53" width="1.28" height="1.38" fill="#f0bcbc" />
<rect x="348.45" y="595.83" width="1.28" height="0.65" fill="#f0a878" />
<rect x="348.45" y="593.78" width="1.28" height="2.05" fill="#f0bcbc" />
<rect x="349.48" y="595.51" width="1.28" height="0.57" fill="#f0a878" />
<rect x="349.48" y="594.39" width="1.28" height="1.13" fill="#f0bcbc" />
<rect x="350.51" y="595.17" width="1.28" height="0.78" fill="#f0a878" />
<rect x="350.51" y="594.46" width="1.28" height="0.71" fill="#f0bcbc" />
<rect x="351.54" y="594.77" width="1.28" height="1.12" fill="#f0a878" />
<rect x="351.54" y="593.70" width="1.28" height="1.08" fill="#f0bcbc" />
<rect x="352.57" y="594.65" width="1.28" height="0.94" fill="#f0a878" />
<rect x="352.57" y="593.39" width="1.28" height="1.27" fill="#f0bcbc" />
<rect x="353.60" y="594.85" width="1.28" height="0.38" fill="#f0a878" />
<rect x="353.60" y="592.01" width="1.28" height="2.85" fill="#f0bcbc" />
<rect x="354.63" y="594.29" width="1.28" height="0.58" fill="#f0a878" />
<rect x="354.63" y="592.15" width="1.28" height="2.13" fill="#f0bcbc" />
<rect x="355.66" y="593.71" width="1.28" height="0.79" fill="#f0a878" />
<rect x="355.66" y="591.77" width="1.28" height="1.94" fill="#f0bcbc" />
<rect x="356.69" y="593.18" width="1.28" height="0.46" fill="#f0a878" />
<rect x="356.69" y="591.03" width="1.28" height="2.15" fill="#f0bcbc" />
<rect x="357.72" y="592.20" width="1.28" height="1.02" fill="#f0bcbc" />
<rect x="358.75" y="593.10" width="1.28" height="0.05" fill="#f0a878" />
<rect x="358.75" y="591.68" width="1.28" height="1.43" fill="#f0bcbc" />
<rect x="359.78" y="591.73" width="1.28" height="0.80" fill="#f0a878" />
<rect x="359.78" y="590.64" width="1.28" height="1.08" fill="#f0bcbc" />
<rect x="360.81" y="590.75" width="1.28" height="2.34" fill="#f0a878" />
<rect x="360.81" y="590.28" width="1.28" height="0.47" fill="#f0bcbc" />
<rect x="361.84" y="591.66" width="1.28" height="0.22" fill="#aa9b34" />
<rect x="361.84" y="590.95" width="1.28" height="0.71" fill="#ffcd90" />
<rect x="362.87" y="591.17" width="1.28" height="0.79" fill="#f0a878" />
<rect x="362.87" y="588.21" width="1.28" height="2.96" fill="#f0bcbc" />
<rect x="363.90" y="590.23" width="1.28" height="0.95" fill="#f0a878" />
<rect x="363.90" y="589.83" width="1.28" height="0.40" fill="#f0bcbc" />
<rect x="364.93" y="589.33" width="1.28" height="0.65" fill="#f0a878" />
<rect x="364.93" y="588.91" width="1.28" height="0.42" fill="#f0bcbc" />
<rect x="365.96" y="590.21" width="1.28" height="0.39" fill="#9a8a60" />
<rect x="365.96" y="588.59" width="1.28" height="1.63" fill="#f0bcbc" />
<rect x="366.99" y="588.45" width="1.28" height="0.37" fill="#f0a878" />
<rect x="366.99" y="587.74" width="1.28" height="0.71" fill="#ffcd90" />
<rect x="368.02" y="588.61" width="1.28" height="1.06" fill="#aa9b34" />
<rect x="368.02" y="587.56" width="1.28" height="1.05" fill="#ffcd90" />
<rect x="369.05" y="587.77" width="1.28" height="0.40" fill="#f0a878" />
<rect x="369.05" y="587.14" width="1.28" height="0.63" fill="#f0bcbc" />
<rect x="370.08" y="585.65" width="1.28" height="0.38" fill="#9a8a60" />
<rect x="370.08" y="585.54" width="1.28" height="0.11" fill="#62b06c" />
<rect x="371.11" y="585.92" width="1.28" height="1.25" fill="#aa9b34" />
<rect x="371.11" y="585.67" width="1.28" height="0.25" fill="#ffcd90" />
<rect x="372.14" y="586.89" width="1.28" height="0.84" fill="#aa9b34" />
<rect x="372.14" y="585.50" width="1.28" height="1.39" fill="#62b06c" />
<rect x="373.17" y="584.84" width="1.28" height="0.63" fill="#f0a878" />
<rect x="373.17" y="583.89" width="1.28" height="0.95" fill="#ffcd90" />
<rect x="374.20" y="582.83" width="1.28" height="2.88" fill="#aa9b34" />
<rect x="374.20" y="582.62" width="1.28" height="0.22" fill="#ffcd90" />
<rect x="375.23" y="582.05" width="1.28" height="2.83" fill="#aa9b34" />
<rect x="375.23" y="581.55" width="1.28" height="0.50" fill="#ffcd90" />
<rect x="376.26" y="582.56" width="1.28" height="4.26" fill="#aa9b34" />
<rect x="376.26" y="581.16" width="1.28" height="1.40" fill="#62b06c" />
<rect x="377.29" y="582.45" width="1.28" height="1.41" fill="#aa9b34" />
<rect x="377.29" y="581.17" width="1.28" height="1.28" fill="#62b06c" />
<rect x="378.32" y="580.89" width="1.28" height="6.05" fill="#aa9b34" />
<rect x="378.32" y="580.75" width="1.28" height="0.14" fill="#ffcd90" />
<rect x="379.35" y="579.08" width="1.28" height="4.69" fill="#aa9b34" />
<rect x="379.35" y="577.62" width="1.28" height="1.46" fill="#62b06c" />
<rect x="380.38" y="579.79" width="1.28" height="1.94" fill="#aa9b34" />
<rect x="380.38" y="579.70" width="1.28" height="0.09" fill="#ffcd90" />
<rect x="381.41" y="578.65" width="1.28" height="7.12" fill="#aa9b34" />
<rect x="381.41" y="577.64" width="1.28" height="1.00" fill="#62b06c" />
<rect x="382.44" y="578.58" width="1.28" height="3.13" fill="#aa9b34" />
<rect x="382.44" y="577.03" width="1.28" height="1.55" fill="#ffcd90" />
<rect x="383.47" y="578.75" width="1.28" height="5.56" fill="#aa9b34" />
<rect x="383.47" y="578.34" width="1.28" height="0.41" fill="#62b06c" />
<rect x="384.50" y="577.12" width="1.28" height="4.74" fill="#aa9b34" />
<rect x="384.50" y="575.95" width="1.28" height="1.18" fill="#ffcd90" />
<rect x="385.53" y="576.49" width="1.28" height="7.43" fill="#aa9b34" />
<rect x="385.53" y="573.94" width="1.28" height="2.55" fill="#62b06c" />
<rect x="386.56" y="575.49" width="1.28" height="6.85" fill="#aa9b34" />
<rect x="386.56" y="573.53" width="1.28" height="1.97" fill="#ffcd90" />
<rect x="387.59" y="575.47" width="1.28" height="5.04" fill="#aa9b34" />
<rect x="387.59" y="574.26" width="1.28" height="1.21" fill="#ffcd90" />
<rect x="388.62" y="573.65" width="1.28" height="10.18" fill="#aa9b34" />
<rect x="388.62" y="573.52" width="1.28" height="0.12" fill="#ffcd90" />
<rect x="389.65" y="576.23" width="1.28" height="6.75" fill="#aa9b34" />
<rect x="389.65" y="572.64" width="1.28" height="3.59" fill="#62b06c" />
<rect x="390.68" y="573.91" width="1.28" height="6.49" fill="#aa9b34" />
<rect x="390.68" y="573.16" width="1.28" height="0.75" fill="#ffcd90" />
<rect x="391.71" y="575.73" width="1.28" height="1.28" fill="#aa9b34" />
<rect x="391.71" y="575.00" width="1.28" height="0.73" fill="#62b06c" />
<rect x="392.74" y="575.13" width="1.28" height="0.36" fill="#9a8a60" />
<rect x="392.74" y="570.85" width="1.28" height="4.29" fill="#62b06c" />
<rect x="393.77" y="575.47" width="1.28" height="4.65" fill="#aa9b34" />
<rect x="393.77" y="572.58" width="1.28" height="2.89" fill="#62b06c" />
<rect x="394.80" y="571.72" width="1.28" height="6.05" fill="#aa9b34" />
<rect x="394.80" y="570.66" width="1.28" height="1.06" fill="#62b06c" />
<rect x="395.83" y="574.49" width="1.28" height="8.21" fill="#aa9b34" />
<rect x="395.83" y="572.53" width="1.28" height="1.96" fill="#62b06c" />
<rect x="396.86" y="574.53" width="1.28" height="4.83" fill="#aa9b34" />
<rect x="396.86" y="572.07" width="1.28" height="2.46" fill="#62b06c" />
<rect x="397.89" y="574.48" width="1.28" height="7.16" fill="#aa9b34" />
<rect x="397.89" y="573.83" width="1.28" height="0.65" fill="#62b06c" />
<rect x="398.92" y="575.46" width="1.28" height="6.54" fill="#aa9b34" />
<rect x="398.92" y="573.91" width="1.28" height="1.55" fill="#62b06c" />
<rect x="399.95" y="574.12" width="1.28" height="5.82" fill="#aa9b34" />
<rect x="399.95" y="573.37" width="1.28" height="0.75" fill="#ffcd90" />
<rect x="400.98" y="574.60" width="1.28" height="5.13" fill="#aa9b34" />
<rect x="400.98" y="573.67" width="1.28" height="0.93" fill="#ffcd90" />
<rect x="402.01" y="574.85" width="1.28" height="6.02" fill="#aa9b34" />
<rect x="402.01" y="571.25" width="1.28" height="3.59" fill="#62b06c" />
<rect x="403.04" y="574.78" width="1.28" height="4.97" fill="#aa9b34" />
<rect x="403.04" y="574.54" width="1.28" height="0.24" fill="#62b06c" />
<rect x="404.07" y="575.62" width="1.28" height="4.25" fill="#aa9b34" />
<rect x="404.07" y="573.91" width="1.28" height="1.71" fill="#62b06c" />
<rect x="405.10" y="575.43" width="1.28" height="7.47" fill="#aa9b34" />
<rect x="405.10" y="574.57" width="1.28" height="0.86" fill="#62b06c" />
<rect x="406.13" y="577.37" width="1.28" height="5.63" fill="#aa9b34" />
<rect x="406.13" y="575.04" width="1.28" height="2.33" fill="#62b06c" />
<rect x="407.16" y="575.74" width="1.28" height="4.26" fill="#aa9b34" />
<rect x="407.16" y="574.28" width="1.28" height="1.46" fill="#ffcd90" />
<rect x="408.19" y="577.45" width="1.28" height="2.94" fill="#aa9b34" />
<rect x="408.19" y="576.62" width="1.28" height="0.83" fill="#62b06c" />
<rect x="409.22" y="576.49" width="1.28" height="6.30" fill="#aa9b34" />
<rect x="409.22" y="575.80" width="1.28" height="0.69" fill="#62b06c" />
<rect x="410.25" y="578.77" width="1.28" height="4.54" fill="#aa9b34" />
<rect x="410.25" y="577.89" width="1.28" height="0.89" fill="#62b06c" />
<rect x="411.28" y="579.75" width="1.28" height="6.98" fill="#aa9b34" />
<rect x="411.28" y="579.31" width="1.28" height="0.45" fill="#ffcd90" />
<rect x="412.31" y="580.85" width="1.28" height="4.23" fill="#aa9b34" />
<rect x="412.31" y="579.27" width="1.28" height="1.58" fill="#ffcd90" />
<rect x="413.34" y="581.61" width="1.28" height="2.98" fill="#aa9b34" />
<rect x="413.34" y="579.94" width="1.28" height="1.67" fill="#62b06c" />
<rect x="414.37" y="582.01" width="1.28" height="3.51" fill="#aa9b34" />
<rect x="414.37" y="580.91" width="1.28" height="1.10" fill="#62b06c" />
<rect x="415.40" y="582.34" width="1.28" height="3.56" fill="#aa9b34" />
<rect x="415.40" y="579.93" width="1.28" height="2.41" fill="#62b06c" />
<rect x="416.43" y="583.38" width="1.28" height="1.95" fill="#aa9b34" />
<rect x="416.43" y="582.39" width="1.28" height="0.99" fill="#ffcd90" />
<rect x="417.46" y="582.94" width="1.28" height="3.35" fill="#aa9b34" />
<rect x="417.46" y="582.47" width="1.28" height="0.47" fill="#ffcd90" />
<rect x="418.49" y="584.93" width="1.28" height="3.23" fill="#aa9b34" />
<rect x="418.49" y="584.79" width="1.28" height="0.14" fill="#62b06c" />
<rect x="419.52" y="585.83" width="1.28" height="0.62" fill="#aa9b34" />
<rect x="419.52" y="583.95" width="1.28" height="1.88" fill="#ffcd90" />
<rect x="420.55" y="585.54" width="1.28" height="1.71" fill="#aa9b34" />
<rect x="420.55" y="584.51" width="1.28" height="1.03" fill="#ffcd90" />
<rect x="421.58" y="586.22" width="1.28" height="2.01" fill="#aa9b34" />
<rect x="421.58" y="585.50" width="1.28" height="0.71" fill="#62b06c" />
<rect x="422.61" y="587.82" width="1.28" height="0.25" fill="#aa9b34" />
<rect x="422.61" y="585.78" width="1.28" height="2.04" fill="#ffcd90" />
<rect x="423.64" y="587.08" width="1.28" height="1.60" fill="#f0a878" />
<rect x="423.64" y="586.90" width="1.28" height="0.18" fill="#ffcd90" />
<rect x="424.67" y="587.94" width="1.28" height="1.07" fill="#f0a878" />
<rect x="424.67" y="587.60" width="1.28" height="0.34" fill="#f0bcbc" />
<rect x="425.70" y="589.13" width="1.28" height="0.83" fill="#aa9b34" />
<rect x="425.70" y="587.89" width="1.28" height="1.24" fill="#ffcd90" />
<rect x="426.73" y="590.11" width="1.28" height="1.24" fill="#aa9b34" />
<rect x="426.73" y="588.81" width="1.28" height="1.30" fill="#ffcd90" />
<rect x="427.76" y="589.52" width="1.28" height="0.78" fill="#ffcd90" />
<rect x="428.79" y="590.50" width="1.28" height="0.52" fill="#aa9b34" />
<rect x="428.79" y="590.05" width="1.28" height="0.45" fill="#ffcd90" />
<rect x="429.82" y="590.40" width="1.28" height="1.56" fill="#f0a878" />
<rect x="429.82" y="590.04" width="1.28" height="0.36" fill="#f0bcbc" />
<rect x="430.85" y="591.69" width="1.28" height="0.78" fill="#f0a878" />
<rect x="430.85" y="591.51" width="1.28" height="0.18" fill="#ffcd90" />
<rect x="431.88" y="592.04" width="1.28" height="1.15" fill="#f0a878" />
<rect x="431.88" y="591.49" width="1.28" height="0.56" fill="#f0bcbc" />
<rect x="432.91" y="592.44" width="1.28" height="1.09" fill="#f0a878" />
<rect x="432.91" y="592.08" width="1.28" height="0.36" fill="#ffcd90" />
<rect x="433.94" y="592.60" width="1.28" height="1.45" fill="#f0a878" />
<rect x="433.94" y="592.40" width="1.28" height="0.20" fill="#f0bcbc" />
<rect x="434.97" y="593.24" width="1.28" height="0.67" fill="#f0a878" />
<rect x="434.97" y="592.33" width="1.28" height="0.91" fill="#f0bcbc" />
<rect x="436.00" y="593.73" width="1.28" height="0.85" fill="#f0a878" />
<rect x="436.00" y="592.30" width="1.28" height="1.43" fill="#f0bcbc" />
<rect x="437.03" y="594.30" width="1.28" height="0.58" fill="#f0a878" />
<rect x="437.03" y="592.70" width="1.28" height="1.60" fill="#f0bcbc" />
<rect x="438.06" y="594.27" width="1.28" height="0.77" fill="#f0a878" />
<rect x="438.06" y="592.36" width="1.28" height="1.91" fill="#f0bcbc" />
<rect x="439.09" y="594.67" width="1.28" height="0.83" fill="#f0a878" />
<rect x="439.09" y="593.32" width="1.28" height="1.35" fill="#f0bcbc" />
<rect x="440.12" y="595.06" width="1.28" height="0.81" fill="#f0a878" />
<rect x="440.12" y="595.01" width="1.28" height="0.06" fill="#ffcd90" />
<rect x="441.15" y="595.15" width="1.28" height="0.88" fill="#f0a878" />
<rect x="441.15" y="593.83" width="1.28" height="1.32" fill="#f0bcbc" />
<rect x="442.18" y="595.37" width="1.28" height="0.87" fill="#f0a878" />
<rect x="442.18" y="594.66" width="1.28" height="0.71" fill="#f0bcbc" />
<rect x="443.21" y="595.20" width="1.28" height="1.08" fill="#f0a878" />
<rect x="443.21" y="594.28" width="1.28" height="0.92" fill="#f0bcbc" />
<rect x="444.24" y="595.93" width="1.28" height="0.83" fill="#f0a878" />
<rect x="444.24" y="595.02" width="1.28" height="0.91" fill="#f0bcbc" />
<rect x="445.27" y="595.91" width="1.28" height="0.81" fill="#f0a878" />
<rect x="445.27" y="595.19" width="1.28" height="0.72" fill="#f0bcbc" />
<rect x="446.30" y="596.17" width="1.28" height="1.05" fill="#f0a878" />
<rect x="446.30" y="595.62" width="1.28" height="0.55" fill="#f0bcbc" />
<rect x="447.33" y="596.29" width="1.28" height="0.95" fill="#f0a878" />
<rect x="447.33" y="595.05" width="1.28" height="1.24" fill="#f0bcbc" />
<rect x="448.36" y="596.62" width="1.28" height="0.75" fill="#f0a878" />
<rect x="448.36" y="595.56" width="1.28" height="1.06" fill="#f0bcbc" />
<rect x="449.39" y="596.70" width="1.28" height="0.67" fill="#f0a878" />
<rect x="449.39" y="596.30" width="1.28" height="0.40" fill="#f0bcbc" />
<rect x="450.42" y="596.88" width="1.28" height="0.65" fill="#f0a878" />
<rect x="450.42" y="594.84" width="1.28" height="2.04" fill="#f0bcbc" />
<rect x="451.45" y="597.07" width="1.28" height="0.73" fill="#f0a878" />
<rect x="451.45" y="596.23" width="1.28" height="0.83" fill="#f0bcbc" />
<rect x="452.48" y="597.26" width="1.28" height="0.59" fill="#f0a878" />
<rect x="452.48" y="596.73" width="1.28" height="0.53" fill="#f0bcbc" />
<rect x="453.51" y="597.34" width="1.28" height="0.75" fill="#f0a878" />
<rect x="453.51" y="596.58" width="1.28" height="0.76" fill="#f0bcbc" />
<rect x="454.54" y="597.26" width="1.28" height="0.83" fill="#f0a878" />
<rect x="454.54" y="596.36" width="1.28" height="0.90" fill="#f0bcbc" />
<rect x="455.57" y="597.61" width="1.28" height="0.48" fill="#f0a878" />
<rect x="455.57" y="596.63" width="1.28" height="0.98" fill="#f0bcbc" />
<rect x="456.60" y="597.69" width="1.28" height="0.55" fill="#f0a878" />
<rect x="456.60" y="596.65" width="1.28" height="1.04" fill="#f0bcbc" />
<rect x="457.63" y="597.75" width="1.28" height="0.52" fill="#f0a878" />
<rect x="457.63" y="596.92" width="1.28" height="0.84" fill="#f0bcbc" />
<rect x="458.66" y="597.92" width="1.28" height="0.51" fill="#f0a878" />
<rect x="458.66" y="596.98" width="1.28" height="0.94" fill="#f0bcbc" />
<rect x="459.69" y="598.01" width="1.28" height="0.44" fill="#f0a878" />
<rect x="459.69" y="597.10" width="1.28" height="0.91" fill="#f0bcbc" />
<rect x="460.72" y="598.08" width="1.28" height="0.44" fill="#f0a878" />
<rect x="460.72" y="597.10" width="1.28" height="0.98" fill="#f0bcbc" />
<rect x="461.75" y="598.04" width="1.28" height="0.51" fill="#f0a878" />
<rect x="461.75" y="597.28" width="1.28" height="0.76" fill="#f0bcbc" />
<rect x="462.78" y="598.13" width="1.28" height="0.43" fill="#f0a878" />
<rect x="462.78" y="597.85" width="1.28" height="0.28" fill="#f0bcbc" />
<rect x="463.81" y="598.32" width="1.28" height="0.32" fill="#f0a878" />
<rect x="463.81" y="597.63" width="1.28" height="0.68" fill="#f0bcbc" />
<rect x="464.84" y="598.27" width="1.28" height="0.42" fill="#f0a878" />
<rect x="464.84" y="597.65" width="1.28" height="0.62" fill="#f0bcbc" />
<rect x="465.87" y="598.40" width="1.28" height="0.28" fill="#f0a878" />
<rect x="465.87" y="597.73" width="1.28" height="0.67" fill="#f0bcbc" />
<rect x="466.90" y="598.40" width="1.28" height="0.35" fill="#f0a878" />
<rect x="466.90" y="597.81" width="1.28" height="0.59" fill="#f0bcbc" />
<rect x="467.93" y="598.50" width="1.28" height="0.30" fill="#f0a878" />
<rect x="467.93" y="598.06" width="1.28" height="0.44" fill="#f0bcbc" />
<rect x="468.96" y="598.51" width="1.28" height="0.28" fill="#f0a878" />
<rect x="468.96" y="597.89" width="1.28" height="0.62" fill="#f0bcbc" />
<rect x="469.99" y="598.60" width="1.28" height="0.24" fill="#f0a878" />
<rect x="469.99" y="598.06" width="1.28" height="0.54" fill="#f0bcbc" />
<rect x="471.02" y="598.65" width="1.28" height="0.22" fill="#f0a878" />
<rect x="471.02" y="598.17" width="1.28" height="0.48" fill="#f0bcbc" />
<rect x="472.05" y="598.63" width="1.28" height="0.25" fill="#f0a878" />
<rect x="472.05" y="598.11" width="1.28" height="0.52" fill="#f0bcbc" />
<rect x="473.08" y="598.70" width="1.28" height="0.22" fill="#f0a878" />
<rect x="473.08" y="598.06" width="1.28" height="0.65" fill="#f0bcbc" />
<rect x="474.11" y="598.74" width="1.28" height="0.22" fill="#f0a878" />
<rect x="474.11" y="598.21" width="1.28" height="0.53" fill="#f0bcbc" />
<rect x="475.14" y="598.78" width="1.28" height="0.17" fill="#f0a878" />
<rect x="475.14" y="598.29" width="1.28" height="0.49" fill="#f0bcbc" />
<rect x="476.17" y="598.82" width="1.28" height="0.18" fill="#f0a878" />
<rect x="476.17" y="598.42" width="1.28" height="0.41" fill="#f0bcbc" />
<rect x="477.20" y="598.82" width="1.28" height="0.19" fill="#f0a878" />
<rect x="477.20" y="598.46" width="1.28" height="0.36" fill="#f0bcbc" />
<polygon points="389.4,599.2 389.4,573.4 389.9,573.4 389.9,573.2 390.3,573.2 390.3,573.1 390.7,573.1 390.7,572.9 391.1,572.9 391.1,572.8 391.5,572.8 391.5,572.7 391.9,572.7 391.9,572.5 392.3,572.5 392.3,572.4 392.7,572.4 392.7,572.3 393.2,572.3 393.2,572.2 393.6,572.2 393.6,572.2 394.0,572.2 394.0,572.1 394.4,572.1 394.4,572.0 394.8,572.0 394.8,572.0 395.2,572.0 395.2,572.0 395.6,572.0 395.6,571.9 396.0,571.9 396.0,571.9 396.4,571.9 396.4,571.9 396.9,571.9 396.9,571.9 397.3,571.9 397.3,572.0 397.7,572.0 397.7,572.0 398.1,572.0 398.1,572.1 398.5,572.1 398.5,572.1 398.9,572.1 398.9,572.2 399.3,572.2 399.3,572.3 399.7,572.3 399.7,572.4 400.2,572.4 400.2,572.5 400.6,572.5 400.6,572.6 401.0,572.6 401.0,572.7 401.4,572.7 401.0,599.2" fill="rgba(70,50,90,0.15)" />
<line x1="333.80" y1="429.20" x2="333.80" y2="599.90" stroke="#5a5a5a" stroke-width="0.85" />
<line x1="333.40" y1="599.50" x2="477.50" y2="599.50" stroke="#5a5a5a" stroke-width="0.85" />
<text x="329.40" y="602.00" font-size="7.8" text-anchor="end" fill="#262626" >0</text>
<text x="329.40" y="553.52" font-size="7.8" text-anchor="end" fill="#262626" >0.4</text>
<text x="329.40" y="505.04" font-size="7.8" text-anchor="end" fill="#262626" >0.8</text>
<text x="329.40" y="456.56" font-size="7.8" text-anchor="end" fill="#262626" >1.2</text>
<text x="331.80" y="610.10" font-size="7.8" text-anchor="middle" fill="#262626" >–6</text>
<text x="362.70" y="610.10" font-size="7.8" text-anchor="middle" fill="#262626" >–3</text>
<text x="394.80" y="610.10" font-size="7.8" text-anchor="middle" fill="#262626" >0</text>
<text x="425.70" y="610.10" font-size="7.8" text-anchor="middle" fill="#262626" >3</text>
<text x="456.60" y="610.10" font-size="7.8" text-anchor="middle" fill="#262626" >6</text>
<text transform="translate(312.70,514.00) rotate(-90)" font-size="7.8" text-anchor="middle" fill="#262626">Density</text>
<text x="405.20" y="623.30" font-size="7.8" text-anchor="middle" fill="#262626" >Distance error (mm)</text>
<rect x="399.20" y="435.45" width="13.80" height="4.70" fill="#9db1ef" />
<text x="416.70" y="440.60" font-size="7.8" text-anchor="start" fill="#262626" >Retro (<tspan font-style="italic">σ</tspan> = 0.6 mm)</text>
<rect x="399.20" y="445.35" width="13.80" height="4.70" fill="#62b06c" />
<text x="416.70" y="450.50" font-size="7.8" text-anchor="start" fill="#262626" >50% (<tspan font-style="italic">σ</tspan> = 2.4 mm)</text>
<rect x="399.20" y="455.25" width="13.80" height="4.70" fill="#ffcd90" />
<text x="416.70" y="460.40" font-size="7.8" text-anchor="start" fill="#262626" >10% (<tspan font-style="italic">σ</tspan> = 2.7 mm)</text>
<rect x="399.20" y="465.15" width="13.80" height="4.70" fill="#f0bcbc" />
<text x="416.70" y="470.30" font-size="7.8" text-anchor="start" fill="#262626" >5% (<tspan font-style="italic">σ</tspan> = 3.9 mm)</text>
<text x="305.80" y="431.90" font-size="11" text-anchor="start" font-weight="bold" fill="#000" >f</text>
<polygon points="551.2,599.8 551.2,599.5 551.6,599.5 551.6,599.5 552.0,599.5 552.0,599.4 552.4,599.4 552.4,599.4 552.8,599.4 552.8,599.4 553.2,599.4 553.2,599.4 553.6,599.4 553.6,599.4 554.1,599.4 554.1,599.4 554.5,599.4 554.5,599.4 554.9,599.4 554.9,599.4 555.3,599.4 555.3,599.4 555.7,599.4 555.7,599.4 556.1,599.4 556.1,599.4 556.5,599.4 556.5,599.4 556.9,599.4 556.9,599.4 557.3,599.4 557.3,599.4 557.7,599.4 557.7,599.4 558.1,599.4 558.1,599.4 558.5,599.4 558.5,599.4 559.0,599.4 559.0,599.4 559.4,599.4 559.4,599.4 559.8,599.4 559.8,599.4 560.2,599.4 560.2,599.4 560.6,599.4 560.6,599.3 561.0,599.3 561.0,599.3 561.4,599.3 561.4,599.3 561.8,599.3 561.8,599.3 562.2,599.3 562.2,599.3 562.6,599.3 562.6,599.3 563.0,599.3 563.0,599.3 563.4,599.3 563.4,599.3 563.8,599.3 563.8,599.2 564.3,599.2 564.3,599.2 564.7,599.2 564.7,599.1 565.1,599.1 565.1,599.1 565.5,599.1 565.5,599.0 565.9,599.0 565.9,598.9 566.3,598.9 566.3,598.9 566.7,598.9 566.7,598.8 567.1,598.8 567.1,598.7 567.5,598.7 567.5,598.7 567.9,598.7 567.9,598.6 568.3,598.6 568.3,598.6 568.7,598.6 568.7,598.5 569.2,598.5 569.2,598.4 569.6,598.4 569.6,598.4 570.0,598.4 570.0,598.3 570.4,598.3 570.4,598.3 570.8,598.3 570.8,598.2 571.2,598.2 571.2,597.9 571.6,597.9 571.6,597.5 572.0,597.5 572.0,597.1 572.4,597.1 572.4,596.7 572.8,596.7 572.8,596.3 573.2,596.3 573.2,595.9 573.6,595.9 573.6,595.5 574.0,595.5 574.0,595.2 574.5,595.2 574.5,594.4 574.9,594.4 574.9,593.1 575.3,593.1 575.3,591.7 575.7,591.7 575.7,590.4 576.1,590.4 576.1,588.0 576.5,588.0 576.5,585.0 576.9,585.0 576.9,582.1 577.3,582.1 577.3,577.8 577.7,577.8 577.7,571.2 578.1,571.2 578.1,561.3 578.5,561.3 578.5,550.1 578.9,550.1 578.9,537.7 579.4,537.7 579.4,518.1 579.8,518.1 579.8,501.3 580.2,501.3 580.2,486.0 580.6,486.0 580.6,470.8 581.0,470.8 581.0,455.7 581.4,455.7 581.4,447.6 581.8,447.6 581.8,441.7 582.2,441.7 582.2,437.7 582.6,437.7 582.6,441.7 583.0,441.7 583.0,447.6 583.4,447.6 583.4,455.7 583.8,455.7 583.8,470.8 584.2,470.8 584.2,486.0 584.7,486.0 584.7,501.3 585.1,501.3 585.1,518.1 585.5,518.1 585.5,537.7 585.9,537.7 585.9,550.1 586.3,550.1 586.3,561.3 586.7,561.3 586.7,571.2 587.1,571.2 587.1,577.8 587.5,577.8 587.5,582.1 587.9,582.1 587.9,585.0 588.3,585.0 588.3,588.0 588.7,588.0 588.7,590.4 589.1,590.4 589.1,591.7 589.6,591.7 589.6,593.1 590.0,593.1 590.0,594.4 590.4,594.4 590.4,595.2 590.8,595.2 590.8,595.5 591.2,595.5 591.2,595.9 591.6,595.9 591.6,596.3 592.0,596.3 592.0,596.7 592.4,596.7 592.4,597.1 592.8,597.1 592.8,597.5 593.2,597.5 593.2,597.9 593.6,597.9 593.6,598.2 594.0,598.2 594.0,598.3 594.4,598.3 594.4,598.3 594.9,598.3 594.9,598.4 595.3,598.4 595.3,598.4 595.7,598.4 595.7,598.5 596.1,598.5 596.1,598.6 596.5,598.6 596.5,598.6 596.9,598.6 596.9,598.7 597.3,598.7 597.3,598.7 597.7,598.7 597.7,598.8 598.1,598.8 598.1,598.9 598.5,598.9 598.5,598.9 598.9,598.9 598.9,599.0 599.3,599.0 599.3,599.1 599.8,599.1 599.8,599.1 600.2,599.1 600.2,599.2 600.6,599.2 600.6,599.2 601.0,599.2 601.0,599.3 601.4,599.3 601.4,599.3 601.8,599.3 601.8,599.3 602.2,599.3 602.2,599.3 602.6,599.3 602.6,599.3 603.0,599.3 603.0,599.3 603.4,599.3 603.4,599.3 603.8,599.3 603.8,599.3 604.2,599.3 604.2,599.4 604.6,599.4 604.6,599.4 605.1,599.4 605.1,599.4 605.5,599.4 605.5,599.4 605.9,599.4 605.9,599.4 606.3,599.4 606.3,599.4 606.7,599.4 606.7,599.4 607.1,599.4 607.1,599.4 607.5,599.4 607.5,599.4 607.9,599.4 607.9,599.4 608.3,599.4 608.3,599.4 608.7,599.4 608.7,599.4 609.1,599.4 609.1,599.4 609.5,599.4 609.5,599.4 610.0,599.4 610.0,599.4 610.4,599.4 610.4,599.4 610.8,599.4 610.8,599.4 611.2,599.4 611.2,599.4 611.6,599.4 611.6,599.4 612.0,599.4 612.0,599.4 612.4,599.4 612.4,599.8" fill="rgba(65,105,225,0.52)" />
<polygon points="520.6,599.8 520.6,599.5 521.6,599.5 521.6,599.4 522.6,599.4 522.6,599.4 523.7,599.4 523.7,599.4 524.7,599.4 524.7,599.3 525.7,599.3 525.7,599.3 526.7,599.3 526.7,599.3 527.7,599.3 527.7,599.2 528.8,599.2 528.8,599.1 529.8,599.1 529.8,599.1 530.8,599.1 530.8,599.0 531.8,599.0 531.8,598.8 532.8,598.8 532.8,598.8 533.9,598.8 533.9,598.7 534.9,598.7 534.9,598.7 535.9,598.7 535.9,598.6 536.9,598.6 536.9,598.5 537.9,598.5 537.9,598.4 539.0,598.4 539.0,598.5 540.0,598.5 540.0,598.1 541.0,598.1 541.0,598.1 542.0,598.1 542.0,598.1 543.0,598.1 543.0,597.9 544.1,597.9 544.1,597.3 545.1,597.3 545.1,597.6 546.1,597.6 546.1,597.2 547.1,597.2 547.1,597.3 548.1,597.3 548.1,597.1 549.2,597.1 549.2,596.9 550.2,596.9 550.2,596.3 551.2,596.3 551.2,596.3 552.2,596.3 552.2,596.0 553.2,596.0 553.2,595.5 554.3,595.5 554.3,595.2 555.3,595.2 555.3,594.9 556.3,594.9 556.3,594.8 557.3,594.8 557.3,594.1 558.3,594.1 558.3,593.5 559.4,593.5 559.4,593.2 560.4,593.2 560.4,592.8 561.4,592.8 561.4,591.4 562.4,591.4 562.4,591.2 563.4,591.2 563.4,591.4 564.5,591.4 564.5,590.4 565.5,590.4 565.5,589.0 566.5,589.0 566.5,588.3 567.5,588.3 567.5,587.8 568.5,587.8 568.5,587.4 569.6,587.4 569.6,585.3 570.6,585.3 570.6,585.8 571.6,585.8 571.6,586.0 572.6,586.0 572.6,586.3 573.6,586.3 573.6,586.7 574.7,586.7 574.7,583.9 575.7,583.9 575.7,587.9 576.7,587.9 576.7,583.1 577.7,583.1 577.7,585.8 578.7,585.8 578.7,584.0 579.8,584.0 579.8,584.3 580.8,584.3 580.8,584.2 581.8,584.2 581.8,585.7 582.8,585.7 582.8,582.7 583.8,582.7 583.8,583.2 584.9,583.2 584.9,585.9 585.9,585.9 585.9,585.6 586.9,585.6 586.9,585.5 587.9,585.5 587.9,585.0 588.9,585.0 588.9,584.0 590.0,584.0 590.0,582.3 591.0,582.3 591.0,583.0 592.0,583.0 592.0,588.9 593.0,588.9 593.0,586.3 594.0,586.3 594.0,586.2 595.1,586.2 595.1,586.1 596.1,586.1 596.1,585.7 597.1,585.7 597.1,587.6 598.1,587.6 598.1,589.4 599.1,589.4 599.1,588.3 600.2,588.3 600.2,591.6 601.2,591.6 601.2,590.0 602.2,590.0 602.2,591.1 603.2,591.1 603.2,591.7 604.2,591.7 604.2,592.2 605.3,592.2 605.3,592.6 606.3,592.6 606.3,593.7 607.3,593.7 607.3,594.6 608.3,594.6 608.3,594.7 609.3,594.7 609.3,595.2 610.4,595.2 610.4,595.5 611.4,595.5 611.4,595.7 612.4,595.7 612.4,596.1 613.4,596.1 613.4,596.2 614.4,596.2 614.4,596.5 615.5,596.5 615.5,596.9 616.5,596.9 616.5,597.2 617.5,597.2 617.5,597.5 618.5,597.5 618.5,597.5 619.5,597.5 619.5,597.6 620.6,597.6 620.6,597.8 621.6,597.8 621.6,597.8 622.6,597.8 622.6,598.0 623.6,598.0 623.6,598.1 624.6,598.1 624.6,598.2 625.7,598.2 625.7,598.5 626.7,598.5 626.7,598.4 627.7,598.4 627.7,598.5 628.7,598.5 628.7,598.6 629.7,598.6 629.7,598.6 630.8,598.6 630.8,598.7 631.8,598.7 631.8,598.8 632.8,598.8 632.8,598.9 633.8,598.9 633.8,599.0 634.8,599.0 634.8,599.0 635.9,599.0 635.9,599.1 636.9,599.1 636.9,599.2 637.9,599.2 637.9,599.2 638.9,599.2 638.9,599.3 639.9,599.3 639.9,599.3 641.0,599.3 641.0,599.4 642.0,599.4 642.0,599.5 643.0,599.5 643.0,599.4 644.0,599.4 644.0,599.5 645.0,599.5 645.0,599.5 646.1,599.5 646.1,599.5 647.1,599.5 647.1,599.6 648.1,599.6 648.1,599.6 649.1,599.6 649.1,599.6 650.1,599.6 650.1,599.6 651.2,599.6 651.2,599.6 652.2,599.6 652.2,599.7 653.2,599.7 653.2,599.7 654.2,599.7 654.2,599.7 655.2,599.7 655.2,599.7 656.3,599.7 656.3,599.7 657.3,599.7 657.3,599.7 658.3,599.7 658.3,599.7 659.3,599.7 659.3,599.7 660.3,599.7 660.3,599.7 661.4,599.7 661.4,599.7 662.4,599.7 662.4,599.8 663.4,599.8 663.4,599.8 664.4,599.8 664.4,599.8" fill="#c87a28" />
<line x1="536.92" y1="598.80" x2="536.92" y2="599.80" stroke="rgba(110,55,0,0.22)" stroke-width="0.4" />
<line x1="537.94" y1="598.66" x2="537.94" y2="599.80" stroke="rgba(110,55,0,0.22)" stroke-width="0.4" />
<line x1="538.96" y1="598.77" x2="538.96" y2="599.80" stroke="rgba(110,55,0,0.22)" stroke-width="0.4" />
<line x1="539.98" y1="598.45" x2="539.98" y2="599.80" stroke="rgba(110,55,0,0.22)" stroke-width="0.4" />
<line x1="541.00" y1="598.42" x2="541.00" y2="599.80" stroke="rgba(110,55,0,0.22)" stroke-width="0.4" />
<line x1="542.02" y1="598.39" x2="542.02" y2="599.80" stroke="rgba(110,55,0,0.22)" stroke-width="0.4" />
<line x1="543.04" y1="598.16" x2="543.04" y2="599.80" stroke="rgba(110,55,0,0.22)" stroke-width="0.4" />
<line x1="544.06" y1="597.65" x2="544.06" y2="599.80" stroke="rgba(110,55,0,0.22)" stroke-width="0.4" />
<line x1="545.08" y1="597.90" x2="545.08" y2="599.80" stroke="rgba(110,55,0,0.22)" stroke-width="0.4" />
<line x1="546.10" y1="597.49" x2="546.10" y2="599.80" stroke="rgba(110,55,0,0.22)" stroke-width="0.4" />
<line x1="547.12" y1="597.56" x2="547.12" y2="599.80" stroke="rgba(110,55,0,0.22)" stroke-width="0.4" />
<line x1="548.14" y1="597.35" x2="548.14" y2="599.80" stroke="rgba(110,55,0,0.22)" stroke-width="0.4" />
<line x1="549.16" y1="597.23" x2="549.16" y2="599.80" stroke="rgba(110,55,0,0.22)" stroke-width="0.4" />
<line x1="550.18" y1="596.58" x2="550.18" y2="599.80" stroke="rgba(110,55,0,0.22)" stroke-width="0.4" />
<line x1="551.20" y1="596.56" x2="551.20" y2="599.80" stroke="rgba(110,55,0,0.22)" stroke-width="0.4" />
<line x1="552.22" y1="596.28" x2="552.22" y2="599.80" stroke="rgba(110,55,0,0.22)" stroke-width="0.4" />
<line x1="553.24" y1="595.79" x2="553.24" y2="599.80" stroke="rgba(110,55,0,0.22)" stroke-width="0.4" />
<line x1="554.26" y1="595.46" x2="554.26" y2="599.80" stroke="rgba(110,55,0,0.22)" stroke-width="0.4" />
<line x1="555.28" y1="595.23" x2="555.28" y2="599.80" stroke="rgba(110,55,0,0.22)" stroke-width="0.4" />
<line x1="556.30" y1="595.11" x2="556.30" y2="599.80" stroke="rgba(110,55,0,0.22)" stroke-width="0.4" />
<line x1="557.32" y1="594.38" x2="557.32" y2="599.80" stroke="rgba(110,55,0,0.22)" stroke-width="0.4" />
<line x1="558.34" y1="593.79" x2="558.34" y2="599.80" stroke="rgba(110,55,0,0.22)" stroke-width="0.4" />
<line x1="559.36" y1="593.52" x2="559.36" y2="599.80" stroke="rgba(110,55,0,0.22)" stroke-width="0.4" />
<line x1="560.38" y1="593.06" x2="560.38" y2="599.80" stroke="rgba(110,55,0,0.22)" stroke-width="0.4" />
<line x1="561.40" y1="591.72" x2="561.40" y2="599.80" stroke="rgba(110,55,0,0.22)" stroke-width="0.4" />
<line x1="562.42" y1="591.51" x2="562.42" y2="599.80" stroke="rgba(110,55,0,0.22)" stroke-width="0.4" />
<line x1="563.44" y1="591.67" x2="563.44" y2="599.80" stroke="rgba(110,55,0,0.22)" stroke-width="0.4" />
<line x1="564.46" y1="590.75" x2="564.46" y2="599.80" stroke="rgba(110,55,0,0.22)" stroke-width="0.4" />
<line x1="565.48" y1="589.31" x2="565.48" y2="599.80" stroke="rgba(110,55,0,0.22)" stroke-width="0.4" />
<line x1="566.50" y1="588.56" x2="566.50" y2="599.80" stroke="rgba(110,55,0,0.22)" stroke-width="0.4" />
<line x1="567.52" y1="588.15" x2="567.52" y2="599.80" stroke="rgba(110,55,0,0.22)" stroke-width="0.4" />
<line x1="568.54" y1="587.72" x2="568.54" y2="599.80" stroke="rgba(110,55,0,0.22)" stroke-width="0.4" />
<line x1="569.56" y1="585.63" x2="569.56" y2="599.80" stroke="rgba(110,55,0,0.22)" stroke-width="0.4" />
<line x1="570.58" y1="586.08" x2="570.58" y2="599.80" stroke="rgba(110,55,0,0.22)" stroke-width="0.4" />
<line x1="571.60" y1="586.33" x2="571.60" y2="599.80" stroke="rgba(110,55,0,0.22)" stroke-width="0.4" />
<line x1="572.62" y1="586.55" x2="572.62" y2="599.80" stroke="rgba(110,55,0,0.22)" stroke-width="0.4" />
<line x1="573.64" y1="587.02" x2="573.64" y2="599.80" stroke="rgba(110,55,0,0.22)" stroke-width="0.4" />
<line x1="574.66" y1="584.25" x2="574.66" y2="599.80" stroke="rgba(110,55,0,0.22)" stroke-width="0.4" />
<line x1="575.68" y1="588.17" x2="575.68" y2="599.80" stroke="rgba(110,55,0,0.22)" stroke-width="0.4" />
<line x1="576.70" y1="583.42" x2="576.70" y2="599.80" stroke="rgba(110,55,0,0.22)" stroke-width="0.4" />
<line x1="577.72" y1="586.07" x2="577.72" y2="599.80" stroke="rgba(110,55,0,0.22)" stroke-width="0.4" />
<line x1="578.74" y1="584.26" x2="578.74" y2="599.80" stroke="rgba(110,55,0,0.22)" stroke-width="0.4" />
<line x1="579.76" y1="584.63" x2="579.76" y2="599.80" stroke="rgba(110,55,0,0.22)" stroke-width="0.4" />
<line x1="580.78" y1="584.49" x2="580.78" y2="599.80" stroke="rgba(110,55,0,0.22)" stroke-width="0.4" />
<line x1="581.80" y1="586.05" x2="581.80" y2="599.80" stroke="rgba(110,55,0,0.22)" stroke-width="0.4" />
<line x1="582.82" y1="583.02" x2="582.82" y2="599.80" stroke="rgba(110,55,0,0.22)" stroke-width="0.4" />
<line x1="583.84" y1="583.46" x2="583.84" y2="599.80" stroke="rgba(110,55,0,0.22)" stroke-width="0.4" />
<line x1="584.86" y1="586.18" x2="584.86" y2="599.80" stroke="rgba(110,55,0,0.22)" stroke-width="0.4" />
<line x1="585.88" y1="585.91" x2="585.88" y2="599.80" stroke="rgba(110,55,0,0.22)" stroke-width="0.4" />
<line x1="586.90" y1="585.76" x2="586.90" y2="599.80" stroke="rgba(110,55,0,0.22)" stroke-width="0.4" />
<line x1="587.92" y1="585.33" x2="587.92" y2="599.80" stroke="rgba(110,55,0,0.22)" stroke-width="0.4" />
<line x1="588.94" y1="584.29" x2="588.94" y2="599.80" stroke="rgba(110,55,0,0.22)" stroke-width="0.4" />
<line x1="589.96" y1="582.63" x2="589.96" y2="599.80" stroke="rgba(110,55,0,0.22)" stroke-width="0.4" />
<line x1="590.98" y1="583.34" x2="590.98" y2="599.80" stroke="rgba(110,55,0,0.22)" stroke-width="0.4" />
<line x1="592.00" y1="589.20" x2="592.00" y2="599.80" stroke="rgba(110,55,0,0.22)" stroke-width="0.4" />
<line x1="593.02" y1="586.56" x2="593.02" y2="599.80" stroke="rgba(110,55,0,0.22)" stroke-width="0.4" />
<line x1="594.04" y1="586.49" x2="594.04" y2="599.80" stroke="rgba(110,55,0,0.22)" stroke-width="0.4" />
<line x1="595.06" y1="586.36" x2="595.06" y2="599.80" stroke="rgba(110,55,0,0.22)" stroke-width="0.4" />
<line x1="596.08" y1="585.95" x2="596.08" y2="599.80" stroke="rgba(110,55,0,0.22)" stroke-width="0.4" />
<line x1="597.10" y1="587.86" x2="597.10" y2="599.80" stroke="rgba(110,55,0,0.22)" stroke-width="0.4" />
<line x1="598.12" y1="589.73" x2="598.12" y2="599.80" stroke="rgba(110,55,0,0.22)" stroke-width="0.4" />
<line x1="599.14" y1="588.57" x2="599.14" y2="599.80" stroke="rgba(110,55,0,0.22)" stroke-width="0.4" />
<line x1="600.16" y1="591.92" x2="600.16" y2="599.80" stroke="rgba(110,55,0,0.22)" stroke-width="0.4" />
<line x1="601.18" y1="590.28" x2="601.18" y2="599.80" stroke="rgba(110,55,0,0.22)" stroke-width="0.4" />
<line x1="602.20" y1="591.42" x2="602.20" y2="599.80" stroke="rgba(110,55,0,0.22)" stroke-width="0.4" />
<line x1="603.22" y1="591.98" x2="603.22" y2="599.80" stroke="rgba(110,55,0,0.22)" stroke-width="0.4" />
<line x1="604.24" y1="592.55" x2="604.24" y2="599.80" stroke="rgba(110,55,0,0.22)" stroke-width="0.4" />
<line x1="605.26" y1="592.85" x2="605.26" y2="599.80" stroke="rgba(110,55,0,0.22)" stroke-width="0.4" />
<line x1="606.28" y1="594.02" x2="606.28" y2="599.80" stroke="rgba(110,55,0,0.22)" stroke-width="0.4" />
<line x1="607.30" y1="594.91" x2="607.30" y2="599.80" stroke="rgba(110,55,0,0.22)" stroke-width="0.4" />
<line x1="608.32" y1="595.00" x2="608.32" y2="599.80" stroke="rgba(110,55,0,0.22)" stroke-width="0.4" />
<line x1="609.34" y1="595.50" x2="609.34" y2="599.80" stroke="rgba(110,55,0,0.22)" stroke-width="0.4" />
<line x1="610.36" y1="595.82" x2="610.36" y2="599.80" stroke="rgba(110,55,0,0.22)" stroke-width="0.4" />
<line x1="611.38" y1="595.98" x2="611.38" y2="599.80" stroke="rgba(110,55,0,0.22)" stroke-width="0.4" />
<line x1="612.40" y1="596.45" x2="612.40" y2="599.80" stroke="rgba(110,55,0,0.22)" stroke-width="0.4" />
<line x1="613.42" y1="596.52" x2="613.42" y2="599.80" stroke="rgba(110,55,0,0.22)" stroke-width="0.4" />
<line x1="614.44" y1="596.76" x2="614.44" y2="599.80" stroke="rgba(110,55,0,0.22)" stroke-width="0.4" />
<line x1="615.46" y1="597.15" x2="615.46" y2="599.80" stroke="rgba(110,55,0,0.22)" stroke-width="0.4" />
<line x1="616.48" y1="597.47" x2="616.48" y2="599.80" stroke="rgba(110,55,0,0.22)" stroke-width="0.4" />
<line x1="617.50" y1="597.75" x2="617.50" y2="599.80" stroke="rgba(110,55,0,0.22)" stroke-width="0.4" />
<line x1="618.52" y1="597.76" x2="618.52" y2="599.80" stroke="rgba(110,55,0,0.22)" stroke-width="0.4" />
<line x1="619.54" y1="597.94" x2="619.54" y2="599.80" stroke="rgba(110,55,0,0.22)" stroke-width="0.4" />
<line x1="620.56" y1="598.06" x2="620.56" y2="599.80" stroke="rgba(110,55,0,0.22)" stroke-width="0.4" />
<line x1="621.58" y1="598.12" x2="621.58" y2="599.80" stroke="rgba(110,55,0,0.22)" stroke-width="0.4" />
<line x1="622.60" y1="598.28" x2="622.60" y2="599.80" stroke="rgba(110,55,0,0.22)" stroke-width="0.4" />
<line x1="623.62" y1="598.36" x2="623.62" y2="599.80" stroke="rgba(110,55,0,0.22)" stroke-width="0.4" />
<line x1="624.64" y1="598.47" x2="624.64" y2="599.80" stroke="rgba(110,55,0,0.22)" stroke-width="0.4" />
<line x1="625.66" y1="598.82" x2="625.66" y2="599.80" stroke="rgba(110,55,0,0.22)" stroke-width="0.4" />
<line x1="626.68" y1="598.71" x2="626.68" y2="599.80" stroke="rgba(110,55,0,0.22)" stroke-width="0.4" />
<line x1="627.70" y1="598.79" x2="627.70" y2="599.80" stroke="rgba(110,55,0,0.22)" stroke-width="0.4" />
<rect x="520.60" y="599.42" width="1.27" height="0.06" fill="#f0a878" />
<rect x="520.60" y="598.56" width="1.27" height="0.86" fill="#f0bcbc" />
<rect x="521.62" y="598.62" width="1.27" height="0.74" fill="#f0bcbc" />
<rect x="522.64" y="598.72" width="1.27" height="0.63" fill="#f0bcbc" />
<rect x="523.66" y="599.28" width="1.27" height="0.09" fill="#f0a878" />
<rect x="523.66" y="598.44" width="1.27" height="0.83" fill="#f0bcbc" />
<rect x="524.68" y="598.41" width="1.27" height="0.87" fill="#f0bcbc" />
<rect x="525.70" y="599.20" width="1.27" height="0.08" fill="#f0a878" />
<rect x="525.70" y="598.24" width="1.27" height="0.96" fill="#f0bcbc" />
<rect x="526.72" y="599.15" width="1.27" height="0.13" fill="#f0a878" />
<rect x="526.72" y="598.45" width="1.27" height="0.70" fill="#f0bcbc" />
<rect x="527.74" y="599.13" width="1.27" height="0.06" fill="#f0a878" />
<rect x="527.74" y="597.94" width="1.27" height="1.19" fill="#f0bcbc" />
<rect x="528.76" y="599.01" width="1.27" height="0.07" fill="#f0a878" />
<rect x="528.76" y="598.16" width="1.27" height="0.85" fill="#f0bcbc" />
<rect x="529.78" y="598.98" width="1.27" height="0.12" fill="#f0a878" />
<rect x="529.78" y="597.89" width="1.27" height="1.09" fill="#f0bcbc" />
<rect x="530.80" y="598.86" width="1.27" height="0.13" fill="#f0a878" />
<rect x="530.80" y="597.89" width="1.27" height="0.97" fill="#f0bcbc" />
<rect x="531.82" y="598.78" width="1.27" height="0.05" fill="#f0a878" />
<rect x="531.82" y="597.29" width="1.27" height="1.49" fill="#f0bcbc" />
<rect x="532.84" y="598.74" width="1.27" height="0.08" fill="#f0a878" />
<rect x="532.84" y="597.78" width="1.27" height="0.97" fill="#f0bcbc" />
<rect x="533.86" y="598.58" width="1.27" height="0.13" fill="#f0a878" />
<rect x="533.86" y="597.43" width="1.27" height="1.15" fill="#f0bcbc" />
<rect x="534.88" y="598.57" width="1.27" height="0.09" fill="#f0a878" />
<rect x="534.88" y="597.44" width="1.27" height="1.13" fill="#f0bcbc" />
<rect x="535.90" y="597.47" width="1.27" height="1.11" fill="#f0bcbc" />
<rect x="536.92" y="598.34" width="1.27" height="0.15" fill="#f0a878" />
<rect x="536.92" y="596.77" width="1.27" height="1.57" fill="#f0bcbc" />
<rect x="537.94" y="598.21" width="1.27" height="0.15" fill="#f0a878" />
<rect x="537.94" y="596.91" width="1.27" height="1.30" fill="#f0bcbc" />
<rect x="538.96" y="598.12" width="1.27" height="0.35" fill="#f0a878" />
<rect x="538.96" y="597.03" width="1.27" height="1.09" fill="#f0bcbc" />
<rect x="539.98" y="598.03" width="1.27" height="0.12" fill="#f0a878" />
<rect x="539.98" y="596.71" width="1.27" height="1.32" fill="#f0bcbc" />
<rect x="541.00" y="597.90" width="1.27" height="0.22" fill="#f0a878" />
<rect x="541.00" y="597.09" width="1.27" height="0.81" fill="#f0bcbc" />
<rect x="542.02" y="597.60" width="1.27" height="0.49" fill="#f0a878" />
<rect x="542.02" y="596.10" width="1.27" height="1.50" fill="#f0bcbc" />
<rect x="543.04" y="597.61" width="1.27" height="0.25" fill="#f0a878" />
<rect x="543.04" y="596.20" width="1.27" height="1.41" fill="#f0bcbc" />
<rect x="544.06" y="595.86" width="1.27" height="1.47" fill="#f0bcbc" />
<rect x="545.08" y="597.53" width="1.27" height="0.06" fill="#f0a878" />
<rect x="545.08" y="595.60" width="1.27" height="1.94" fill="#f0bcbc" />
<rect x="546.10" y="596.91" width="1.27" height="0.28" fill="#f0a878" />
<rect x="546.10" y="595.31" width="1.27" height="1.61" fill="#f0bcbc" />
<rect x="547.12" y="597.01" width="1.27" height="0.25" fill="#f0a878" />
<rect x="547.12" y="595.15" width="1.27" height="1.86" fill="#f0bcbc" />
<rect x="548.14" y="596.79" width="1.27" height="0.26" fill="#f0a878" />
<rect x="548.14" y="594.13" width="1.27" height="2.66" fill="#f0bcbc" />
<rect x="549.16" y="596.45" width="1.27" height="0.47" fill="#f0a878" />
<rect x="549.16" y="595.89" width="1.27" height="0.57" fill="#f0bcbc" />
<rect x="550.18" y="596.12" width="1.27" height="0.16" fill="#f0a878" />
<rect x="550.18" y="594.42" width="1.27" height="1.70" fill="#f0bcbc" />
<rect x="551.20" y="595.96" width="1.27" height="0.30" fill="#f0a878" />
<rect x="551.20" y="594.44" width="1.27" height="1.52" fill="#f0bcbc" />
<rect x="552.22" y="595.65" width="1.27" height="0.34" fill="#f0a878" />
<rect x="552.22" y="593.58" width="1.27" height="2.06" fill="#f0bcbc" />
<rect x="553.24" y="594.93" width="1.27" height="0.56" fill="#f0a878" />
<rect x="553.24" y="592.54" width="1.27" height="2.39" fill="#f0bcbc" />
<rect x="554.26" y="594.28" width="1.27" height="0.89" fill="#f0a878" />
<rect x="554.26" y="592.90" width="1.27" height="1.38" fill="#f0bcbc" />
<rect x="555.28" y="594.58" width="1.27" height="0.34" fill="#f0a878" />
<rect x="555.28" y="592.85" width="1.27" height="1.73" fill="#f0bcbc" />
<rect x="556.30" y="593.83" width="1.27" height="0.98" fill="#f0a878" />
<rect x="556.30" y="593.12" width="1.27" height="0.71" fill="#f0bcbc" />
<rect x="557.32" y="592.56" width="1.27" height="1.52" fill="#f0a878" />
<rect x="557.32" y="592.45" width="1.27" height="0.10" fill="#ffcd90" />
<rect x="558.34" y="592.51" width="1.27" height="0.99" fill="#f0a878" />
<rect x="558.34" y="592.14" width="1.27" height="0.37" fill="#f0bcbc" />
<rect x="559.36" y="592.31" width="1.27" height="0.91" fill="#f0a878" />
<rect x="559.36" y="590.73" width="1.27" height="1.59" fill="#f0bcbc" />
<rect x="560.38" y="590.36" width="1.27" height="2.39" fill="#f0a878" />
<rect x="560.38" y="589.88" width="1.27" height="0.48" fill="#f0bcbc" />
<rect x="561.40" y="589.76" width="1.27" height="1.66" fill="#f0a878" />
<rect x="561.40" y="588.90" width="1.27" height="0.86" fill="#f0bcbc" />
<rect x="562.42" y="589.80" width="1.27" height="1.42" fill="#f0a878" />
<rect x="562.42" y="589.71" width="1.27" height="0.08" fill="#f0bcbc" />
<rect x="563.44" y="590.28" width="1.27" height="1.08" fill="#aa9b34" />
<rect x="563.44" y="588.65" width="1.27" height="1.63" fill="#ffcd90" />
<rect x="564.46" y="588.50" width="1.27" height="1.95" fill="#f0a878" />
<rect x="564.46" y="588.32" width="1.27" height="0.19" fill="#f0bcbc" />
<rect x="565.48" y="587.55" width="1.27" height="1.46" fill="#f0a878" />
<rect x="565.48" y="587.07" width="1.27" height="0.48" fill="#f0bcbc" />
<rect x="566.50" y="587.43" width="1.27" height="0.83" fill="#aa9b34" />
<rect x="566.50" y="586.58" width="1.27" height="0.86" fill="#ffcd90" />
<rect x="567.52" y="587.27" width="1.27" height="0.58" fill="#f0a878" />
<rect x="567.52" y="585.21" width="1.27" height="2.05" fill="#ffcd90" />
<rect x="568.54" y="586.60" width="1.27" height="0.83" fill="#aa9b34" />
<rect x="568.54" y="584.24" width="1.27" height="2.36" fill="#ffcd90" />
<rect x="569.56" y="585.21" width="1.27" height="0.12" fill="#aa9b34" />
<rect x="569.56" y="584.98" width="1.27" height="0.23" fill="#ffcd90" />
<rect x="570.58" y="584.58" width="1.27" height="1.21" fill="#aa9b34" />
<rect x="570.58" y="582.44" width="1.27" height="2.13" fill="#ffcd90" />
<rect x="571.60" y="583.47" width="1.27" height="2.56" fill="#aa9b34" />
<rect x="571.60" y="581.83" width="1.27" height="1.64" fill="#ffcd90" />
<rect x="572.62" y="582.27" width="1.27" height="3.98" fill="#aa9b34" />
<rect x="572.62" y="580.69" width="1.27" height="1.57" fill="#ffcd90" />
<rect x="573.64" y="580.49" width="1.27" height="6.23" fill="#aa9b34" />
<rect x="573.64" y="579.91" width="1.27" height="0.58" fill="#ffcd90" />
<rect x="574.66" y="579.86" width="1.27" height="4.09" fill="#aa9b34" />
<rect x="574.66" y="579.65" width="1.27" height="0.21" fill="#ffcd90" />
<rect x="575.68" y="581.84" width="1.27" height="6.03" fill="#aa9b34" />
<rect x="575.68" y="578.15" width="1.27" height="3.69" fill="#ffcd90" />
<rect x="576.70" y="579.22" width="1.27" height="3.89" fill="#aa9b34" />
<rect x="576.70" y="574.40" width="1.27" height="4.83" fill="#ffcd90" />
<rect x="577.72" y="578.18" width="1.27" height="7.59" fill="#aa9b34" />
<rect x="577.72" y="576.99" width="1.27" height="1.19" fill="#62b06c" />
<rect x="578.74" y="577.73" width="1.27" height="6.23" fill="#aa9b34" />
<rect x="578.74" y="576.49" width="1.27" height="1.24" fill="#ffcd90" />
<rect x="579.76" y="578.01" width="1.27" height="6.32" fill="#aa9b34" />
<rect x="579.76" y="577.67" width="1.27" height="0.34" fill="#ffcd90" />
<rect x="580.78" y="576.44" width="1.27" height="7.75" fill="#aa9b34" />
<rect x="580.78" y="575.10" width="1.27" height="1.34" fill="#62b06c" />
<rect x="581.80" y="577.51" width="1.27" height="8.24" fill="#aa9b34" />
<rect x="581.80" y="577.11" width="1.27" height="0.40" fill="#62b06c" />
<rect x="582.82" y="576.62" width="1.27" height="6.10" fill="#aa9b34" />
<rect x="582.82" y="574.84" width="1.27" height="1.78" fill="#ffcd90" />
<rect x="583.84" y="578.50" width="1.27" height="4.66" fill="#aa9b34" />
<rect x="583.84" y="574.82" width="1.27" height="3.68" fill="#ffcd90" />
<rect x="584.86" y="577.05" width="1.27" height="8.83" fill="#aa9b34" />
<rect x="584.86" y="575.03" width="1.27" height="2.02" fill="#62b06c" />
<rect x="585.88" y="577.49" width="1.27" height="8.12" fill="#aa9b34" />
<rect x="585.88" y="577.31" width="1.27" height="0.18" fill="#62b06c" />
<rect x="586.90" y="578.90" width="1.27" height="6.57" fill="#aa9b34" />
<rect x="586.90" y="578.30" width="1.27" height="0.60" fill="#ffcd90" />
<rect x="587.92" y="578.15" width="1.27" height="6.87" fill="#aa9b34" />
<rect x="587.92" y="578.05" width="1.27" height="0.11" fill="#62b06c" />
<rect x="588.94" y="579.80" width="1.27" height="4.19" fill="#aa9b34" />
<rect x="588.94" y="578.28" width="1.27" height="1.52" fill="#ffcd90" />
<rect x="589.96" y="581.39" width="1.27" height="0.95" fill="#aa9b34" />
<rect x="589.96" y="579.73" width="1.27" height="1.65" fill="#ffcd90" />
<rect x="590.98" y="581.65" width="1.27" height="1.38" fill="#aa9b34" />
<rect x="590.98" y="580.81" width="1.27" height="0.85" fill="#62b06c" />
<rect x="592.00" y="581.60" width="1.27" height="7.29" fill="#aa9b34" />
<rect x="592.00" y="579.79" width="1.27" height="1.81" fill="#62b06c" />
<rect x="593.02" y="584.20" width="1.27" height="2.06" fill="#aa9b34" />
<rect x="593.02" y="581.05" width="1.27" height="3.15" fill="#ffcd90" />
<rect x="594.04" y="583.37" width="1.27" height="2.83" fill="#aa9b34" />
<rect x="594.04" y="583.16" width="1.27" height="0.21" fill="#ffcd90" />
<rect x="595.06" y="584.40" width="1.27" height="1.67" fill="#aa9b34" />
<rect x="595.06" y="583.65" width="1.27" height="0.75" fill="#62b06c" />
<rect x="596.08" y="585.32" width="1.27" height="0.33" fill="#f0a878" />
<rect x="596.08" y="584.23" width="1.27" height="1.09" fill="#f0bcbc" />
<rect x="597.10" y="587.26" width="1.27" height="0.30" fill="#f0a878" />
<rect x="597.10" y="586.43" width="1.27" height="0.82" fill="#f0bcbc" />
<rect x="598.12" y="588.54" width="1.27" height="0.89" fill="#aa9b34" />
<rect x="598.12" y="587.27" width="1.27" height="1.27" fill="#ffcd90" />
<rect x="599.14" y="588.16" width="1.27" height="0.11" fill="#9a8a60" />
<rect x="599.14" y="587.95" width="1.27" height="0.21" fill="#f0bcbc" />
<rect x="600.16" y="589.93" width="1.27" height="1.69" fill="#aa9b34" />
<rect x="600.16" y="589.20" width="1.27" height="0.73" fill="#ffcd90" />
<rect x="601.18" y="589.74" width="1.27" height="0.24" fill="#f0a878" />
<rect x="601.18" y="589.67" width="1.27" height="0.07" fill="#f0bcbc" />
<rect x="602.20" y="590.88" width="1.27" height="0.24" fill="#f0a878" />
<rect x="602.20" y="590.22" width="1.27" height="0.66" fill="#f0bcbc" />
<rect x="603.22" y="591.09" width="1.27" height="0.58" fill="#9a8a60" />
<rect x="604.24" y="592.00" width="1.27" height="0.25" fill="#f0a878" />
<rect x="604.24" y="591.58" width="1.27" height="0.42" fill="#f0bcbc" />
<rect x="605.26" y="592.11" width="1.27" height="0.44" fill="#f0a878" />
<rect x="605.26" y="591.75" width="1.27" height="0.36" fill="#f0bcbc" />
<rect x="606.28" y="593.09" width="1.27" height="0.63" fill="#9a8a60" />
<rect x="606.28" y="590.68" width="1.27" height="2.41" fill="#f0bcbc" />
<rect x="607.30" y="593.68" width="1.27" height="0.93" fill="#f0a878" />
<rect x="607.30" y="592.41" width="1.27" height="1.27" fill="#f0bcbc" />
<rect x="608.32" y="594.09" width="1.27" height="0.61" fill="#f0a878" />
<rect x="608.32" y="593.37" width="1.27" height="0.72" fill="#f0bcbc" />
<rect x="609.34" y="594.99" width="1.27" height="0.21" fill="#f0a878" />
<rect x="609.34" y="592.04" width="1.27" height="2.95" fill="#f0bcbc" />
<rect x="610.36" y="595.01" width="1.27" height="0.51" fill="#f0a878" />
<rect x="610.36" y="593.55" width="1.27" height="1.46" fill="#f0bcbc" />
<rect x="611.38" y="595.51" width="1.27" height="0.17" fill="#9a8a60" />
<rect x="611.38" y="594.27" width="1.27" height="1.24" fill="#f0bcbc" />
<rect x="612.40" y="595.74" width="1.27" height="0.40" fill="#f0a878" />
<rect x="612.40" y="594.49" width="1.27" height="1.25" fill="#f0bcbc" />
<rect x="613.42" y="595.98" width="1.27" height="0.24" fill="#f0a878" />
<rect x="613.42" y="593.78" width="1.27" height="2.20" fill="#f0bcbc" />
<rect x="614.44" y="596.11" width="1.27" height="0.35" fill="#f0a878" />
<rect x="614.44" y="594.81" width="1.27" height="1.30" fill="#f0bcbc" />
<rect x="615.46" y="596.71" width="1.27" height="0.15" fill="#f0a878" />
<rect x="615.46" y="595.24" width="1.27" height="1.47" fill="#f0bcbc" />
<rect x="616.48" y="596.77" width="1.27" height="0.41" fill="#f0a878" />
<rect x="616.48" y="595.11" width="1.27" height="1.66" fill="#f0bcbc" />
<rect x="617.50" y="597.05" width="1.27" height="0.40" fill="#f0a878" />
<rect x="617.50" y="595.72" width="1.27" height="1.33" fill="#f0bcbc" />
<rect x="618.52" y="597.26" width="1.27" height="0.20" fill="#f0a878" />
<rect x="618.52" y="595.12" width="1.27" height="2.14" fill="#f0bcbc" />
<rect x="619.54" y="597.50" width="1.27" height="0.14" fill="#9a8a60" />
<rect x="619.54" y="595.71" width="1.27" height="1.79" fill="#f0bcbc" />
<rect x="620.56" y="597.38" width="1.27" height="0.38" fill="#f0a878" />
<rect x="620.56" y="596.23" width="1.27" height="1.15" fill="#f0bcbc" />
<rect x="621.58" y="597.74" width="1.27" height="0.08" fill="#f0a878" />
<rect x="621.58" y="596.53" width="1.27" height="1.21" fill="#f0bcbc" />
<rect x="622.60" y="597.87" width="1.27" height="0.11" fill="#f0a878" />
<rect x="622.60" y="595.67" width="1.27" height="2.20" fill="#f0bcbc" />
<rect x="623.62" y="597.95" width="1.27" height="0.11" fill="#f0a878" />
<rect x="623.62" y="596.55" width="1.27" height="1.40" fill="#f0bcbc" />
<rect x="624.64" y="598.09" width="1.27" height="0.08" fill="#f0a878" />
<rect x="624.64" y="596.32" width="1.27" height="1.77" fill="#f0bcbc" />
<rect x="625.66" y="598.29" width="1.27" height="0.23" fill="#f0a878" />
<rect x="625.66" y="597.15" width="1.27" height="1.14" fill="#f0bcbc" />
<rect x="626.68" y="598.34" width="1.27" height="0.07" fill="#9a8a60" />
<rect x="626.68" y="596.79" width="1.27" height="1.55" fill="#f0bcbc" />
<rect x="627.70" y="598.42" width="1.27" height="0.07" fill="#9a8a60" />
<rect x="627.70" y="597.05" width="1.27" height="1.38" fill="#f0bcbc" />
<rect x="628.72" y="598.50" width="1.27" height="0.12" fill="#f0a878" />
<rect x="628.72" y="597.20" width="1.27" height="1.29" fill="#f0bcbc" />
<rect x="629.74" y="597.69" width="1.27" height="0.90" fill="#f0bcbc" />
<rect x="630.76" y="597.34" width="1.27" height="1.34" fill="#f0bcbc" />
<rect x="631.78" y="598.76" width="1.27" height="0.07" fill="#f0a878" />
<rect x="631.78" y="597.94" width="1.27" height="0.82" fill="#f0bcbc" />
<rect x="632.80" y="598.85" width="1.27" height="0.08" fill="#9a8a60" />
<rect x="632.80" y="597.84" width="1.27" height="1.01" fill="#f0bcbc" />
<rect x="633.82" y="598.96" width="1.27" height="0.06" fill="#9a8a60" />
<rect x="633.82" y="597.84" width="1.27" height="1.12" fill="#f0bcbc" />
<rect x="634.84" y="598.03" width="1.27" height="0.96" fill="#f0bcbc" />
<rect x="635.86" y="598.25" width="1.27" height="0.87" fill="#f0bcbc" />
<rect x="636.88" y="598.11" width="1.27" height="1.04" fill="#f0bcbc" />
<rect x="637.90" y="598.37" width="1.27" height="0.80" fill="#f0bcbc" />
<rect x="638.92" y="598.69" width="1.27" height="0.55" fill="#f0bcbc" />
<rect x="639.94" y="598.39" width="1.27" height="0.91" fill="#f0bcbc" />
<rect x="640.96" y="598.29" width="1.27" height="1.07" fill="#f0bcbc" />
<rect x="641.98" y="599.35" width="1.27" height="0.10" fill="#f0a878" />
<rect x="641.98" y="598.70" width="1.27" height="0.65" fill="#f0bcbc" />
<rect x="643.00" y="598.66" width="1.27" height="0.76" fill="#f0bcbc" />
<rect x="644.02" y="598.73" width="1.27" height="0.74" fill="#f0bcbc" />
<rect x="645.04" y="598.61" width="1.27" height="0.86" fill="#f0bcbc" />
<rect x="646.06" y="598.85" width="1.27" height="0.66" fill="#f0bcbc" />
<rect x="647.08" y="598.90" width="1.27" height="0.64" fill="#f0bcbc" />
<rect x="648.10" y="599.04" width="1.27" height="0.53" fill="#f0bcbc" />
<rect x="649.12" y="599.01" width="1.27" height="0.58" fill="#f0bcbc" />
<rect x="650.14" y="599.06" width="1.27" height="0.54" fill="#f0bcbc" />
<rect x="651.16" y="599.13" width="1.27" height="0.51" fill="#f0bcbc" />
<rect x="652.18" y="599.16" width="1.27" height="0.48" fill="#f0bcbc" />
<rect x="653.20" y="599.23" width="1.27" height="0.43" fill="#f0bcbc" />
<rect x="654.22" y="599.28" width="1.27" height="0.39" fill="#f0bcbc" />
<rect x="655.24" y="599.35" width="1.27" height="0.34" fill="#f0bcbc" />
<rect x="656.26" y="599.40" width="1.27" height="0.31" fill="#f0bcbc" />
<rect x="657.28" y="599.36" width="1.27" height="0.36" fill="#f0bcbc" />
<rect x="658.30" y="599.39" width="1.27" height="0.34" fill="#f0bcbc" />
<rect x="659.32" y="599.46" width="1.27" height="0.28" fill="#f0bcbc" />
<rect x="660.34" y="599.42" width="1.27" height="0.32" fill="#f0bcbc" />
<rect x="661.36" y="599.46" width="1.27" height="0.29" fill="#f0bcbc" />
<rect x="662.38" y="599.48" width="1.27" height="0.27" fill="#f0bcbc" />
<rect x="663.40" y="599.53" width="1.27" height="0.23" fill="#f0bcbc" />
<polygon points="576.5,599.8 576.5,585.0 576.9,585.0 576.9,582.1 577.3,582.1 577.3,577.8 577.7,577.8 577.7,577.4 578.1,577.4 578.1,577.2 578.5,577.2 578.5,577.0 578.9,577.0 578.9,576.9 579.4,576.9 579.4,576.7 579.8,576.7 579.8,576.6 580.2,576.6 580.2,576.5 580.6,576.5 580.6,576.4 581.0,576.4 581.0,576.4 581.4,576.4 581.4,576.3 581.8,576.3 581.8,576.3 582.2,576.3 582.2,576.3 582.6,576.3 582.6,576.3 583.0,576.3 583.0,576.3 583.4,576.3 583.4,576.4 583.8,576.4 583.8,576.5 584.2,576.5 584.2,576.6 584.7,576.6 584.7,576.7 585.1,576.7 585.1,576.8 585.5,576.8 585.5,577.0 585.9,577.0 585.9,577.1 586.3,577.1 586.3,577.3 586.7,577.3 586.7,577.5 587.1,577.5 587.1,577.8 587.5,577.8 587.5,582.1 587.9,582.1 587.9,585.0 588.3,585.0 587.9,599.8" fill="rgba(70,50,90,0.15)" />
<line x1="521.10" y1="429.20" x2="521.10" y2="600.50" stroke="#5a5a5a" stroke-width="0.85" />
<line x1="520.70" y1="600.10" x2="664.20" y2="600.10" stroke="#5a5a5a" stroke-width="0.85" />
<text x="516.70" y="602.60" font-size="7.8" text-anchor="end" fill="#262626" >0</text>
<text x="516.70" y="569.00" font-size="7.8" text-anchor="end" fill="#262626" >0.4</text>
<text x="516.70" y="535.40" font-size="7.8" text-anchor="end" fill="#262626" >0.8</text>
<text x="516.70" y="501.80" font-size="7.8" text-anchor="end" fill="#262626" >1.2</text>
<text x="516.70" y="468.20" font-size="7.8" text-anchor="end" fill="#262626" >1.6</text>
<text x="519.40" y="610.10" font-size="7.8" text-anchor="middle" fill="#262626" >–6</text>
<text x="550.00" y="610.10" font-size="7.8" text-anchor="middle" fill="#262626" >–3</text>
<text x="581.80" y="610.10" font-size="7.8" text-anchor="middle" fill="#262626" >0</text>
<text x="612.40" y="610.10" font-size="7.8" text-anchor="middle" fill="#262626" >3</text>
<text x="643.00" y="610.10" font-size="7.8" text-anchor="middle" fill="#262626" >6</text>
<text transform="translate(497.70,514.00) rotate(-90)" font-size="7.8" text-anchor="middle" fill="#262626">Density</text>
<text x="591.90" y="623.30" font-size="7.8" text-anchor="middle" fill="#262626" >Velocity error (mm s<tspan dy="-2.8" font-size="4.6">−1</tspan><tspan dy="2.8">)</tspan></text>
<rect x="588.50" y="435.45" width="13.80" height="4.70" fill="#9db1ef" />
<text x="607.70" y="440.60" font-size="7.8" text-anchor="start" fill="#262626" >Retro (<tspan font-style="italic">σ</tspan> = 0.3 mm s<tspan dy="-2.8" font-size="4.6">−1</tspan><tspan dy="2.8">)</tspan></text>
<rect x="588.50" y="445.35" width="13.80" height="4.70" fill="#62b06c" />
<text x="607.70" y="450.50" font-size="7.8" text-anchor="start" fill="#262626" >50% (<tspan font-style="italic">σ</tspan> = 2.0 mm s<tspan dy="-2.8" font-size="4.6">−1</tspan><tspan dy="2.8">)</tspan></text>
<rect x="588.50" y="455.25" width="13.80" height="4.70" fill="#ffcd90" />
<text x="607.70" y="460.40" font-size="7.8" text-anchor="start" fill="#262626" >10% (<tspan font-style="italic">σ</tspan> = 2.0 mm s<tspan dy="-2.8" font-size="4.6">−1</tspan><tspan dy="2.8">)</tspan></text>
<rect x="588.50" y="465.15" width="13.80" height="4.70" fill="#f0bcbc" />
<text x="607.70" y="470.30" font-size="7.8" text-anchor="start" fill="#262626" >5% (<tspan font-style="italic">σ</tspan> = 3.0 mm s<tspan dy="-2.8" font-size="4.6">−1</tspan><tspan dy="2.8">)</tspan></text>
<text x="491.30" y="431.90" font-size="11" text-anchor="start" font-weight="bold" fill="#000" >g</text>
</svg>
</body></html>
